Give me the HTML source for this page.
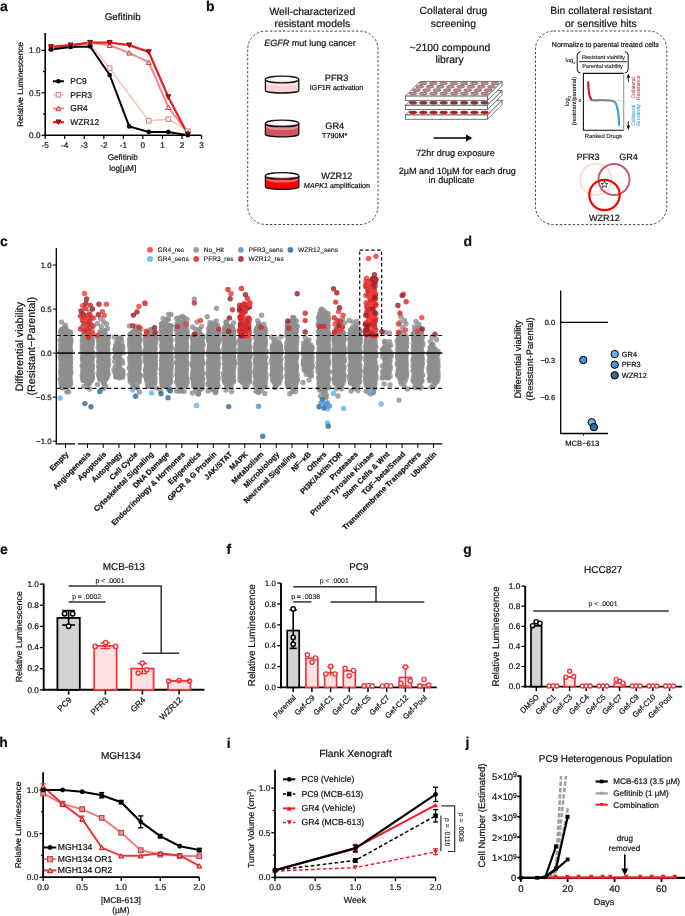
<!DOCTYPE html>
<html><head><meta charset="utf-8"><style>
html,body{margin:0;padding:0;background:#fff;}
svg{display:block;will-change:transform;}
text{font-family:"Liberation Sans",sans-serif;stroke:#111;stroke-width:0.2px;text-rendering:geometricPrecision;}
</style></head><body>
<svg width="685" height="916" viewBox="0 0 685 916">
<defs><clipPath id="clipj"><rect x="521" y="776" width="60" height="102"/></clipPath></defs>
<g fill="#111">
<text x="0" y="10.5" font-size="14" font-weight="bold">a</text>
<text x="122.7" y="20.3" font-size="9.8" text-anchor="middle">Gefitinib</text>
<line x1="45.2" y1="33" x2="45.2" y2="136" stroke="#000" stroke-width="1.6" />
<line x1="44.4" y1="135.3" x2="201.6" y2="135.3" stroke="#000" stroke-width="1.6" />
<line x1="41.5" y1="135.3" x2="45.2" y2="135.3" stroke="#000" stroke-width="1.2" />
<text x="40.5" y="138.2" font-size="8.2" text-anchor="end">0.0</text>
<line x1="41.5" y1="92.8" x2="45.2" y2="92.8" stroke="#000" stroke-width="1.2" />
<text x="40.5" y="95.7" font-size="8.2" text-anchor="end">0.5</text>
<line x1="41.5" y1="50.3" x2="45.2" y2="50.3" stroke="#000" stroke-width="1.2" />
<text x="40.5" y="53.2" font-size="8.2" text-anchor="end">1.0</text>
<line x1="43" y1="114.05" x2="45.2" y2="114.05" stroke="#000" stroke-width="1.2" />
<line x1="43" y1="71.55" x2="45.2" y2="71.55" stroke="#000" stroke-width="1.2" />
<line x1="45.2" y1="135.3" x2="45.2" y2="139" stroke="#000" stroke-width="1.2" />
<text x="45.2" y="148" font-size="8.2" text-anchor="middle">-5</text>
<line x1="64.74" y1="135.3" x2="64.74" y2="139" stroke="#000" stroke-width="1.2" />
<text x="64.74" y="148" font-size="8.2" text-anchor="middle">-4</text>
<line x1="84.28" y1="135.3" x2="84.28" y2="139" stroke="#000" stroke-width="1.2" />
<text x="84.28" y="148" font-size="8.2" text-anchor="middle">-3</text>
<line x1="103.82" y1="135.3" x2="103.82" y2="139" stroke="#000" stroke-width="1.2" />
<text x="103.82" y="148" font-size="8.2" text-anchor="middle">-2</text>
<line x1="123.36" y1="135.3" x2="123.36" y2="139" stroke="#000" stroke-width="1.2" />
<text x="123.36" y="148" font-size="8.2" text-anchor="middle">-1</text>
<line x1="142.9" y1="135.3" x2="142.9" y2="139" stroke="#000" stroke-width="1.2" />
<text x="142.9" y="148" font-size="8.2" text-anchor="middle">0</text>
<line x1="162.44" y1="135.3" x2="162.44" y2="139" stroke="#000" stroke-width="1.2" />
<text x="162.44" y="148" font-size="8.2" text-anchor="middle">1</text>
<line x1="181.98" y1="135.3" x2="181.98" y2="139" stroke="#000" stroke-width="1.2" />
<text x="181.98" y="148" font-size="8.2" text-anchor="middle">2</text>
<line x1="201.52" y1="135.3" x2="201.52" y2="139" stroke="#000" stroke-width="1.2" />
<text x="201.52" y="148" font-size="8.2" text-anchor="middle">3</text>
<text x="122.7" y="160" font-size="8.2" text-anchor="middle">Gefitinib</text>
<text x="122.7" y="170.5" font-size="8.2" text-anchor="middle">log[µM]</text>
<text x="23.3" y="84.4" font-size="8.2" text-anchor="middle" transform="rotate(-90 23.3 84.4)">Relative Luminescence</text>
<polyline points="51.06,48.6 70.6,46.05 90.14,43.5 109.68,68.15 148.76,120.85 168.3,119.15 187.84,131.05" stroke="#f9c4c4" stroke-width="1.6" fill="none" />
<polyline points="51.06,47.75 70.6,45.2 90.14,42.65 109.68,45.2 129.22,52.85 148.76,62.2 168.3,107.25 187.84,132.75" stroke="#f08a8a" stroke-width="2" fill="none" />
<polyline points="51.06,46.9 70.6,45.2 90.14,42.65 109.68,42.65 129.22,45.2 148.76,52 168.3,97.05 187.84,134.45" stroke="#ec1c24" stroke-width="2.2" fill="none" />
<polyline points="51.06,49.45 70.6,46.9 90.14,46.48 109.68,74.95 129.22,126.38 148.76,131.9 168.3,131.9 187.84,135.3" stroke="#000" stroke-width="2" fill="none" />
<rect x="48.76" y="46.3" width="4.6" height="4.6" fill="#fde8e8" stroke="#b88a8a" stroke-width="0.9" />
<rect x="68.3" y="43.75" width="4.6" height="4.6" fill="#fde8e8" stroke="#b88a8a" stroke-width="0.9" />
<rect x="87.84" y="41.2" width="4.6" height="4.6" fill="#fde8e8" stroke="#b88a8a" stroke-width="0.9" />
<rect x="107.38" y="65.85" width="4.6" height="4.6" fill="#fde8e8" stroke="#b88a8a" stroke-width="0.9" />
<rect x="146.46" y="118.55" width="4.6" height="4.6" fill="#fde8e8" stroke="#b88a8a" stroke-width="0.9" />
<rect x="166" y="116.85" width="4.6" height="4.6" fill="#fde8e8" stroke="#b88a8a" stroke-width="0.9" />
<rect x="185.54" y="128.75" width="4.6" height="4.6" fill="#fde8e8" stroke="#b88a8a" stroke-width="0.9" />
<path d="M48.56 50L53.56 50L51.06 45.5Z" fill="#f8c8c8" stroke="#c03040" stroke-width="0.9" />
<path d="M68.1 47.45L73.1 47.45L70.6 42.95Z" fill="#f8c8c8" stroke="#c03040" stroke-width="0.9" />
<path d="M87.64 44.9L92.64 44.9L90.14 40.4Z" fill="#f8c8c8" stroke="#c03040" stroke-width="0.9" />
<path d="M107.18 47.45L112.18 47.45L109.68 42.95Z" fill="#f8c8c8" stroke="#c03040" stroke-width="0.9" />
<path d="M126.72 55.1L131.72 55.1L129.22 50.6Z" fill="#f8c8c8" stroke="#c03040" stroke-width="0.9" />
<path d="M146.26 64.45L151.26 64.45L148.76 59.95Z" fill="#f8c8c8" stroke="#c03040" stroke-width="0.9" />
<path d="M165.8 109.5L170.8 109.5L168.3 105Z" fill="#f8c8c8" stroke="#c03040" stroke-width="0.9" />
<path d="M185.34 135L190.34 135L187.84 130.5Z" fill="#f8c8c8" stroke="#c03040" stroke-width="0.9" />
<path d="M48.56 44.65L53.56 44.65L51.06 49.15Z" fill="#e01020" stroke="#600" stroke-width="0.9" />
<path d="M68.1 42.95L73.1 42.95L70.6 47.45Z" fill="#e01020" stroke="#600" stroke-width="0.9" />
<path d="M87.64 40.4L92.64 40.4L90.14 44.9Z" fill="#e01020" stroke="#600" stroke-width="0.9" />
<path d="M107.18 40.4L112.18 40.4L109.68 44.9Z" fill="#e01020" stroke="#600" stroke-width="0.9" />
<path d="M126.72 42.95L131.72 42.95L129.22 47.45Z" fill="#e01020" stroke="#600" stroke-width="0.9" />
<path d="M146.26 49.75L151.26 49.75L148.76 54.25Z" fill="#e01020" stroke="#600" stroke-width="0.9" />
<path d="M165.8 94.8L170.8 94.8L168.3 99.3Z" fill="#e01020" stroke="#600" stroke-width="0.9" />
<path d="M185.34 132.2L190.34 132.2L187.84 136.7Z" fill="#e01020" stroke="#600" stroke-width="0.9" />
<circle cx="51.06" cy="49.45" r="2.3" fill="#000" />
<circle cx="70.6" cy="46.9" r="2.3" fill="#000" />
<circle cx="90.14" cy="46.48" r="2.3" fill="#000" />
<circle cx="109.68" cy="74.95" r="2.3" fill="#000" />
<circle cx="129.22" cy="126.38" r="2.3" fill="#000" />
<circle cx="148.76" cy="131.9" r="2.3" fill="#000" />
<circle cx="168.3" cy="131.9" r="2.3" fill="#000" />
<circle cx="187.84" cy="135.3" r="2.3" fill="#000" />
<line x1="52.9" y1="81.3" x2="63.9" y2="81.3" stroke="#000" stroke-width="2" />
<circle cx="58.4" cy="81.3" r="2.3" fill="#000" />
<line x1="52.9" y1="94.8" x2="63.9" y2="94.8" stroke="#f9c4c4" stroke-width="1.6" />
<rect x="56.1" y="92.5" width="4.6" height="4.6" fill="#fde8e8" stroke="#b88a8a" stroke-width="0.9" />
<line x1="52.9" y1="108.5" x2="63.9" y2="108.5" stroke="#f08a8a" stroke-width="2" />
<path d="M55.9 110.75L60.9 110.75L58.4 106.25Z" fill="#f8c8c8" stroke="#c03040" stroke-width="0.9" />
<line x1="52.9" y1="122.2" x2="63.9" y2="122.2" stroke="#ec1c24" stroke-width="2.2" />
<path d="M55.9 119.95L60.9 119.95L58.4 124.45Z" fill="#e01020" stroke="#600" stroke-width="0.9" />
<text x="70.3" y="84.2" font-size="8.5">PC9</text>
<text x="70.3" y="97.7" font-size="8.5">PFR3</text>
<text x="70.3" y="111.4" font-size="8.5">GR4</text>
<text x="70.3" y="125.1" font-size="8.5">WZR12</text>
<text x="206" y="10.5" font-size="14" font-weight="bold">b</text>
<text x="312.4" y="14.9" font-size="10.4" text-anchor="middle">Well-characterized</text>
<text x="312.4" y="27.3" font-size="10.4" text-anchor="middle">resistant models</text>
<rect x="247.7" y="31.1" width="130.3" height="193.4" rx="18" ry="18" fill="none" stroke="#333" stroke-width="0.9" stroke-dasharray="2.5,1.8"/>
<text x="310" y="45.8" font-size="9" text-anchor="middle"><tspan font-style="italic">EGFR</tspan> mut lung cancer</text>
<path d="M265.4 79.5 L265.4 90.4 A16.7 2.6 0 0 0 298.8 90.4 L298.8 79.5 Z" fill="#f8d2d5" />
<path d="M265.4 79.5 A16.7 3.3 0 0 0 298.8 79.5 L298.8 82.9 A16.7 3.3 0 0 1 265.4 82.9 Z" fill="#fbe5e6" />
<ellipse cx="282.1" cy="79.5" rx="16.7" ry="3.3" fill="#fff"/>
<path d="M267.9 79.8 A14.2 2.7 0 0 0 296.3 79.8 A14.2 1.48 0 0 1 267.9 79.8 Z" fill="#f5c4c8" />
<path d="M265.4 79.5 L265.4 90.4 A16.7 2.6 0 0 0 298.8 90.4 L298.8 79.5" fill="none" stroke="#111" stroke-width="1.3" />
<ellipse cx="282.1" cy="79.5" rx="16.7" ry="3.3" fill="none" stroke="#111" stroke-width="1.3"/>
<path d="M265.4 123.4 L265.4 134.3 A16.7 2.6 0 0 0 298.8 134.3 L298.8 123.4 Z" fill="#d4555f" />
<path d="M265.4 123.4 A16.7 3.3 0 0 0 298.8 123.4 L298.8 126.8 A16.7 3.3 0 0 1 265.4 126.8 Z" fill="#e48a92" />
<ellipse cx="282.1" cy="123.4" rx="16.7" ry="3.3" fill="#fff"/>
<path d="M267.9 123.7 A14.2 2.7 0 0 0 296.3 123.7 A14.2 1.48 0 0 1 267.9 123.7 Z" fill="#dc707a" />
<path d="M265.4 123.4 L265.4 134.3 A16.7 2.6 0 0 0 298.8 134.3 L298.8 123.4" fill="none" stroke="#111" stroke-width="1.3" />
<ellipse cx="282.1" cy="123.4" rx="16.7" ry="3.3" fill="none" stroke="#111" stroke-width="1.3"/>
<path d="M265.4 175.9 L265.4 186.8 A16.7 2.6 0 0 0 298.8 186.8 L298.8 175.9 Z" fill="#fe0000" />
<path d="M265.4 175.9 A16.7 3.3 0 0 0 298.8 175.9 L298.8 179.3 A16.7 3.3 0 0 1 265.4 179.3 Z" fill="#ff5c5c" />
<ellipse cx="282.1" cy="175.9" rx="16.7" ry="3.3" fill="#fff"/>
<path d="M267.9 176.2 A14.2 2.7 0 0 0 296.3 176.2 A14.2 1.48 0 0 1 267.9 176.2 Z" fill="#ff3a40" />
<path d="M265.4 175.9 L265.4 186.8 A16.7 2.6 0 0 0 298.8 186.8 L298.8 175.9" fill="none" stroke="#111" stroke-width="1.3" />
<ellipse cx="282.1" cy="175.9" rx="16.7" ry="3.3" fill="none" stroke="#111" stroke-width="1.3"/>
<text x="336.6" y="81.2" font-size="9.2" text-anchor="middle">PFR3</text>
<text x="336.6" y="90" font-size="7.2" text-anchor="middle">IGF1R activation</text>
<text x="334.7" y="129.3" font-size="9.2" text-anchor="middle">GR4</text>
<text x="334.7" y="137.8" font-size="7.2" text-anchor="middle">T790M*</text>
<text x="336.9" y="179" font-size="9.2" text-anchor="middle">WZR12</text>
<text x="336.9" y="188.2" font-size="7.2" text-anchor="middle"><tspan font-style="italic">MAPK1</tspan> amplification</text>
<text x="453.4" y="14.2" font-size="10.4" text-anchor="middle">Collateral drug</text>
<text x="453.4" y="26.6" font-size="10.4" text-anchor="middle">screening</text>
<text x="449.9" y="50.8" font-size="10.4" text-anchor="middle">~2100 compound</text>
<text x="449.6" y="63.2" font-size="10.4" text-anchor="middle">library</text>
<path d="M487.5 114.8 L502 100.3 L502 104.8 L487.5 119.3 Z" fill="#fff" stroke="#555" stroke-width="0.8" />
<rect x="405.6" y="114.8" width="81.9" height="4.5" fill="#fff" stroke="#555" stroke-width="0.8" />
<path d="M405.6 114.8 L420 100.3 L502 100.3 L487.5 114.8 Z" fill="#fff" stroke="#555" stroke-width="0.8" />
<ellipse cx="413.02" cy="112.48" rx="3.9" ry="1.45" fill="#c4121c" stroke="#5a3434" stroke-width="0.5"/>
<ellipse cx="423.26" cy="112.48" rx="3.9" ry="1.45" fill="#c4121c" stroke="#5a3434" stroke-width="0.5"/>
<ellipse cx="433.5" cy="112.48" rx="3.9" ry="1.45" fill="#c4121c" stroke="#5a3434" stroke-width="0.5"/>
<ellipse cx="443.74" cy="112.48" rx="3.9" ry="1.45" fill="#c4121c" stroke="#5a3434" stroke-width="0.5"/>
<ellipse cx="453.98" cy="112.48" rx="3.9" ry="1.45" fill="#c4121c" stroke="#5a3434" stroke-width="0.5"/>
<ellipse cx="464.22" cy="112.48" rx="3.9" ry="1.45" fill="#c4121c" stroke="#5a3434" stroke-width="0.5"/>
<ellipse cx="474.46" cy="112.48" rx="3.9" ry="1.45" fill="#c4121c" stroke="#5a3434" stroke-width="0.5"/>
<ellipse cx="484.7" cy="112.48" rx="3.9" ry="1.45" fill="#c4121c" stroke="#5a3434" stroke-width="0.5"/>
<path d="M487.5 105.1 L502 90.6 L502 95.1 L487.5 109.6 Z" fill="#fff" stroke="#555" stroke-width="0.8" />
<rect x="405.6" y="105.1" width="81.9" height="4.5" fill="#fff" stroke="#555" stroke-width="0.8" />
<path d="M405.6 105.1 L420 90.6 L502 90.6 L487.5 105.1 Z" fill="#fff" stroke="#555" stroke-width="0.8" />
<ellipse cx="413.02" cy="102.78" rx="3.9" ry="1.45" fill="#9b2a35" stroke="#5a3434" stroke-width="0.5"/>
<ellipse cx="423.26" cy="102.78" rx="3.9" ry="1.45" fill="#9b2a35" stroke="#5a3434" stroke-width="0.5"/>
<ellipse cx="433.5" cy="102.78" rx="3.9" ry="1.45" fill="#9b2a35" stroke="#5a3434" stroke-width="0.5"/>
<ellipse cx="443.74" cy="102.78" rx="3.9" ry="1.45" fill="#9b2a35" stroke="#5a3434" stroke-width="0.5"/>
<ellipse cx="453.98" cy="102.78" rx="3.9" ry="1.45" fill="#9b2a35" stroke="#5a3434" stroke-width="0.5"/>
<ellipse cx="464.22" cy="102.78" rx="3.9" ry="1.45" fill="#9b2a35" stroke="#5a3434" stroke-width="0.5"/>
<ellipse cx="474.46" cy="102.78" rx="3.9" ry="1.45" fill="#9b2a35" stroke="#5a3434" stroke-width="0.5"/>
<ellipse cx="484.7" cy="102.78" rx="3.9" ry="1.45" fill="#9b2a35" stroke="#5a3434" stroke-width="0.5"/>
<path d="M487.5 95.9 L502 81.4 L502 85.9 L487.5 100.4 Z" fill="#fff" stroke="#555" stroke-width="0.8" />
<rect x="405.6" y="95.9" width="81.9" height="4.5" fill="#fff" stroke="#555" stroke-width="0.8" />
<path d="M405.6 95.9 L420 81.4 L502 81.4 L487.5 95.9 Z" fill="#fff" stroke="#555" stroke-width="0.8" />
<ellipse cx="423.11" cy="83.42" rx="3.9" ry="1.45" fill="#c09095" stroke="#5a3434" stroke-width="0.5"/>
<ellipse cx="433.36" cy="83.42" rx="3.9" ry="1.45" fill="#c09095" stroke="#5a3434" stroke-width="0.5"/>
<ellipse cx="443.61" cy="83.42" rx="3.9" ry="1.45" fill="#c09095" stroke="#5a3434" stroke-width="0.5"/>
<ellipse cx="453.86" cy="83.42" rx="3.9" ry="1.45" fill="#c09095" stroke="#5a3434" stroke-width="0.5"/>
<ellipse cx="464.11" cy="83.42" rx="3.9" ry="1.45" fill="#c09095" stroke="#5a3434" stroke-width="0.5"/>
<ellipse cx="474.36" cy="83.42" rx="3.9" ry="1.45" fill="#c09095" stroke="#5a3434" stroke-width="0.5"/>
<ellipse cx="484.6" cy="83.42" rx="3.9" ry="1.45" fill="#c09095" stroke="#5a3434" stroke-width="0.5"/>
<ellipse cx="494.85" cy="83.42" rx="3.9" ry="1.45" fill="#c09095" stroke="#5a3434" stroke-width="0.5"/>
<ellipse cx="419.76" cy="86.8" rx="3.9" ry="1.45" fill="#c09095" stroke="#5a3434" stroke-width="0.5"/>
<ellipse cx="430.01" cy="86.8" rx="3.9" ry="1.45" fill="#c09095" stroke="#5a3434" stroke-width="0.5"/>
<ellipse cx="440.26" cy="86.8" rx="3.9" ry="1.45" fill="#c09095" stroke="#5a3434" stroke-width="0.5"/>
<ellipse cx="450.5" cy="86.8" rx="3.9" ry="1.45" fill="#c09095" stroke="#5a3434" stroke-width="0.5"/>
<ellipse cx="460.75" cy="86.8" rx="3.9" ry="1.45" fill="#c09095" stroke="#5a3434" stroke-width="0.5"/>
<ellipse cx="470.99" cy="86.8" rx="3.9" ry="1.45" fill="#c09095" stroke="#5a3434" stroke-width="0.5"/>
<ellipse cx="481.24" cy="86.8" rx="3.9" ry="1.45" fill="#c09095" stroke="#5a3434" stroke-width="0.5"/>
<ellipse cx="491.48" cy="86.8" rx="3.9" ry="1.45" fill="#c09095" stroke="#5a3434" stroke-width="0.5"/>
<ellipse cx="416.41" cy="90.17" rx="3.9" ry="1.45" fill="#c09095" stroke="#5a3434" stroke-width="0.5"/>
<ellipse cx="426.66" cy="90.17" rx="3.9" ry="1.45" fill="#c09095" stroke="#5a3434" stroke-width="0.5"/>
<ellipse cx="436.9" cy="90.17" rx="3.9" ry="1.45" fill="#c09095" stroke="#5a3434" stroke-width="0.5"/>
<ellipse cx="447.14" cy="90.17" rx="3.9" ry="1.45" fill="#c09095" stroke="#5a3434" stroke-width="0.5"/>
<ellipse cx="457.38" cy="90.17" rx="3.9" ry="1.45" fill="#c09095" stroke="#5a3434" stroke-width="0.5"/>
<ellipse cx="467.63" cy="90.17" rx="3.9" ry="1.45" fill="#c09095" stroke="#5a3434" stroke-width="0.5"/>
<ellipse cx="477.87" cy="90.17" rx="3.9" ry="1.45" fill="#c09095" stroke="#5a3434" stroke-width="0.5"/>
<ellipse cx="488.11" cy="90.17" rx="3.9" ry="1.45" fill="#c09095" stroke="#5a3434" stroke-width="0.5"/>
<ellipse cx="413.06" cy="93.54" rx="3.9" ry="1.45" fill="#c09095" stroke="#5a3434" stroke-width="0.5"/>
<ellipse cx="423.3" cy="93.54" rx="3.9" ry="1.45" fill="#c09095" stroke="#5a3434" stroke-width="0.5"/>
<ellipse cx="433.54" cy="93.54" rx="3.9" ry="1.45" fill="#c09095" stroke="#5a3434" stroke-width="0.5"/>
<ellipse cx="443.78" cy="93.54" rx="3.9" ry="1.45" fill="#c09095" stroke="#5a3434" stroke-width="0.5"/>
<ellipse cx="454.02" cy="93.54" rx="3.9" ry="1.45" fill="#c09095" stroke="#5a3434" stroke-width="0.5"/>
<ellipse cx="464.26" cy="93.54" rx="3.9" ry="1.45" fill="#c09095" stroke="#5a3434" stroke-width="0.5"/>
<ellipse cx="474.5" cy="93.54" rx="3.9" ry="1.45" fill="#c09095" stroke="#5a3434" stroke-width="0.5"/>
<ellipse cx="484.74" cy="93.54" rx="3.9" ry="1.45" fill="#c09095" stroke="#5a3434" stroke-width="0.5"/>
<line x1="433.6" y1="138" x2="467" y2="138" stroke="#000" stroke-width="1.3" />
<path d="M466 134.6 L472.6 138 L466 141.4 Z" fill="#000" />
<text x="455.5" y="156.4" font-size="9.1" text-anchor="middle">72hr drug exposure</text>
<text x="457.2" y="173.9" font-size="9.1" text-anchor="middle">2µM and 10µM for each drug</text>
<text x="451.6" y="182.8" font-size="9.1" text-anchor="middle">in duplicate</text>
<text x="601.2" y="14.2" font-size="10.4" text-anchor="middle">Bin collateral resistant</text>
<text x="600.9" y="26.8" font-size="10.4" text-anchor="middle">or sensitive hits</text>
<rect x="535.5" y="31" width="131.3" height="193.6" rx="18" ry="18" fill="none" stroke="#333" stroke-width="0.9" stroke-dasharray="2.5,1.8"/>
<text x="605.3" y="46.8" font-size="7.05" text-anchor="middle">Normalize to parental treated cells</text>
<text x="565.6" y="62.3" font-size="5.8" style="stroke-width:0.1px">log<tspan font-size="3.6" dy="1.3">2</tspan></text>
<path d="M580.6 51.6 Q577.2 51.8 577.2 55.5 L577.2 69 Q577.2 72.8 580.6 73" fill="none" stroke="#111" stroke-width="1" />
<path d="M624.8 51.6 Q628.2 51.8 628.2 55.5 L628.2 69 Q628.2 72.8 624.8 73" fill="none" stroke="#111" stroke-width="1" />
<text x="603.5" y="59.3" font-size="5.6" text-anchor="middle" style="stroke-width:0.1px">Resistant viability</text>
<line x1="579" y1="61.7" x2="627" y2="61.7" stroke="#111" stroke-width="0.9" />
<text x="602.5" y="68.4" font-size="5.6" text-anchor="middle" style="stroke-width:0.1px">Parental viability</text>
<path d="M623.7 73.4 L583.4 73.4 L583.4 130.3 L623.7 130.3" fill="none" stroke="#111" stroke-width="1.1" />
<line x1="623.7" y1="73.4" x2="623.7" y2="130.3" stroke="#999" stroke-width="1.1" />
<line x1="583.4" y1="100.7" x2="623.7" y2="100.7" stroke="#bbb" stroke-width="0.8" stroke-dasharray="1.5,1" />
<text x="581.4" y="102.3" font-size="4.6" text-anchor="end" style="stroke-width:0.1px">0</text>
<path d="M588.2 81.6 C588.4 92 589.2 98.5 592 100.2" fill="none" stroke="#c8202a" stroke-width="2.2" />
<path d="M592 100.2 C597 100.6 604 99.6 609 100.3 C612.5 100.8 614.5 101.5 615.4 102.6" fill="none" stroke="#8a8a8a" stroke-width="2.2" />
<path d="M615.4 102.6 C617.5 105.5 618.8 114 619.1 125.7" fill="none" stroke="#3fa0e0" stroke-width="2.2" />
<line x1="628.3" y1="82.3" x2="628.3" y2="77" stroke="#111" stroke-width="0.9" />
<path d="M626.4 77.8 L628.3 73.6 L630.2 77.8 Z" fill="#111" />
<line x1="628.3" y1="121" x2="628.3" y2="126.4" stroke="#111" stroke-width="0.9" />
<path d="M626.4 125.6 L628.3 129.9 L630.2 125.6 Z" fill="#111" />
<text x="635.4" y="87.8" font-size="5" text-anchor="middle" style="fill:#c9474d;stroke:#c9474d;stroke-width:0.1px" transform="rotate(-90 635.4 87.8)">Collateral</text>
<text x="640.3" y="87.8" font-size="5" text-anchor="middle" style="fill:#c9474d;stroke:#c9474d;stroke-width:0.1px" transform="rotate(-90 640.3 87.8)">Resistance</text>
<text x="635.4" y="115.2" font-size="5" text-anchor="middle" style="fill:#4ba6de;stroke:#4ba6de;stroke-width:0.1px" transform="rotate(-90 635.4 115.2)">Collateral</text>
<text x="640.3" y="115.2" font-size="5" text-anchor="middle" style="fill:#4ba6de;stroke:#4ba6de;stroke-width:0.1px" transform="rotate(-90 640.3 115.2)">Sensitivity</text>
<text transform="rotate(-90 569.3 101)" x="569.3" y="101" font-size="6" text-anchor="middle" style="stroke-width:0.1px">log<tspan font-size="3.8" dy="1.4">2</tspan></text>
<text x="575.6" y="101" font-size="5.8" text-anchor="middle" style="stroke-width:0.1px" transform="rotate(-90 575.6 101)">(resistant/parental)</text>
<text x="603.3" y="137.9" font-size="5.8" text-anchor="middle" style="stroke-width:0.1px">Ranked Drugs</text>
<text x="588" y="160" font-size="9.1" text-anchor="middle">PFR3</text>
<text x="628.5" y="160" font-size="9.1" text-anchor="middle">GR4</text>
<circle cx="595.8" cy="179.4" r="15.6" fill="none" stroke="#fad6d8" stroke-width="1.6" />
<circle cx="614" cy="179.5" r="15.5" fill="none" stroke="#c85a66" stroke-width="1.9" />
<circle cx="604.5" cy="195" r="15.2" fill="none" stroke="#f50000" stroke-width="2.2" />
<path d="M604.5 181 L605.39 183.38 L607.92 183.49 L605.94 185.07 L606.62 187.51 L604.5 186.11 L602.38 187.51 L603.06 185.07 L601.08 183.49 L603.61 183.38 Z" fill="#fff" stroke="#222" stroke-width="0.8" />
<text x="604.4" y="220.9" font-size="9.1" text-anchor="middle">WZR12</text>
<text x="0" y="245.5" font-size="14" font-weight="bold">c</text>
<line x1="56.3" y1="248" x2="56.3" y2="444.6" stroke="#000" stroke-width="1.3" />
<line x1="55.7" y1="443.9" x2="75" y2="443.9" stroke="#000" stroke-width="1.3" />
<line x1="77.8" y1="443.9" x2="442.3" y2="443.9" stroke="#000" stroke-width="1.3" />
<line x1="52.8" y1="265" x2="56.3" y2="265" stroke="#000" stroke-width="1" />
<text x="51.5" y="267.7" font-size="7.8" text-anchor="end">1.0</text>
<line x1="52.8" y1="309.05" x2="56.3" y2="309.05" stroke="#000" stroke-width="1" />
<text x="51.5" y="311.75" font-size="7.8" text-anchor="end">0.5</text>
<line x1="52.8" y1="353.1" x2="56.3" y2="353.1" stroke="#000" stroke-width="1" />
<text x="51.5" y="355.8" font-size="7.8" text-anchor="end">0.0</text>
<line x1="52.8" y1="397.15" x2="56.3" y2="397.15" stroke="#000" stroke-width="1" />
<text x="51.5" y="399.85" font-size="7.8" text-anchor="end">−0.5</text>
<line x1="52.8" y1="441.2" x2="56.3" y2="441.2" stroke="#000" stroke-width="1" />
<text x="51.5" y="443.9" font-size="7.8" text-anchor="end">−1.0</text>
<text x="23.2" y="346.7" font-size="10.8" text-anchor="middle" transform="rotate(-90 23.2 346.7)">Differential viability</text>
<text x="34.6" y="346.2" font-size="10.8" text-anchor="middle" transform="rotate(-90 34.6 346.2)">(Resistant−Parental)</text>
<line x1="65.5" y1="443.9" x2="65.5" y2="448" stroke="#000" stroke-width="1" />
<line x1="87.5" y1="443.9" x2="87.5" y2="448" stroke="#000" stroke-width="1" />
<line x1="103.23" y1="443.9" x2="103.23" y2="448" stroke="#000" stroke-width="1" />
<line x1="118.96" y1="443.9" x2="118.96" y2="448" stroke="#000" stroke-width="1" />
<line x1="134.69" y1="443.9" x2="134.69" y2="448" stroke="#000" stroke-width="1" />
<line x1="150.42" y1="443.9" x2="150.42" y2="448" stroke="#000" stroke-width="1" />
<line x1="166.15" y1="443.9" x2="166.15" y2="448" stroke="#000" stroke-width="1" />
<line x1="181.88" y1="443.9" x2="181.88" y2="448" stroke="#000" stroke-width="1" />
<line x1="197.61" y1="443.9" x2="197.61" y2="448" stroke="#000" stroke-width="1" />
<line x1="213.34" y1="443.9" x2="213.34" y2="448" stroke="#000" stroke-width="1" />
<line x1="229.07" y1="443.9" x2="229.07" y2="448" stroke="#000" stroke-width="1" />
<line x1="244.8" y1="443.9" x2="244.8" y2="448" stroke="#000" stroke-width="1" />
<line x1="260.53" y1="443.9" x2="260.53" y2="448" stroke="#000" stroke-width="1" />
<line x1="276.26" y1="443.9" x2="276.26" y2="448" stroke="#000" stroke-width="1" />
<line x1="291.99" y1="443.9" x2="291.99" y2="448" stroke="#000" stroke-width="1" />
<line x1="307.72" y1="443.9" x2="307.72" y2="448" stroke="#000" stroke-width="1" />
<line x1="323.45" y1="443.9" x2="323.45" y2="448" stroke="#000" stroke-width="1" />
<line x1="339.18" y1="443.9" x2="339.18" y2="448" stroke="#000" stroke-width="1" />
<line x1="354.91" y1="443.9" x2="354.91" y2="448" stroke="#000" stroke-width="1" />
<line x1="370.64" y1="443.9" x2="370.64" y2="448" stroke="#000" stroke-width="1" />
<line x1="386.37" y1="443.9" x2="386.37" y2="448" stroke="#000" stroke-width="1" />
<line x1="402.1" y1="443.9" x2="402.1" y2="448" stroke="#000" stroke-width="1" />
<line x1="417.83" y1="443.9" x2="417.83" y2="448" stroke="#000" stroke-width="1" />
<line x1="433.56" y1="443.9" x2="433.56" y2="448" stroke="#000" stroke-width="1" />
<g fill="#8e8e8e">
<rect x="59.45" y="332.5" width="12.1" height="52"/>
<rect x="81.45" y="336.5" width="12.1" height="42"/>
<rect x="97.18" y="335.5" width="12.1" height="42"/>
<rect x="116.44" y="345" width="5.04" height="26"/>
<rect x="128.64" y="333.5" width="12.1" height="46"/>
<rect x="144.37" y="335.5" width="12.1" height="45"/>
<rect x="160.1" y="325.5" width="12.1" height="58"/>
<rect x="175.83" y="323.5" width="12.1" height="61"/>
<rect x="191.56" y="336.5" width="12.1" height="51"/>
<rect x="207.29" y="327.5" width="12.1" height="58"/>
<rect x="223.02" y="329.5" width="12.1" height="53"/>
<rect x="238.75" y="338.5" width="12.1" height="42"/>
<rect x="254.48" y="330.5" width="12.1" height="55"/>
<rect x="270.76" y="346.5" width="11" height="34"/>
<rect x="285.94" y="324.5" width="12.1" height="60"/>
<rect x="302.62" y="346.5" width="10.2" height="23"/>
<rect x="317.4" y="316.5" width="12.1" height="73"/>
<rect x="333.13" y="333.5" width="12.1" height="49"/>
<rect x="348.86" y="331.5" width="12.1" height="51"/>
<rect x="364.59" y="338.5" width="12.1" height="48"/>
<rect x="383.49" y="347" width="5.76" height="25"/>
<rect x="396.6" y="338.5" width="11" height="38"/>
<rect x="412.33" y="333.5" width="11" height="48"/>
<rect x="428.36" y="350.5" width="10.4" height="29"/>
</g>
<g fill="#8e8e8e" fill-opacity="0.8">
<circle cx="61.08" cy="332.3" r="2.7"/>
<circle cx="70.42" cy="332.14" r="2.7"/>
<circle cx="61.02" cy="334.36" r="2.7"/>
<circle cx="70.2" cy="334.32" r="2.7"/>
<circle cx="61.47" cy="336.54" r="2.7"/>
<circle cx="70.07" cy="338.02" r="2.7"/>
<circle cx="61.24" cy="339.37" r="2.7"/>
<circle cx="70.87" cy="339.27" r="2.7"/>
<circle cx="60.09" cy="340.28" r="2.7"/>
<circle cx="70.73" cy="340.77" r="2.7"/>
<circle cx="61.4" cy="342.58" r="2.7"/>
<circle cx="70.67" cy="342.32" r="2.7"/>
<circle cx="60.6" cy="345" r="2.7"/>
<circle cx="70.26" cy="344.38" r="2.7"/>
<circle cx="61.26" cy="347.29" r="2.7"/>
<circle cx="70.08" cy="346.56" r="2.7"/>
<circle cx="60.88" cy="348.83" r="2.7"/>
<circle cx="70.64" cy="349.63" r="2.7"/>
<circle cx="60.7" cy="351.18" r="2.7"/>
<circle cx="70.76" cy="351.59" r="2.7"/>
<circle cx="60.08" cy="352.31" r="2.7"/>
<circle cx="70.06" cy="353.59" r="2.7"/>
<circle cx="60.83" cy="353.93" r="2.7"/>
<circle cx="70.44" cy="355.38" r="2.7"/>
<circle cx="60.24" cy="356.77" r="2.7"/>
<circle cx="70.49" cy="357.33" r="2.7"/>
<circle cx="60.88" cy="360.12" r="2.7"/>
<circle cx="70.87" cy="359.39" r="2.7"/>
<circle cx="61.48" cy="362.24" r="2.7"/>
<circle cx="70.41" cy="362.82" r="2.7"/>
<circle cx="61.14" cy="364.19" r="2.7"/>
<circle cx="70.44" cy="363.47" r="2.7"/>
<circle cx="61.32" cy="365.81" r="2.7"/>
<circle cx="69.51" cy="367.11" r="2.7"/>
<circle cx="61.2" cy="368.11" r="2.7"/>
<circle cx="70.75" cy="367.49" r="2.7"/>
<circle cx="60.74" cy="371.24" r="2.7"/>
<circle cx="70.67" cy="371.2" r="2.7"/>
<circle cx="60.94" cy="372.12" r="2.7"/>
<circle cx="70.77" cy="373.32" r="2.7"/>
<circle cx="61.31" cy="373.65" r="2.7"/>
<circle cx="69.78" cy="374.15" r="2.7"/>
<circle cx="61.18" cy="375.5" r="2.7"/>
<circle cx="70.06" cy="376.23" r="2.7"/>
<circle cx="60.12" cy="379.15" r="2.7"/>
<circle cx="70.21" cy="379.01" r="2.7"/>
<circle cx="61.49" cy="381.98" r="2.7"/>
<circle cx="70.61" cy="381.93" r="2.7"/>
<circle cx="60.98" cy="383.54" r="2.7"/>
<circle cx="69.58" cy="384.01" r="2.7"/>
<circle cx="61.49" cy="330.44" r="2.7"/>
<circle cx="62.37" cy="385.97" r="2.7"/>
<circle cx="61.35" cy="329.5" r="2.7"/>
<circle cx="62.27" cy="387.04" r="2.7"/>
<circle cx="64.24" cy="329.61" r="2.7"/>
<circle cx="68.97" cy="384.74" r="2.7"/>
<circle cx="62.24" cy="330.64" r="2.7"/>
<circle cx="64.09" cy="385.86" r="2.7"/>
<circle cx="62.01" cy="333.32" r="2.7"/>
<circle cx="70.07" cy="385.4" r="2.7"/>
<circle cx="65.35" cy="329.89" r="2.7"/>
<circle cx="61.81" cy="385.96" r="2.7"/>
<circle cx="63.32" cy="333.23" r="2.7"/>
<circle cx="62.36" cy="387.4" r="2.7"/>
<circle cx="69.68" cy="331.88" r="2.7"/>
<circle cx="62.23" cy="385.06" r="2.7"/>
<circle cx="61.12" cy="331.88" r="2.7"/>
<circle cx="69.93" cy="383.62" r="2.7"/>
<circle cx="67.32" cy="330.68" r="2.7"/>
<circle cx="64.26" cy="386.75" r="2.7"/>
<circle cx="68.02" cy="331.9" r="2.7"/>
<circle cx="68.09" cy="386.02" r="2.7"/>
<circle cx="62.93" cy="333.15" r="2.7"/>
<circle cx="69.99" cy="383.66" r="2.7"/>
<circle cx="68.34" cy="333.18" r="2.7"/>
<circle cx="67.72" cy="386.48" r="2.7"/>
<circle cx="65.62" cy="327.58" r="2.7"/>
<circle cx="62.42" cy="388.11" r="2.7"/>
<circle cx="64.06" cy="327.96" r="2.7"/>
<circle cx="66.76" cy="391.83" r="2.7"/>
<circle cx="65.15" cy="325.25" r="2.7"/>
<circle cx="68.69" cy="391.82" r="2.7"/>
<circle cx="83.02" cy="336.44" r="2.7"/>
<circle cx="91.77" cy="336.39" r="2.7"/>
<circle cx="82.62" cy="339.65" r="2.7"/>
<circle cx="92.71" cy="338.8" r="2.7"/>
<circle cx="82.36" cy="340.4" r="2.7"/>
<circle cx="92.43" cy="342.05" r="2.7"/>
<circle cx="82.43" cy="343.72" r="2.7"/>
<circle cx="91.7" cy="344.35" r="2.7"/>
<circle cx="82.35" cy="346.71" r="2.7"/>
<circle cx="92.03" cy="345.57" r="2.7"/>
<circle cx="82.47" cy="347.84" r="2.7"/>
<circle cx="91.62" cy="347.81" r="2.7"/>
<circle cx="82.35" cy="350.48" r="2.7"/>
<circle cx="92.69" cy="352.15" r="2.7"/>
<circle cx="83.04" cy="353.67" r="2.7"/>
<circle cx="91.62" cy="352.61" r="2.7"/>
<circle cx="82.58" cy="356.4" r="2.7"/>
<circle cx="92.85" cy="356.21" r="2.7"/>
<circle cx="82.32" cy="358.41" r="2.7"/>
<circle cx="91.81" cy="358.57" r="2.7"/>
<circle cx="82.68" cy="360.4" r="2.7"/>
<circle cx="92.06" cy="360.14" r="2.7"/>
<circle cx="83.04" cy="363.49" r="2.7"/>
<circle cx="92.31" cy="364.38" r="2.7"/>
<circle cx="82.18" cy="365.68" r="2.7"/>
<circle cx="92.24" cy="365.72" r="2.7"/>
<circle cx="82.9" cy="366.66" r="2.7"/>
<circle cx="91.43" cy="367.89" r="2.7"/>
<circle cx="82.85" cy="369.55" r="2.7"/>
<circle cx="92.27" cy="368.76" r="2.7"/>
<circle cx="82.73" cy="371.89" r="2.7"/>
<circle cx="91.59" cy="371.45" r="2.7"/>
<circle cx="83.15" cy="373.77" r="2.7"/>
<circle cx="92.2" cy="373.35" r="2.7"/>
<circle cx="82.18" cy="375.62" r="2.7"/>
<circle cx="92.36" cy="375.75" r="2.7"/>
<circle cx="82.52" cy="377.85" r="2.7"/>
<circle cx="92.24" cy="377.91" r="2.7"/>
<circle cx="89.35" cy="337.44" r="2.7"/>
<circle cx="91.6" cy="380.33" r="2.7"/>
<circle cx="88.05" cy="337.74" r="2.7"/>
<circle cx="90.65" cy="380.88" r="2.7"/>
<circle cx="83.99" cy="335.49" r="2.7"/>
<circle cx="83.54" cy="380.42" r="2.7"/>
<circle cx="83.54" cy="336.51" r="2.7"/>
<circle cx="90.13" cy="377.46" r="2.7"/>
<circle cx="84.3" cy="336.72" r="2.7"/>
<circle cx="88.98" cy="380.86" r="2.7"/>
<circle cx="91.05" cy="337.85" r="2.7"/>
<circle cx="84.9" cy="377.21" r="2.7"/>
<circle cx="86.56" cy="335.69" r="2.7"/>
<circle cx="92.04" cy="377.75" r="2.7"/>
<circle cx="84.36" cy="335.44" r="2.7"/>
<circle cx="87.64" cy="379.97" r="2.7"/>
<circle cx="84.68" cy="334.93" r="2.7"/>
<circle cx="89.56" cy="381.41" r="2.7"/>
<circle cx="88" cy="335.48" r="2.7"/>
<circle cx="83.04" cy="380.01" r="2.7"/>
<circle cx="88.65" cy="335.81" r="2.7"/>
<circle cx="83.46" cy="377.07" r="2.7"/>
<circle cx="90.17" cy="337.87" r="2.7"/>
<circle cx="83.84" cy="380.3" r="2.7"/>
<circle cx="83.23" cy="337.01" r="2.7"/>
<circle cx="85.37" cy="380.92" r="2.7"/>
<circle cx="86.99" cy="329.35" r="2.7"/>
<circle cx="89.59" cy="383.03" r="2.7"/>
<circle cx="85.21" cy="329.32" r="2.7"/>
<circle cx="87.96" cy="384.8" r="2.7"/>
<circle cx="84.82" cy="332.77" r="2.7"/>
<circle cx="88.73" cy="383.7" r="2.7"/>
<circle cx="99.2" cy="336.88" r="2.7"/>
<circle cx="108.12" cy="336.6" r="2.7"/>
<circle cx="98" cy="336.83" r="2.7"/>
<circle cx="108.47" cy="337.61" r="2.7"/>
<circle cx="98.46" cy="340.56" r="2.7"/>
<circle cx="107.56" cy="338.97" r="2.7"/>
<circle cx="98.94" cy="341.16" r="2.7"/>
<circle cx="107.4" cy="341.04" r="2.7"/>
<circle cx="98.83" cy="343.39" r="2.7"/>
<circle cx="108.31" cy="343.36" r="2.7"/>
<circle cx="99.03" cy="345.68" r="2.7"/>
<circle cx="107.18" cy="345.48" r="2.7"/>
<circle cx="98.19" cy="347.7" r="2.7"/>
<circle cx="107.44" cy="347.55" r="2.7"/>
<circle cx="99.14" cy="350.96" r="2.7"/>
<circle cx="107.81" cy="350.31" r="2.7"/>
<circle cx="98.71" cy="352.94" r="2.7"/>
<circle cx="108.2" cy="353.89" r="2.7"/>
<circle cx="98.04" cy="355.35" r="2.7"/>
<circle cx="108.12" cy="354.74" r="2.7"/>
<circle cx="99.22" cy="356.21" r="2.7"/>
<circle cx="107.26" cy="357.43" r="2.7"/>
<circle cx="99.06" cy="358.03" r="2.7"/>
<circle cx="108.44" cy="359.6" r="2.7"/>
<circle cx="98.88" cy="360.75" r="2.7"/>
<circle cx="107.6" cy="361.18" r="2.7"/>
<circle cx="98.63" cy="362.58" r="2.7"/>
<circle cx="108.62" cy="364" r="2.7"/>
<circle cx="98.93" cy="366.24" r="2.7"/>
<circle cx="107.63" cy="365.02" r="2.7"/>
<circle cx="98.72" cy="366.86" r="2.7"/>
<circle cx="107.92" cy="366.31" r="2.7"/>
<circle cx="99.3" cy="368.64" r="2.7"/>
<circle cx="107.29" cy="368.91" r="2.7"/>
<circle cx="99.27" cy="370.37" r="2.7"/>
<circle cx="107.51" cy="370.94" r="2.7"/>
<circle cx="98.16" cy="373.32" r="2.7"/>
<circle cx="108.25" cy="373.76" r="2.7"/>
<circle cx="98.81" cy="376.04" r="2.7"/>
<circle cx="107.38" cy="375.52" r="2.7"/>
<circle cx="99" cy="336.26" r="2.7"/>
<circle cx="106.86" cy="377.68" r="2.7"/>
<circle cx="105.4" cy="336.15" r="2.7"/>
<circle cx="99.89" cy="378.14" r="2.7"/>
<circle cx="103.27" cy="336.26" r="2.7"/>
<circle cx="106.05" cy="376.78" r="2.7"/>
<circle cx="104.01" cy="336.52" r="2.7"/>
<circle cx="104.92" cy="377.38" r="2.7"/>
<circle cx="100.73" cy="332.64" r="2.7"/>
<circle cx="99.83" cy="378.88" r="2.7"/>
<circle cx="99.57" cy="336.26" r="2.7"/>
<circle cx="103.77" cy="377.68" r="2.7"/>
<circle cx="104.4" cy="335.56" r="2.7"/>
<circle cx="103.13" cy="380.49" r="2.7"/>
<circle cx="105.99" cy="335.87" r="2.7"/>
<circle cx="103.26" cy="378.09" r="2.7"/>
<circle cx="104.71" cy="332.8" r="2.7"/>
<circle cx="105.42" cy="379.37" r="2.7"/>
<circle cx="99.29" cy="333.7" r="2.7"/>
<circle cx="105.35" cy="379.58" r="2.7"/>
<circle cx="105.45" cy="336.89" r="2.7"/>
<circle cx="103.17" cy="378.78" r="2.7"/>
<circle cx="103.04" cy="335.58" r="2.7"/>
<circle cx="105.7" cy="377.72" r="2.7"/>
<circle cx="104.55" cy="332.85" r="2.7"/>
<circle cx="99.96" cy="379.36" r="2.7"/>
<circle cx="104.82" cy="330.78" r="2.7"/>
<circle cx="103.67" cy="381.05" r="2.7"/>
<circle cx="100.36" cy="330.92" r="2.7"/>
<circle cx="104.35" cy="383.77" r="2.7"/>
<circle cx="104.38" cy="330.84" r="2.7"/>
<circle cx="103.34" cy="382.86" r="2.7"/>
<circle cx="115.76" cy="356.65" r="2.7"/>
<circle cx="116.43" cy="373.75" r="2.7"/>
<circle cx="122.62" cy="377.13" r="2.7"/>
<circle cx="118.62" cy="338.7" r="2.7"/>
<circle cx="122.89" cy="370.8" r="2.7"/>
<circle cx="117.02" cy="355.98" r="2.7"/>
<circle cx="122.7" cy="346.39" r="2.7"/>
<circle cx="119.64" cy="346.43" r="2.7"/>
<circle cx="119.16" cy="343.67" r="2.7"/>
<circle cx="115.87" cy="376.11" r="2.7"/>
<circle cx="119.03" cy="370.81" r="2.7"/>
<circle cx="120.67" cy="373.47" r="2.7"/>
<circle cx="122.3" cy="347.26" r="2.7"/>
<circle cx="114.97" cy="357.45" r="2.7"/>
<circle cx="118.89" cy="338.14" r="2.7"/>
<circle cx="117.3" cy="356.03" r="2.7"/>
<circle cx="117.65" cy="343.63" r="2.7"/>
<circle cx="121.82" cy="350.64" r="2.7"/>
<circle cx="121.07" cy="338.07" r="2.7"/>
<circle cx="115.77" cy="371.56" r="2.7"/>
<circle cx="120.75" cy="375.06" r="2.7"/>
<circle cx="117.19" cy="374.06" r="2.7"/>
<circle cx="118.06" cy="352.89" r="2.7"/>
<circle cx="119.71" cy="377.95" r="2.7"/>
<circle cx="118.36" cy="352.43" r="2.7"/>
<circle cx="115.17" cy="349.01" r="2.7"/>
<circle cx="121.77" cy="342.07" r="2.7"/>
<circle cx="122.62" cy="349.42" r="2.7"/>
<circle cx="116.99" cy="347.97" r="2.7"/>
<circle cx="116.35" cy="358.44" r="2.7"/>
<circle cx="122.79" cy="352.93" r="2.7"/>
<circle cx="121.58" cy="373.37" r="2.7"/>
<circle cx="122.43" cy="363.24" r="2.7"/>
<circle cx="119.37" cy="375.63" r="2.7"/>
<circle cx="115.18" cy="366.78" r="2.7"/>
<circle cx="118.55" cy="367.29" r="2.7"/>
<circle cx="120.17" cy="368.11" r="2.7"/>
<circle cx="115.17" cy="349.45" r="2.7"/>
<circle cx="115.83" cy="375.07" r="2.7"/>
<circle cx="117.65" cy="356.89" r="2.7"/>
<circle cx="120.97" cy="349.91" r="2.7"/>
<circle cx="116.95" cy="377.05" r="2.7"/>
<circle cx="117.29" cy="364.24" r="2.7"/>
<circle cx="118.07" cy="360.29" r="2.7"/>
<circle cx="116.12" cy="344.69" r="2.7"/>
<circle cx="122.37" cy="346.31" r="2.7"/>
<circle cx="116.61" cy="357.88" r="2.7"/>
<circle cx="123.13" cy="374.25" r="2.7"/>
<circle cx="115.93" cy="356" r="2.7"/>
<circle cx="115.52" cy="345.7" r="2.7"/>
<circle cx="115.53" cy="351.68" r="2.7"/>
<circle cx="116.93" cy="347.57" r="2.7"/>
<circle cx="122.21" cy="360.78" r="2.7"/>
<circle cx="118.23" cy="367.99" r="2.7"/>
<circle cx="119.16" cy="354.56" r="2.7"/>
<circle cx="117.6" cy="353.07" r="2.7"/>
<circle cx="117.09" cy="340.48" r="2.7"/>
<circle cx="115.82" cy="376.71" r="2.7"/>
<circle cx="120.05" cy="358.14" r="2.7"/>
<circle cx="116.57" cy="372.51" r="2.7"/>
<circle cx="116.85" cy="348.84" r="2.7"/>
<circle cx="118.51" cy="353.99" r="2.7"/>
<circle cx="121.89" cy="376.16" r="2.7"/>
<circle cx="114.94" cy="372.92" r="2.7"/>
<circle cx="120.72" cy="339.29" r="2.7"/>
<circle cx="118.74" cy="373.83" r="2.7"/>
<circle cx="114.76" cy="361.49" r="2.7"/>
<circle cx="130.17" cy="334.85" r="2.7"/>
<circle cx="139.87" cy="334.71" r="2.7"/>
<circle cx="130.39" cy="335.98" r="2.7"/>
<circle cx="138.85" cy="336.81" r="2.7"/>
<circle cx="129.33" cy="339.63" r="2.7"/>
<circle cx="139.6" cy="339.71" r="2.7"/>
<circle cx="129.92" cy="340.41" r="2.7"/>
<circle cx="139.81" cy="340.8" r="2.7"/>
<circle cx="129.78" cy="343.65" r="2.7"/>
<circle cx="138.81" cy="343.54" r="2.7"/>
<circle cx="129.7" cy="345.63" r="2.7"/>
<circle cx="138.72" cy="346.45" r="2.7"/>
<circle cx="130.17" cy="348.15" r="2.7"/>
<circle cx="139.53" cy="347.72" r="2.7"/>
<circle cx="130.06" cy="351.58" r="2.7"/>
<circle cx="139.6" cy="351.43" r="2.7"/>
<circle cx="130.41" cy="352.33" r="2.7"/>
<circle cx="140.08" cy="353.24" r="2.7"/>
<circle cx="130.73" cy="354.8" r="2.7"/>
<circle cx="139.64" cy="354.64" r="2.7"/>
<circle cx="129.75" cy="357.56" r="2.7"/>
<circle cx="138.96" cy="355.78" r="2.7"/>
<circle cx="130.12" cy="359.08" r="2.7"/>
<circle cx="138.92" cy="359.31" r="2.7"/>
<circle cx="130" cy="360.61" r="2.7"/>
<circle cx="140.09" cy="360.83" r="2.7"/>
<circle cx="130.41" cy="363.23" r="2.7"/>
<circle cx="139.77" cy="363.38" r="2.7"/>
<circle cx="130.01" cy="365.9" r="2.7"/>
<circle cx="138.95" cy="366.36" r="2.7"/>
<circle cx="129.32" cy="368.22" r="2.7"/>
<circle cx="139.21" cy="368.35" r="2.7"/>
<circle cx="130.55" cy="370.8" r="2.7"/>
<circle cx="138.71" cy="371.48" r="2.7"/>
<circle cx="129.42" cy="374.84" r="2.7"/>
<circle cx="140.14" cy="375.24" r="2.7"/>
<circle cx="130.48" cy="377.24" r="2.7"/>
<circle cx="139.75" cy="375.43" r="2.7"/>
<circle cx="130.19" cy="378.51" r="2.7"/>
<circle cx="139.12" cy="378.11" r="2.7"/>
<circle cx="132.65" cy="332.08" r="2.7"/>
<circle cx="138.91" cy="381.94" r="2.7"/>
<circle cx="138.99" cy="331.43" r="2.7"/>
<circle cx="133.36" cy="378.8" r="2.7"/>
<circle cx="137.67" cy="332.45" r="2.7"/>
<circle cx="130.51" cy="380.37" r="2.7"/>
<circle cx="133.51" cy="334.64" r="2.7"/>
<circle cx="131.85" cy="380.86" r="2.7"/>
<circle cx="138.37" cy="330.64" r="2.7"/>
<circle cx="133.86" cy="378.85" r="2.7"/>
<circle cx="137.16" cy="330.68" r="2.7"/>
<circle cx="130.38" cy="382.22" r="2.7"/>
<circle cx="138.58" cy="331.66" r="2.7"/>
<circle cx="136.98" cy="378.46" r="2.7"/>
<circle cx="133.2" cy="331.73" r="2.7"/>
<circle cx="138.93" cy="379.72" r="2.7"/>
<circle cx="132.49" cy="333.72" r="2.7"/>
<circle cx="132.99" cy="381.26" r="2.7"/>
<circle cx="130.09" cy="333.9" r="2.7"/>
<circle cx="138.55" cy="379.65" r="2.7"/>
<circle cx="138.8" cy="330.61" r="2.7"/>
<circle cx="132.22" cy="380.36" r="2.7"/>
<circle cx="138.92" cy="334.79" r="2.7"/>
<circle cx="133.64" cy="381.37" r="2.7"/>
<circle cx="134.04" cy="332.72" r="2.7"/>
<circle cx="138.66" cy="381.68" r="2.7"/>
<circle cx="136.67" cy="327.05" r="2.7"/>
<circle cx="136.8" cy="386.09" r="2.7"/>
<circle cx="135.39" cy="328.69" r="2.7"/>
<circle cx="133.51" cy="384.45" r="2.7"/>
<circle cx="136.54" cy="329.68" r="2.7"/>
<circle cx="132.71" cy="386.01" r="2.7"/>
<circle cx="146.12" cy="335.13" r="2.7"/>
<circle cx="154.4" cy="336.11" r="2.7"/>
<circle cx="145" cy="338.76" r="2.7"/>
<circle cx="155.85" cy="337.52" r="2.7"/>
<circle cx="146.35" cy="339.69" r="2.7"/>
<circle cx="155.43" cy="339.59" r="2.7"/>
<circle cx="145.86" cy="341.81" r="2.7"/>
<circle cx="155.37" cy="342.07" r="2.7"/>
<circle cx="145.48" cy="343.43" r="2.7"/>
<circle cx="155.63" cy="343.78" r="2.7"/>
<circle cx="145.93" cy="346.95" r="2.7"/>
<circle cx="154.65" cy="345.96" r="2.7"/>
<circle cx="146.26" cy="349.13" r="2.7"/>
<circle cx="155.23" cy="348.02" r="2.7"/>
<circle cx="144.98" cy="350.45" r="2.7"/>
<circle cx="154.7" cy="351.06" r="2.7"/>
<circle cx="144.98" cy="352.03" r="2.7"/>
<circle cx="155.07" cy="353.46" r="2.7"/>
<circle cx="145.1" cy="354.51" r="2.7"/>
<circle cx="154.79" cy="354.67" r="2.7"/>
<circle cx="145.01" cy="357.43" r="2.7"/>
<circle cx="155.76" cy="357" r="2.7"/>
<circle cx="145.81" cy="359.42" r="2.7"/>
<circle cx="155.53" cy="360.79" r="2.7"/>
<circle cx="145.59" cy="361.87" r="2.7"/>
<circle cx="154.68" cy="361.36" r="2.7"/>
<circle cx="146.18" cy="362.91" r="2.7"/>
<circle cx="155.26" cy="363.7" r="2.7"/>
<circle cx="146.48" cy="364.89" r="2.7"/>
<circle cx="155.38" cy="364.61" r="2.7"/>
<circle cx="146.19" cy="367.8" r="2.7"/>
<circle cx="155.18" cy="366.34" r="2.7"/>
<circle cx="145.89" cy="369.04" r="2.7"/>
<circle cx="155.32" cy="368.12" r="2.7"/>
<circle cx="145.43" cy="370.55" r="2.7"/>
<circle cx="154.78" cy="370.35" r="2.7"/>
<circle cx="146.02" cy="373.61" r="2.7"/>
<circle cx="154.89" cy="373.31" r="2.7"/>
<circle cx="144.98" cy="375.84" r="2.7"/>
<circle cx="154.64" cy="376.57" r="2.7"/>
<circle cx="146.49" cy="378.76" r="2.7"/>
<circle cx="154.99" cy="378.6" r="2.7"/>
<circle cx="153.97" cy="334.57" r="2.7"/>
<circle cx="147.29" cy="383.43" r="2.7"/>
<circle cx="150.9" cy="335.38" r="2.7"/>
<circle cx="154.22" cy="383.1" r="2.7"/>
<circle cx="151.55" cy="334.17" r="2.7"/>
<circle cx="150.46" cy="382.84" r="2.7"/>
<circle cx="148.41" cy="334.85" r="2.7"/>
<circle cx="154.36" cy="383.01" r="2.7"/>
<circle cx="150.33" cy="336.12" r="2.7"/>
<circle cx="154.75" cy="382.61" r="2.7"/>
<circle cx="146.96" cy="336.74" r="2.7"/>
<circle cx="154.83" cy="381.33" r="2.7"/>
<circle cx="146.28" cy="336.67" r="2.7"/>
<circle cx="149.38" cy="379.43" r="2.7"/>
<circle cx="151.53" cy="336.21" r="2.7"/>
<circle cx="147.27" cy="379.96" r="2.7"/>
<circle cx="147.85" cy="334.32" r="2.7"/>
<circle cx="153.63" cy="379.77" r="2.7"/>
<circle cx="147.48" cy="333.48" r="2.7"/>
<circle cx="149.49" cy="381.17" r="2.7"/>
<circle cx="149.34" cy="333.05" r="2.7"/>
<circle cx="148.08" cy="380.24" r="2.7"/>
<circle cx="154.1" cy="332.68" r="2.7"/>
<circle cx="151" cy="380.09" r="2.7"/>
<circle cx="146.14" cy="336.27" r="2.7"/>
<circle cx="146.88" cy="380.8" r="2.7"/>
<circle cx="150.75" cy="329.49" r="2.7"/>
<circle cx="149.15" cy="385.68" r="2.7"/>
<circle cx="150.96" cy="330.3" r="2.7"/>
<circle cx="151.46" cy="385.79" r="2.7"/>
<circle cx="150.02" cy="331.91" r="2.7"/>
<circle cx="151.2" cy="385.96" r="2.7"/>
<circle cx="161.87" cy="326.53" r="2.7"/>
<circle cx="171.26" cy="325.92" r="2.7"/>
<circle cx="161.5" cy="327.03" r="2.7"/>
<circle cx="170.27" cy="327.68" r="2.7"/>
<circle cx="161.55" cy="329.55" r="2.7"/>
<circle cx="170.14" cy="329.8" r="2.7"/>
<circle cx="161.11" cy="331.78" r="2.7"/>
<circle cx="170.85" cy="330.33" r="2.7"/>
<circle cx="161.65" cy="334.33" r="2.7"/>
<circle cx="170.28" cy="334.14" r="2.7"/>
<circle cx="161.11" cy="336.85" r="2.7"/>
<circle cx="170.37" cy="337.19" r="2.7"/>
<circle cx="160.77" cy="339.25" r="2.7"/>
<circle cx="170.33" cy="338.99" r="2.7"/>
<circle cx="162.13" cy="340.83" r="2.7"/>
<circle cx="171.23" cy="340.45" r="2.7"/>
<circle cx="161.81" cy="344.44" r="2.7"/>
<circle cx="170.29" cy="343.81" r="2.7"/>
<circle cx="161.91" cy="346.04" r="2.7"/>
<circle cx="170.85" cy="346.15" r="2.7"/>
<circle cx="161.95" cy="347.48" r="2.7"/>
<circle cx="171.5" cy="348.51" r="2.7"/>
<circle cx="161.97" cy="351.4" r="2.7"/>
<circle cx="170.25" cy="350.89" r="2.7"/>
<circle cx="161.68" cy="353.94" r="2.7"/>
<circle cx="170.92" cy="353.35" r="2.7"/>
<circle cx="162.07" cy="356.84" r="2.7"/>
<circle cx="171.04" cy="355.64" r="2.7"/>
<circle cx="161.82" cy="359.39" r="2.7"/>
<circle cx="170.96" cy="358.13" r="2.7"/>
<circle cx="161.55" cy="360.28" r="2.7"/>
<circle cx="171.21" cy="360.02" r="2.7"/>
<circle cx="161.84" cy="363.79" r="2.7"/>
<circle cx="171.58" cy="363.68" r="2.7"/>
<circle cx="161.75" cy="364.91" r="2.7"/>
<circle cx="170.13" cy="365.21" r="2.7"/>
<circle cx="161.57" cy="368.27" r="2.7"/>
<circle cx="171.44" cy="367.51" r="2.7"/>
<circle cx="161.23" cy="369.16" r="2.7"/>
<circle cx="170.08" cy="369.83" r="2.7"/>
<circle cx="161.68" cy="371.3" r="2.7"/>
<circle cx="170.96" cy="372.03" r="2.7"/>
<circle cx="161.27" cy="373.64" r="2.7"/>
<circle cx="170.28" cy="374.57" r="2.7"/>
<circle cx="162" cy="374.78" r="2.7"/>
<circle cx="171.05" cy="376.33" r="2.7"/>
<circle cx="161.61" cy="377.65" r="2.7"/>
<circle cx="170.09" cy="378.41" r="2.7"/>
<circle cx="161.69" cy="380.69" r="2.7"/>
<circle cx="170.75" cy="381.27" r="2.7"/>
<circle cx="161.85" cy="383.68" r="2.7"/>
<circle cx="170.14" cy="382.94" r="2.7"/>
<circle cx="163.72" cy="322.76" r="2.7"/>
<circle cx="168.73" cy="386.44" r="2.7"/>
<circle cx="166.62" cy="326.73" r="2.7"/>
<circle cx="162.84" cy="385.6" r="2.7"/>
<circle cx="167.15" cy="324.78" r="2.7"/>
<circle cx="167.46" cy="382.84" r="2.7"/>
<circle cx="163.14" cy="323.89" r="2.7"/>
<circle cx="164.3" cy="386.28" r="2.7"/>
<circle cx="169.76" cy="326.02" r="2.7"/>
<circle cx="168.15" cy="386.47" r="2.7"/>
<circle cx="169.34" cy="325.85" r="2.7"/>
<circle cx="165.83" cy="383.16" r="2.7"/>
<circle cx="165.71" cy="323.52" r="2.7"/>
<circle cx="162.49" cy="385.45" r="2.7"/>
<circle cx="161.88" cy="324.01" r="2.7"/>
<circle cx="168.46" cy="383.37" r="2.7"/>
<circle cx="169.35" cy="325.7" r="2.7"/>
<circle cx="163.98" cy="384.01" r="2.7"/>
<circle cx="165.56" cy="326.05" r="2.7"/>
<circle cx="166.37" cy="385.31" r="2.7"/>
<circle cx="167.47" cy="326.84" r="2.7"/>
<circle cx="163.53" cy="382.54" r="2.7"/>
<circle cx="161.66" cy="323.67" r="2.7"/>
<circle cx="163.71" cy="383.15" r="2.7"/>
<circle cx="170.27" cy="325.86" r="2.7"/>
<circle cx="164.55" cy="382.54" r="2.7"/>
<circle cx="165.03" cy="321.04" r="2.7"/>
<circle cx="168.82" cy="389.52" r="2.7"/>
<circle cx="167.41" cy="319.34" r="2.7"/>
<circle cx="169.28" cy="388.88" r="2.7"/>
<circle cx="168.37" cy="319.21" r="2.7"/>
<circle cx="168.49" cy="388.75" r="2.7"/>
<circle cx="176.85" cy="324.14" r="2.7"/>
<circle cx="186.27" cy="323.42" r="2.7"/>
<circle cx="177.84" cy="327.17" r="2.7"/>
<circle cx="186.02" cy="325.4" r="2.7"/>
<circle cx="176.54" cy="327.76" r="2.7"/>
<circle cx="186.02" cy="327.13" r="2.7"/>
<circle cx="176.9" cy="329.99" r="2.7"/>
<circle cx="186.87" cy="330.2" r="2.7"/>
<circle cx="177.05" cy="331.13" r="2.7"/>
<circle cx="187.05" cy="332.04" r="2.7"/>
<circle cx="177.86" cy="334.81" r="2.7"/>
<circle cx="187.2" cy="334.96" r="2.7"/>
<circle cx="177.64" cy="335.03" r="2.7"/>
<circle cx="185.86" cy="336.5" r="2.7"/>
<circle cx="176.99" cy="339.03" r="2.7"/>
<circle cx="186.77" cy="337.95" r="2.7"/>
<circle cx="177.81" cy="340.61" r="2.7"/>
<circle cx="186.12" cy="339.73" r="2.7"/>
<circle cx="177.92" cy="341.72" r="2.7"/>
<circle cx="186.24" cy="342.64" r="2.7"/>
<circle cx="177.47" cy="345.17" r="2.7"/>
<circle cx="186.57" cy="344.95" r="2.7"/>
<circle cx="177.91" cy="346.41" r="2.7"/>
<circle cx="186.47" cy="347.13" r="2.7"/>
<circle cx="176.88" cy="348.68" r="2.7"/>
<circle cx="186.13" cy="349.33" r="2.7"/>
<circle cx="176.7" cy="349.65" r="2.7"/>
<circle cx="185.81" cy="349.72" r="2.7"/>
<circle cx="176.46" cy="351.84" r="2.7"/>
<circle cx="186.55" cy="352.81" r="2.7"/>
<circle cx="177.67" cy="355.37" r="2.7"/>
<circle cx="186.33" cy="356.05" r="2.7"/>
<circle cx="176.52" cy="356.86" r="2.7"/>
<circle cx="186.13" cy="357.7" r="2.7"/>
<circle cx="177.79" cy="359.77" r="2.7"/>
<circle cx="185.93" cy="360.07" r="2.7"/>
<circle cx="176.76" cy="362.19" r="2.7"/>
<circle cx="186.35" cy="361.73" r="2.7"/>
<circle cx="176.6" cy="363.18" r="2.7"/>
<circle cx="187.16" cy="363.06" r="2.7"/>
<circle cx="177.55" cy="366.65" r="2.7"/>
<circle cx="186.57" cy="365.61" r="2.7"/>
<circle cx="177.6" cy="368.44" r="2.7"/>
<circle cx="186.62" cy="369.02" r="2.7"/>
<circle cx="176.97" cy="370.71" r="2.7"/>
<circle cx="186.3" cy="370.33" r="2.7"/>
<circle cx="176.95" cy="374.11" r="2.7"/>
<circle cx="186.06" cy="373.51" r="2.7"/>
<circle cx="177.07" cy="375.41" r="2.7"/>
<circle cx="186.51" cy="376.93" r="2.7"/>
<circle cx="177.66" cy="377.65" r="2.7"/>
<circle cx="186.88" cy="378.73" r="2.7"/>
<circle cx="177.72" cy="379.32" r="2.7"/>
<circle cx="186.3" cy="379.87" r="2.7"/>
<circle cx="177.46" cy="381" r="2.7"/>
<circle cx="187.29" cy="382.08" r="2.7"/>
<circle cx="176.49" cy="382.55" r="2.7"/>
<circle cx="186.39" cy="384.31" r="2.7"/>
<circle cx="184.04" cy="322.46" r="2.7"/>
<circle cx="179.07" cy="384.63" r="2.7"/>
<circle cx="178.24" cy="321.43" r="2.7"/>
<circle cx="180.85" cy="387.35" r="2.7"/>
<circle cx="180.94" cy="324.06" r="2.7"/>
<circle cx="183.67" cy="385.25" r="2.7"/>
<circle cx="183.11" cy="322.58" r="2.7"/>
<circle cx="178.56" cy="384.78" r="2.7"/>
<circle cx="181" cy="323.83" r="2.7"/>
<circle cx="185.66" cy="385.56" r="2.7"/>
<circle cx="182.57" cy="323.87" r="2.7"/>
<circle cx="181.15" cy="386.47" r="2.7"/>
<circle cx="183.94" cy="324.46" r="2.7"/>
<circle cx="184.42" cy="384.35" r="2.7"/>
<circle cx="185.15" cy="323.56" r="2.7"/>
<circle cx="183.19" cy="385.46" r="2.7"/>
<circle cx="180.15" cy="323.33" r="2.7"/>
<circle cx="178.15" cy="385.61" r="2.7"/>
<circle cx="184.5" cy="323.71" r="2.7"/>
<circle cx="183.08" cy="386.37" r="2.7"/>
<circle cx="181.17" cy="322.55" r="2.7"/>
<circle cx="183.01" cy="385.66" r="2.7"/>
<circle cx="183.5" cy="324.69" r="2.7"/>
<circle cx="178.94" cy="384.55" r="2.7"/>
<circle cx="184.46" cy="322.25" r="2.7"/>
<circle cx="181.79" cy="383.11" r="2.7"/>
<circle cx="178.86" cy="317.83" r="2.7"/>
<circle cx="179.66" cy="391.13" r="2.7"/>
<circle cx="184.76" cy="317.92" r="2.7"/>
<circle cx="179.27" cy="390.3" r="2.7"/>
<circle cx="182.15" cy="317.13" r="2.7"/>
<circle cx="181.96" cy="390.56" r="2.7"/>
<circle cx="192.42" cy="337.04" r="2.7"/>
<circle cx="202.16" cy="337.9" r="2.7"/>
<circle cx="192.64" cy="338.64" r="2.7"/>
<circle cx="202.7" cy="338.1" r="2.7"/>
<circle cx="193.14" cy="340.75" r="2.7"/>
<circle cx="201.95" cy="341.43" r="2.7"/>
<circle cx="193.05" cy="343.09" r="2.7"/>
<circle cx="202.6" cy="342.95" r="2.7"/>
<circle cx="193.34" cy="345.65" r="2.7"/>
<circle cx="202.97" cy="345.22" r="2.7"/>
<circle cx="192.46" cy="346.81" r="2.7"/>
<circle cx="201.86" cy="346.29" r="2.7"/>
<circle cx="192.45" cy="349.83" r="2.7"/>
<circle cx="202.25" cy="349.69" r="2.7"/>
<circle cx="192.22" cy="351.14" r="2.7"/>
<circle cx="202.51" cy="352.07" r="2.7"/>
<circle cx="192.97" cy="353.6" r="2.7"/>
<circle cx="202.37" cy="353.26" r="2.7"/>
<circle cx="193.14" cy="357.31" r="2.7"/>
<circle cx="201.94" cy="356.37" r="2.7"/>
<circle cx="193.04" cy="357.89" r="2.7"/>
<circle cx="201.54" cy="358.96" r="2.7"/>
<circle cx="193.31" cy="360.06" r="2.7"/>
<circle cx="202.27" cy="360.31" r="2.7"/>
<circle cx="192.68" cy="362.54" r="2.7"/>
<circle cx="202.95" cy="363.53" r="2.7"/>
<circle cx="192.42" cy="365.3" r="2.7"/>
<circle cx="202.73" cy="363.77" r="2.7"/>
<circle cx="192.72" cy="366.12" r="2.7"/>
<circle cx="201.55" cy="367.99" r="2.7"/>
<circle cx="193.3" cy="368.68" r="2.7"/>
<circle cx="201.75" cy="368.94" r="2.7"/>
<circle cx="193.16" cy="371.31" r="2.7"/>
<circle cx="202.91" cy="372.59" r="2.7"/>
<circle cx="192.33" cy="374.02" r="2.7"/>
<circle cx="202.73" cy="374.14" r="2.7"/>
<circle cx="192.48" cy="377.16" r="2.7"/>
<circle cx="201.84" cy="376.86" r="2.7"/>
<circle cx="192.55" cy="378.59" r="2.7"/>
<circle cx="202.88" cy="378.83" r="2.7"/>
<circle cx="193.33" cy="379.91" r="2.7"/>
<circle cx="202.29" cy="379.75" r="2.7"/>
<circle cx="193.47" cy="382.78" r="2.7"/>
<circle cx="202.29" cy="382.87" r="2.7"/>
<circle cx="193.68" cy="386.11" r="2.7"/>
<circle cx="202.25" cy="385.55" r="2.7"/>
<circle cx="200.77" cy="335.19" r="2.7"/>
<circle cx="196.86" cy="386.18" r="2.7"/>
<circle cx="193.68" cy="336.37" r="2.7"/>
<circle cx="198.87" cy="390.37" r="2.7"/>
<circle cx="198.63" cy="336.57" r="2.7"/>
<circle cx="201.61" cy="389.01" r="2.7"/>
<circle cx="202.07" cy="335.8" r="2.7"/>
<circle cx="197.47" cy="386.46" r="2.7"/>
<circle cx="193.29" cy="336.73" r="2.7"/>
<circle cx="198.77" cy="388.98" r="2.7"/>
<circle cx="200.96" cy="335.15" r="2.7"/>
<circle cx="197.37" cy="388.14" r="2.7"/>
<circle cx="200.12" cy="334.45" r="2.7"/>
<circle cx="197.01" cy="388.6" r="2.7"/>
<circle cx="198.11" cy="337.22" r="2.7"/>
<circle cx="195.69" cy="386.78" r="2.7"/>
<circle cx="196.72" cy="335.77" r="2.7"/>
<circle cx="195.49" cy="388.22" r="2.7"/>
<circle cx="202.01" cy="336.45" r="2.7"/>
<circle cx="200.31" cy="389.01" r="2.7"/>
<circle cx="195.92" cy="334.85" r="2.7"/>
<circle cx="198.41" cy="387.64" r="2.7"/>
<circle cx="200.24" cy="333.68" r="2.7"/>
<circle cx="199.67" cy="386.51" r="2.7"/>
<circle cx="198.03" cy="333.72" r="2.7"/>
<circle cx="195.76" cy="390.47" r="2.7"/>
<circle cx="195.58" cy="329.31" r="2.7"/>
<circle cx="198.32" cy="393.63" r="2.7"/>
<circle cx="199.5" cy="329.36" r="2.7"/>
<circle cx="198.34" cy="393.47" r="2.7"/>
<circle cx="198.44" cy="330.21" r="2.7"/>
<circle cx="198.24" cy="393.72" r="2.7"/>
<circle cx="209.09" cy="328.33" r="2.7"/>
<circle cx="217.96" cy="328.53" r="2.7"/>
<circle cx="209.14" cy="328.8" r="2.7"/>
<circle cx="218.45" cy="330.55" r="2.7"/>
<circle cx="208.85" cy="332.75" r="2.7"/>
<circle cx="218.46" cy="332.23" r="2.7"/>
<circle cx="208.96" cy="333.86" r="2.7"/>
<circle cx="217.75" cy="333.88" r="2.7"/>
<circle cx="207.99" cy="335.5" r="2.7"/>
<circle cx="218.13" cy="335.47" r="2.7"/>
<circle cx="208.18" cy="338.28" r="2.7"/>
<circle cx="218.67" cy="338.02" r="2.7"/>
<circle cx="208.83" cy="339.93" r="2.7"/>
<circle cx="218.69" cy="340.71" r="2.7"/>
<circle cx="208.79" cy="341.12" r="2.7"/>
<circle cx="218.25" cy="341.34" r="2.7"/>
<circle cx="209.39" cy="342.71" r="2.7"/>
<circle cx="218.31" cy="342.94" r="2.7"/>
<circle cx="209.28" cy="347.2" r="2.7"/>
<circle cx="217.46" cy="345.5" r="2.7"/>
<circle cx="209.05" cy="349.39" r="2.7"/>
<circle cx="217.55" cy="348.02" r="2.7"/>
<circle cx="208.33" cy="352.16" r="2.7"/>
<circle cx="218.38" cy="350.62" r="2.7"/>
<circle cx="208.33" cy="353.73" r="2.7"/>
<circle cx="218.69" cy="353.31" r="2.7"/>
<circle cx="208.32" cy="355.59" r="2.7"/>
<circle cx="217.29" cy="356.87" r="2.7"/>
<circle cx="209.29" cy="358.77" r="2.7"/>
<circle cx="218.38" cy="358.48" r="2.7"/>
<circle cx="208.67" cy="360.9" r="2.7"/>
<circle cx="217.82" cy="361.93" r="2.7"/>
<circle cx="208.38" cy="363.19" r="2.7"/>
<circle cx="218.48" cy="363.63" r="2.7"/>
<circle cx="208.46" cy="366.11" r="2.7"/>
<circle cx="217.85" cy="366.85" r="2.7"/>
<circle cx="208.22" cy="369.15" r="2.7"/>
<circle cx="217.71" cy="368.13" r="2.7"/>
<circle cx="208.34" cy="372.44" r="2.7"/>
<circle cx="217.77" cy="371.99" r="2.7"/>
<circle cx="208.15" cy="374.76" r="2.7"/>
<circle cx="217.73" cy="374.41" r="2.7"/>
<circle cx="208.84" cy="377.59" r="2.7"/>
<circle cx="218.18" cy="378.01" r="2.7"/>
<circle cx="208.98" cy="378.79" r="2.7"/>
<circle cx="217.67" cy="379.63" r="2.7"/>
<circle cx="208.17" cy="382.87" r="2.7"/>
<circle cx="217.33" cy="382.76" r="2.7"/>
<circle cx="208.09" cy="384.81" r="2.7"/>
<circle cx="217.68" cy="385.37" r="2.7"/>
<circle cx="215.05" cy="328.61" r="2.7"/>
<circle cx="211.92" cy="388.12" r="2.7"/>
<circle cx="213.84" cy="328.09" r="2.7"/>
<circle cx="210.56" cy="385.12" r="2.7"/>
<circle cx="217.34" cy="325.55" r="2.7"/>
<circle cx="214.33" cy="385.45" r="2.7"/>
<circle cx="213.02" cy="325.43" r="2.7"/>
<circle cx="211.07" cy="385.12" r="2.7"/>
<circle cx="216.04" cy="326.57" r="2.7"/>
<circle cx="209.52" cy="384.87" r="2.7"/>
<circle cx="215.86" cy="325.55" r="2.7"/>
<circle cx="214.08" cy="384.46" r="2.7"/>
<circle cx="216.91" cy="326.85" r="2.7"/>
<circle cx="213.12" cy="385.85" r="2.7"/>
<circle cx="210.46" cy="325.37" r="2.7"/>
<circle cx="210.38" cy="385.35" r="2.7"/>
<circle cx="212.07" cy="327.04" r="2.7"/>
<circle cx="212.44" cy="386.17" r="2.7"/>
<circle cx="210.09" cy="324.7" r="2.7"/>
<circle cx="217.95" cy="386.82" r="2.7"/>
<circle cx="209.69" cy="327.35" r="2.7"/>
<circle cx="216" cy="387.8" r="2.7"/>
<circle cx="214.24" cy="326.05" r="2.7"/>
<circle cx="213.52" cy="388.41" r="2.7"/>
<circle cx="209.02" cy="328.96" r="2.7"/>
<circle cx="216.73" cy="386.31" r="2.7"/>
<circle cx="213.78" cy="322.95" r="2.7"/>
<circle cx="215.17" cy="390.7" r="2.7"/>
<circle cx="216.26" cy="320.93" r="2.7"/>
<circle cx="215.43" cy="392.85" r="2.7"/>
<circle cx="211.73" cy="323.85" r="2.7"/>
<circle cx="211.38" cy="389.72" r="2.7"/>
<circle cx="225.02" cy="329.1" r="2.7"/>
<circle cx="233.84" cy="330.74" r="2.7"/>
<circle cx="223.7" cy="332.97" r="2.7"/>
<circle cx="233.09" cy="332.35" r="2.7"/>
<circle cx="224.96" cy="335.15" r="2.7"/>
<circle cx="233.39" cy="334.36" r="2.7"/>
<circle cx="223.69" cy="336.94" r="2.7"/>
<circle cx="233.59" cy="336.49" r="2.7"/>
<circle cx="223.67" cy="339.37" r="2.7"/>
<circle cx="233.33" cy="337.46" r="2.7"/>
<circle cx="224.61" cy="341.1" r="2.7"/>
<circle cx="234.37" cy="340.97" r="2.7"/>
<circle cx="223.95" cy="342.37" r="2.7"/>
<circle cx="233.98" cy="342.92" r="2.7"/>
<circle cx="224.93" cy="344.13" r="2.7"/>
<circle cx="234.43" cy="343.97" r="2.7"/>
<circle cx="224.24" cy="346.09" r="2.7"/>
<circle cx="233.15" cy="345.22" r="2.7"/>
<circle cx="224.96" cy="347.45" r="2.7"/>
<circle cx="233.25" cy="346.96" r="2.7"/>
<circle cx="224.11" cy="348.28" r="2.7"/>
<circle cx="234.09" cy="348.65" r="2.7"/>
<circle cx="223.73" cy="350.34" r="2.7"/>
<circle cx="234.42" cy="351.63" r="2.7"/>
<circle cx="224.93" cy="353.46" r="2.7"/>
<circle cx="233.14" cy="354.42" r="2.7"/>
<circle cx="224.19" cy="356.08" r="2.7"/>
<circle cx="233.51" cy="356.82" r="2.7"/>
<circle cx="224.19" cy="357.64" r="2.7"/>
<circle cx="233.33" cy="357.46" r="2.7"/>
<circle cx="224.3" cy="360.1" r="2.7"/>
<circle cx="234.32" cy="360.34" r="2.7"/>
<circle cx="224.91" cy="362.44" r="2.7"/>
<circle cx="234.28" cy="362.57" r="2.7"/>
<circle cx="224.4" cy="364.34" r="2.7"/>
<circle cx="234.37" cy="363.93" r="2.7"/>
<circle cx="225.06" cy="368.27" r="2.7"/>
<circle cx="234.01" cy="366.9" r="2.7"/>
<circle cx="224.71" cy="369.16" r="2.7"/>
<circle cx="233.3" cy="369.38" r="2.7"/>
<circle cx="223.62" cy="373.29" r="2.7"/>
<circle cx="233.14" cy="372.02" r="2.7"/>
<circle cx="225.06" cy="375.57" r="2.7"/>
<circle cx="233.44" cy="376.07" r="2.7"/>
<circle cx="223.91" cy="376.41" r="2.7"/>
<circle cx="233.21" cy="375.74" r="2.7"/>
<circle cx="224.34" cy="378.7" r="2.7"/>
<circle cx="233.66" cy="380.16" r="2.7"/>
<circle cx="224.27" cy="380.47" r="2.7"/>
<circle cx="233.27" cy="381.73" r="2.7"/>
<circle cx="226.26" cy="326.86" r="2.7"/>
<circle cx="225.25" cy="382.76" r="2.7"/>
<circle cx="229.03" cy="327.73" r="2.7"/>
<circle cx="226.35" cy="382.74" r="2.7"/>
<circle cx="230.99" cy="330.15" r="2.7"/>
<circle cx="229.84" cy="384.59" r="2.7"/>
<circle cx="225.05" cy="329.8" r="2.7"/>
<circle cx="228.22" cy="382.25" r="2.7"/>
<circle cx="224.95" cy="330.15" r="2.7"/>
<circle cx="227.54" cy="381.71" r="2.7"/>
<circle cx="232.45" cy="328.72" r="2.7"/>
<circle cx="224.58" cy="381.4" r="2.7"/>
<circle cx="228.85" cy="330.42" r="2.7"/>
<circle cx="226.9" cy="384.66" r="2.7"/>
<circle cx="232.14" cy="328.15" r="2.7"/>
<circle cx="225.95" cy="383.83" r="2.7"/>
<circle cx="229.95" cy="326.52" r="2.7"/>
<circle cx="229.25" cy="383.49" r="2.7"/>
<circle cx="229.21" cy="327.04" r="2.7"/>
<circle cx="231.06" cy="381.83" r="2.7"/>
<circle cx="232.46" cy="327.94" r="2.7"/>
<circle cx="231.03" cy="383.78" r="2.7"/>
<circle cx="231.4" cy="326.78" r="2.7"/>
<circle cx="232.52" cy="381.21" r="2.7"/>
<circle cx="229.02" cy="328.81" r="2.7"/>
<circle cx="229.35" cy="383.08" r="2.7"/>
<circle cx="225.94" cy="322.13" r="2.7"/>
<circle cx="227.26" cy="386.73" r="2.7"/>
<circle cx="226.47" cy="325" r="2.7"/>
<circle cx="231.14" cy="386.12" r="2.7"/>
<circle cx="226.43" cy="323.2" r="2.7"/>
<circle cx="227.08" cy="386.07" r="2.7"/>
<circle cx="239.96" cy="339.15" r="2.7"/>
<circle cx="249.52" cy="339.41" r="2.7"/>
<circle cx="239.55" cy="341.16" r="2.7"/>
<circle cx="248.79" cy="339.97" r="2.7"/>
<circle cx="240.11" cy="342.47" r="2.7"/>
<circle cx="248.91" cy="342.73" r="2.7"/>
<circle cx="239.97" cy="345.4" r="2.7"/>
<circle cx="248.95" cy="344.83" r="2.7"/>
<circle cx="240.63" cy="347.83" r="2.7"/>
<circle cx="250.15" cy="346.95" r="2.7"/>
<circle cx="239.59" cy="349.33" r="2.7"/>
<circle cx="249.33" cy="350.16" r="2.7"/>
<circle cx="240.36" cy="351.29" r="2.7"/>
<circle cx="249.24" cy="351.68" r="2.7"/>
<circle cx="239.65" cy="355.42" r="2.7"/>
<circle cx="249.97" cy="355.29" r="2.7"/>
<circle cx="240.09" cy="357.17" r="2.7"/>
<circle cx="250.15" cy="355.75" r="2.7"/>
<circle cx="239.91" cy="358.09" r="2.7"/>
<circle cx="249.53" cy="357.5" r="2.7"/>
<circle cx="240.11" cy="359.52" r="2.7"/>
<circle cx="248.94" cy="361.42" r="2.7"/>
<circle cx="239.45" cy="363.28" r="2.7"/>
<circle cx="249.96" cy="363.78" r="2.7"/>
<circle cx="240.82" cy="365.96" r="2.7"/>
<circle cx="249.13" cy="366.03" r="2.7"/>
<circle cx="240.05" cy="368.45" r="2.7"/>
<circle cx="249.67" cy="367.1" r="2.7"/>
<circle cx="240.21" cy="370.73" r="2.7"/>
<circle cx="249.16" cy="369.44" r="2.7"/>
<circle cx="240.69" cy="372.39" r="2.7"/>
<circle cx="250.18" cy="372.23" r="2.7"/>
<circle cx="240.16" cy="374.19" r="2.7"/>
<circle cx="248.95" cy="373.37" r="2.7"/>
<circle cx="240.43" cy="375.7" r="2.7"/>
<circle cx="249.16" cy="375.37" r="2.7"/>
<circle cx="240.04" cy="378.27" r="2.7"/>
<circle cx="249.65" cy="377.73" r="2.7"/>
<circle cx="240.57" cy="380.39" r="2.7"/>
<circle cx="249.43" cy="380.07" r="2.7"/>
<circle cx="244.51" cy="336.9" r="2.7"/>
<circle cx="242.41" cy="382.5" r="2.7"/>
<circle cx="244.92" cy="337.22" r="2.7"/>
<circle cx="245.59" cy="383.45" r="2.7"/>
<circle cx="243.43" cy="339.38" r="2.7"/>
<circle cx="242.38" cy="381" r="2.7"/>
<circle cx="244.72" cy="336.78" r="2.7"/>
<circle cx="249.32" cy="382.17" r="2.7"/>
<circle cx="247.32" cy="336.21" r="2.7"/>
<circle cx="240.79" cy="379.58" r="2.7"/>
<circle cx="244.24" cy="335.78" r="2.7"/>
<circle cx="243.76" cy="381.52" r="2.7"/>
<circle cx="246.98" cy="335.99" r="2.7"/>
<circle cx="242.25" cy="379.18" r="2.7"/>
<circle cx="247.01" cy="336.2" r="2.7"/>
<circle cx="243.29" cy="381.91" r="2.7"/>
<circle cx="246.42" cy="338.27" r="2.7"/>
<circle cx="248.04" cy="379.8" r="2.7"/>
<circle cx="244.96" cy="338.82" r="2.7"/>
<circle cx="247.05" cy="380.08" r="2.7"/>
<circle cx="244.57" cy="339.03" r="2.7"/>
<circle cx="246.73" cy="379.38" r="2.7"/>
<circle cx="241.35" cy="339.42" r="2.7"/>
<circle cx="240.21" cy="380.05" r="2.7"/>
<circle cx="245.6" cy="337.74" r="2.7"/>
<circle cx="249.09" cy="380.93" r="2.7"/>
<circle cx="244.26" cy="331.87" r="2.7"/>
<circle cx="247.24" cy="386.43" r="2.7"/>
<circle cx="244.01" cy="333.19" r="2.7"/>
<circle cx="244.52" cy="386.89" r="2.7"/>
<circle cx="243.45" cy="333.44" r="2.7"/>
<circle cx="245.16" cy="385.54" r="2.7"/>
<circle cx="256.11" cy="331.57" r="2.7"/>
<circle cx="265.75" cy="331" r="2.7"/>
<circle cx="256.32" cy="332.74" r="2.7"/>
<circle cx="264.68" cy="333.28" r="2.7"/>
<circle cx="256.47" cy="336.27" r="2.7"/>
<circle cx="264.95" cy="336.12" r="2.7"/>
<circle cx="255.14" cy="337.45" r="2.7"/>
<circle cx="265.1" cy="338.86" r="2.7"/>
<circle cx="256.53" cy="339.78" r="2.7"/>
<circle cx="265.21" cy="340.49" r="2.7"/>
<circle cx="255.78" cy="343.17" r="2.7"/>
<circle cx="265.24" cy="342.21" r="2.7"/>
<circle cx="256.01" cy="344.32" r="2.7"/>
<circle cx="265.36" cy="344.3" r="2.7"/>
<circle cx="255.57" cy="347.39" r="2.7"/>
<circle cx="264.61" cy="347.09" r="2.7"/>
<circle cx="255.75" cy="349.57" r="2.7"/>
<circle cx="265.8" cy="350.35" r="2.7"/>
<circle cx="255.93" cy="351.85" r="2.7"/>
<circle cx="265.97" cy="351.29" r="2.7"/>
<circle cx="255.36" cy="353.18" r="2.7"/>
<circle cx="264.94" cy="354.8" r="2.7"/>
<circle cx="255.82" cy="355.65" r="2.7"/>
<circle cx="265.82" cy="356.81" r="2.7"/>
<circle cx="255.09" cy="359.79" r="2.7"/>
<circle cx="265.1" cy="358.33" r="2.7"/>
<circle cx="255.83" cy="360.97" r="2.7"/>
<circle cx="264.74" cy="360.33" r="2.7"/>
<circle cx="255.69" cy="363.02" r="2.7"/>
<circle cx="265.97" cy="363.59" r="2.7"/>
<circle cx="255.98" cy="365.54" r="2.7"/>
<circle cx="264.92" cy="365.35" r="2.7"/>
<circle cx="256.14" cy="367.26" r="2.7"/>
<circle cx="265.35" cy="366.91" r="2.7"/>
<circle cx="255.85" cy="368.52" r="2.7"/>
<circle cx="264.86" cy="368.7" r="2.7"/>
<circle cx="255.08" cy="370.8" r="2.7"/>
<circle cx="265.08" cy="369.89" r="2.7"/>
<circle cx="255.45" cy="371.65" r="2.7"/>
<circle cx="264.61" cy="371.78" r="2.7"/>
<circle cx="255.35" cy="374.89" r="2.7"/>
<circle cx="265.68" cy="373.79" r="2.7"/>
<circle cx="255.43" cy="375.92" r="2.7"/>
<circle cx="265.55" cy="375.99" r="2.7"/>
<circle cx="256.2" cy="377.28" r="2.7"/>
<circle cx="265.83" cy="378.25" r="2.7"/>
<circle cx="255.92" cy="379.87" r="2.7"/>
<circle cx="264.54" cy="380.88" r="2.7"/>
<circle cx="255.14" cy="382.28" r="2.7"/>
<circle cx="265.4" cy="381.9" r="2.7"/>
<circle cx="255.19" cy="384.76" r="2.7"/>
<circle cx="264.93" cy="384.85" r="2.7"/>
<circle cx="258.71" cy="330.21" r="2.7"/>
<circle cx="264.79" cy="386.27" r="2.7"/>
<circle cx="264.7" cy="328.59" r="2.7"/>
<circle cx="259.51" cy="385.27" r="2.7"/>
<circle cx="257.95" cy="328.89" r="2.7"/>
<circle cx="264.01" cy="386.32" r="2.7"/>
<circle cx="263.24" cy="328.6" r="2.7"/>
<circle cx="257.5" cy="386.89" r="2.7"/>
<circle cx="257.63" cy="331.87" r="2.7"/>
<circle cx="258.59" cy="385.97" r="2.7"/>
<circle cx="256.96" cy="329.9" r="2.7"/>
<circle cx="259.47" cy="386.69" r="2.7"/>
<circle cx="256.5" cy="328.05" r="2.7"/>
<circle cx="263.55" cy="386.92" r="2.7"/>
<circle cx="258.17" cy="328.36" r="2.7"/>
<circle cx="258.52" cy="387.43" r="2.7"/>
<circle cx="256.22" cy="330.49" r="2.7"/>
<circle cx="259.06" cy="387.8" r="2.7"/>
<circle cx="262.44" cy="327.92" r="2.7"/>
<circle cx="258.4" cy="384.74" r="2.7"/>
<circle cx="257.08" cy="329.49" r="2.7"/>
<circle cx="263.65" cy="384.88" r="2.7"/>
<circle cx="257.37" cy="329.09" r="2.7"/>
<circle cx="262.59" cy="386.8" r="2.7"/>
<circle cx="264.78" cy="328.44" r="2.7"/>
<circle cx="264.71" cy="386.23" r="2.7"/>
<circle cx="258.75" cy="325.19" r="2.7"/>
<circle cx="258.12" cy="391.83" r="2.7"/>
<circle cx="258.97" cy="323.4" r="2.7"/>
<circle cx="261.1" cy="390.47" r="2.7"/>
<circle cx="258.87" cy="324.57" r="2.7"/>
<circle cx="258.65" cy="392.49" r="2.7"/>
<circle cx="272.56" cy="347.03" r="2.7"/>
<circle cx="280.53" cy="346.54" r="2.7"/>
<circle cx="272.2" cy="349.84" r="2.7"/>
<circle cx="280.57" cy="349.15" r="2.7"/>
<circle cx="272.61" cy="350.95" r="2.7"/>
<circle cx="280.96" cy="351.24" r="2.7"/>
<circle cx="272.58" cy="354.11" r="2.7"/>
<circle cx="280.28" cy="353.99" r="2.7"/>
<circle cx="272.64" cy="355.57" r="2.7"/>
<circle cx="280.1" cy="355.2" r="2.7"/>
<circle cx="272.34" cy="358.21" r="2.7"/>
<circle cx="281.04" cy="358.96" r="2.7"/>
<circle cx="271.55" cy="360.33" r="2.7"/>
<circle cx="280.17" cy="360.12" r="2.7"/>
<circle cx="271.82" cy="363.18" r="2.7"/>
<circle cx="280.35" cy="363.8" r="2.7"/>
<circle cx="272.39" cy="366.61" r="2.7"/>
<circle cx="280.27" cy="366.18" r="2.7"/>
<circle cx="272.57" cy="368.56" r="2.7"/>
<circle cx="280.8" cy="368.16" r="2.7"/>
<circle cx="272.68" cy="368.71" r="2.7"/>
<circle cx="280.06" cy="368.99" r="2.7"/>
<circle cx="272.68" cy="371.06" r="2.7"/>
<circle cx="280.66" cy="370.8" r="2.7"/>
<circle cx="271.95" cy="374.48" r="2.7"/>
<circle cx="280.14" cy="373.92" r="2.7"/>
<circle cx="272.25" cy="375.47" r="2.7"/>
<circle cx="280.93" cy="377.02" r="2.7"/>
<circle cx="272.67" cy="379.12" r="2.7"/>
<circle cx="280.62" cy="377.51" r="2.7"/>
<circle cx="273.02" cy="347.06" r="2.7"/>
<circle cx="273.85" cy="379.38" r="2.7"/>
<circle cx="278.34" cy="343.89" r="2.7"/>
<circle cx="277.88" cy="381.73" r="2.7"/>
<circle cx="278.32" cy="347.23" r="2.7"/>
<circle cx="274.44" cy="383.1" r="2.7"/>
<circle cx="279.98" cy="345.41" r="2.7"/>
<circle cx="279.84" cy="380.39" r="2.7"/>
<circle cx="278.25" cy="347.23" r="2.7"/>
<circle cx="277.33" cy="381.46" r="2.7"/>
<circle cx="272.55" cy="346.64" r="2.7"/>
<circle cx="275.66" cy="381.2" r="2.7"/>
<circle cx="279.83" cy="344.07" r="2.7"/>
<circle cx="278.44" cy="383.3" r="2.7"/>
<circle cx="277.95" cy="347.13" r="2.7"/>
<circle cx="274.27" cy="381.04" r="2.7"/>
<circle cx="280.17" cy="346.37" r="2.7"/>
<circle cx="276.63" cy="382.38" r="2.7"/>
<circle cx="272.59" cy="345.11" r="2.7"/>
<circle cx="275.52" cy="382.59" r="2.7"/>
<circle cx="274.68" cy="344.11" r="2.7"/>
<circle cx="277.98" cy="380.48" r="2.7"/>
<circle cx="274.72" cy="342.03" r="2.7"/>
<circle cx="276.35" cy="385.78" r="2.7"/>
<circle cx="278.82" cy="341.59" r="2.7"/>
<circle cx="275.08" cy="387.54" r="2.7"/>
<circle cx="274.15" cy="340.75" r="2.7"/>
<circle cx="275.28" cy="387.26" r="2.7"/>
<circle cx="287.23" cy="325.52" r="2.7"/>
<circle cx="296.17" cy="325.33" r="2.7"/>
<circle cx="287.36" cy="327.85" r="2.7"/>
<circle cx="297.18" cy="326.55" r="2.7"/>
<circle cx="287.52" cy="328.68" r="2.7"/>
<circle cx="296.01" cy="328.83" r="2.7"/>
<circle cx="287" cy="331" r="2.7"/>
<circle cx="296.09" cy="330.75" r="2.7"/>
<circle cx="287.51" cy="332.6" r="2.7"/>
<circle cx="296.02" cy="332.29" r="2.7"/>
<circle cx="286.92" cy="335.22" r="2.7"/>
<circle cx="297.01" cy="337.02" r="2.7"/>
<circle cx="287.9" cy="338.31" r="2.7"/>
<circle cx="296.58" cy="337.71" r="2.7"/>
<circle cx="288.05" cy="341.42" r="2.7"/>
<circle cx="296.9" cy="340.84" r="2.7"/>
<circle cx="287.07" cy="342.81" r="2.7"/>
<circle cx="296.29" cy="342.58" r="2.7"/>
<circle cx="286.88" cy="345.62" r="2.7"/>
<circle cx="296.37" cy="344.31" r="2.7"/>
<circle cx="286.78" cy="348.16" r="2.7"/>
<circle cx="296.17" cy="347.87" r="2.7"/>
<circle cx="286.93" cy="349.55" r="2.7"/>
<circle cx="296.2" cy="350.55" r="2.7"/>
<circle cx="287.5" cy="351.99" r="2.7"/>
<circle cx="296.48" cy="352.55" r="2.7"/>
<circle cx="288" cy="353.91" r="2.7"/>
<circle cx="296.87" cy="354.41" r="2.7"/>
<circle cx="286.68" cy="357.11" r="2.7"/>
<circle cx="296.67" cy="356.22" r="2.7"/>
<circle cx="287.61" cy="358.17" r="2.7"/>
<circle cx="296.04" cy="358.38" r="2.7"/>
<circle cx="287.39" cy="360.74" r="2.7"/>
<circle cx="296.05" cy="358.88" r="2.7"/>
<circle cx="287.77" cy="362.38" r="2.7"/>
<circle cx="295.92" cy="362.61" r="2.7"/>
<circle cx="286.87" cy="364.41" r="2.7"/>
<circle cx="296.35" cy="364.88" r="2.7"/>
<circle cx="287.42" cy="366.45" r="2.7"/>
<circle cx="296.58" cy="367.11" r="2.7"/>
<circle cx="286.69" cy="368.7" r="2.7"/>
<circle cx="296.37" cy="369.25" r="2.7"/>
<circle cx="287.53" cy="371.03" r="2.7"/>
<circle cx="296.04" cy="371.29" r="2.7"/>
<circle cx="286.58" cy="374.61" r="2.7"/>
<circle cx="297.23" cy="374.74" r="2.7"/>
<circle cx="287.12" cy="377.17" r="2.7"/>
<circle cx="296.01" cy="376.9" r="2.7"/>
<circle cx="287.61" cy="379.02" r="2.7"/>
<circle cx="297.37" cy="378.84" r="2.7"/>
<circle cx="287.61" cy="380.94" r="2.7"/>
<circle cx="297.26" cy="380.31" r="2.7"/>
<circle cx="287.03" cy="382.98" r="2.7"/>
<circle cx="296.04" cy="383.41" r="2.7"/>
<circle cx="292.74" cy="323.37" r="2.7"/>
<circle cx="292.27" cy="384.96" r="2.7"/>
<circle cx="291.03" cy="322.01" r="2.7"/>
<circle cx="289.03" cy="383.5" r="2.7"/>
<circle cx="292.44" cy="322.01" r="2.7"/>
<circle cx="295.35" cy="386.36" r="2.7"/>
<circle cx="288.24" cy="323.89" r="2.7"/>
<circle cx="289.69" cy="385.3" r="2.7"/>
<circle cx="292.49" cy="322.52" r="2.7"/>
<circle cx="292.66" cy="386.99" r="2.7"/>
<circle cx="292.11" cy="324.15" r="2.7"/>
<circle cx="288.1" cy="385.66" r="2.7"/>
<circle cx="288.04" cy="323.48" r="2.7"/>
<circle cx="295.36" cy="385.02" r="2.7"/>
<circle cx="293.98" cy="324.91" r="2.7"/>
<circle cx="288.42" cy="383.04" r="2.7"/>
<circle cx="294.04" cy="321.96" r="2.7"/>
<circle cx="295.05" cy="385.74" r="2.7"/>
<circle cx="288.94" cy="325.82" r="2.7"/>
<circle cx="292.57" cy="384.01" r="2.7"/>
<circle cx="288.62" cy="324.99" r="2.7"/>
<circle cx="287.89" cy="386.43" r="2.7"/>
<circle cx="290.81" cy="321.57" r="2.7"/>
<circle cx="292.86" cy="386.54" r="2.7"/>
<circle cx="290.14" cy="324.68" r="2.7"/>
<circle cx="291.3" cy="383.5" r="2.7"/>
<circle cx="292.78" cy="317.51" r="2.7"/>
<circle cx="292.4" cy="391.67" r="2.7"/>
<circle cx="294.41" cy="320.33" r="2.7"/>
<circle cx="293.6" cy="389.37" r="2.7"/>
<circle cx="293.71" cy="318.28" r="2.7"/>
<circle cx="294.12" cy="388.49" r="2.7"/>
<circle cx="304.01" cy="347.47" r="2.7"/>
<circle cx="312.15" cy="347.44" r="2.7"/>
<circle cx="303.72" cy="347.85" r="2.7"/>
<circle cx="311.65" cy="349.26" r="2.7"/>
<circle cx="303.31" cy="350.74" r="2.7"/>
<circle cx="311.28" cy="349.77" r="2.7"/>
<circle cx="303.42" cy="352.69" r="2.7"/>
<circle cx="311.1" cy="351.57" r="2.7"/>
<circle cx="303.47" cy="353.63" r="2.7"/>
<circle cx="311.66" cy="353.84" r="2.7"/>
<circle cx="304" cy="355.97" r="2.7"/>
<circle cx="312.06" cy="356.76" r="2.7"/>
<circle cx="303.46" cy="360.01" r="2.7"/>
<circle cx="310.98" cy="358.79" r="2.7"/>
<circle cx="303.85" cy="361.64" r="2.7"/>
<circle cx="311.97" cy="359.96" r="2.7"/>
<circle cx="303.45" cy="363.07" r="2.7"/>
<circle cx="311.45" cy="362.66" r="2.7"/>
<circle cx="303.42" cy="364.29" r="2.7"/>
<circle cx="312.06" cy="364.72" r="2.7"/>
<circle cx="304.07" cy="365.62" r="2.7"/>
<circle cx="312.09" cy="366.37" r="2.7"/>
<circle cx="304.27" cy="367.56" r="2.7"/>
<circle cx="311.55" cy="368" r="2.7"/>
<circle cx="306.6" cy="343.53" r="2.7"/>
<circle cx="308.33" cy="371" r="2.7"/>
<circle cx="304.05" cy="345.57" r="2.7"/>
<circle cx="311.44" cy="372.3" r="2.7"/>
<circle cx="305.01" cy="346.52" r="2.7"/>
<circle cx="305.98" cy="371.27" r="2.7"/>
<circle cx="307.72" cy="344.68" r="2.7"/>
<circle cx="308.25" cy="370.12" r="2.7"/>
<circle cx="311.22" cy="347.96" r="2.7"/>
<circle cx="304.16" cy="369.98" r="2.7"/>
<circle cx="309.79" cy="347.43" r="2.7"/>
<circle cx="309.82" cy="369.65" r="2.7"/>
<circle cx="308.75" cy="345.13" r="2.7"/>
<circle cx="306.05" cy="368.92" r="2.7"/>
<circle cx="310.57" cy="347.72" r="2.7"/>
<circle cx="309.11" cy="371.13" r="2.7"/>
<circle cx="309.73" cy="346.83" r="2.7"/>
<circle cx="307.79" cy="369.64" r="2.7"/>
<circle cx="306.58" cy="345.98" r="2.7"/>
<circle cx="307" cy="372.23" r="2.7"/>
<circle cx="306.84" cy="341.71" r="2.7"/>
<circle cx="310.36" cy="374.93" r="2.7"/>
<circle cx="307" cy="342.03" r="2.7"/>
<circle cx="306.29" cy="374.4" r="2.7"/>
<circle cx="305.75" cy="342.97" r="2.7"/>
<circle cx="309.72" cy="374.81" r="2.7"/>
<circle cx="318.85" cy="317.14" r="2.7"/>
<circle cx="327.84" cy="316.34" r="2.7"/>
<circle cx="319.07" cy="318.3" r="2.7"/>
<circle cx="328.48" cy="318.78" r="2.7"/>
<circle cx="319.01" cy="322.25" r="2.7"/>
<circle cx="328.26" cy="320.56" r="2.7"/>
<circle cx="318.64" cy="324.19" r="2.7"/>
<circle cx="327.92" cy="323.77" r="2.7"/>
<circle cx="318.2" cy="324.47" r="2.7"/>
<circle cx="328.11" cy="326.13" r="2.7"/>
<circle cx="319.13" cy="326.31" r="2.7"/>
<circle cx="327.63" cy="326.8" r="2.7"/>
<circle cx="319.19" cy="329.51" r="2.7"/>
<circle cx="327.68" cy="329.92" r="2.7"/>
<circle cx="318.54" cy="331.74" r="2.7"/>
<circle cx="328.49" cy="333.27" r="2.7"/>
<circle cx="319.4" cy="335.29" r="2.7"/>
<circle cx="328.71" cy="334.35" r="2.7"/>
<circle cx="319.24" cy="336.51" r="2.7"/>
<circle cx="328.71" cy="336.71" r="2.7"/>
<circle cx="319.2" cy="338.79" r="2.7"/>
<circle cx="328.52" cy="339.44" r="2.7"/>
<circle cx="318.49" cy="340.9" r="2.7"/>
<circle cx="327.46" cy="341.05" r="2.7"/>
<circle cx="318.57" cy="342.55" r="2.7"/>
<circle cx="328.13" cy="343.08" r="2.7"/>
<circle cx="318.82" cy="343.82" r="2.7"/>
<circle cx="328.79" cy="344.92" r="2.7"/>
<circle cx="319.44" cy="347.8" r="2.7"/>
<circle cx="328.48" cy="347.23" r="2.7"/>
<circle cx="319.29" cy="348.57" r="2.7"/>
<circle cx="328.54" cy="348.47" r="2.7"/>
<circle cx="318.88" cy="351.94" r="2.7"/>
<circle cx="328.27" cy="351.97" r="2.7"/>
<circle cx="318.61" cy="353.91" r="2.7"/>
<circle cx="328.5" cy="353.77" r="2.7"/>
<circle cx="318.36" cy="357.26" r="2.7"/>
<circle cx="327.85" cy="357.25" r="2.7"/>
<circle cx="318.83" cy="359.03" r="2.7"/>
<circle cx="328.17" cy="360.36" r="2.7"/>
<circle cx="319.51" cy="361.19" r="2.7"/>
<circle cx="328.37" cy="361.78" r="2.7"/>
<circle cx="318.02" cy="362.73" r="2.7"/>
<circle cx="328.53" cy="362.45" r="2.7"/>
<circle cx="319.32" cy="364.02" r="2.7"/>
<circle cx="328.14" cy="365.01" r="2.7"/>
<circle cx="318.09" cy="366.45" r="2.7"/>
<circle cx="327.6" cy="366.08" r="2.7"/>
<circle cx="318.12" cy="368.53" r="2.7"/>
<circle cx="327.42" cy="369.76" r="2.7"/>
<circle cx="318.03" cy="371.1" r="2.7"/>
<circle cx="328.34" cy="370.79" r="2.7"/>
<circle cx="318.82" cy="373.31" r="2.7"/>
<circle cx="328.75" cy="372.88" r="2.7"/>
<circle cx="319.43" cy="376.43" r="2.7"/>
<circle cx="327.99" cy="376.87" r="2.7"/>
<circle cx="318.67" cy="377.63" r="2.7"/>
<circle cx="328.78" cy="378.7" r="2.7"/>
<circle cx="319.18" cy="379.67" r="2.7"/>
<circle cx="327.77" cy="380.03" r="2.7"/>
<circle cx="319.22" cy="382.56" r="2.7"/>
<circle cx="328.35" cy="381.64" r="2.7"/>
<circle cx="319.2" cy="384.97" r="2.7"/>
<circle cx="327.61" cy="385.56" r="2.7"/>
<circle cx="319.12" cy="387.98" r="2.7"/>
<circle cx="328.63" cy="387.04" r="2.7"/>
<circle cx="323.32" cy="317.51" r="2.7"/>
<circle cx="320.31" cy="389.43" r="2.7"/>
<circle cx="324.35" cy="315.54" r="2.7"/>
<circle cx="324.18" cy="388.53" r="2.7"/>
<circle cx="320.76" cy="317.48" r="2.7"/>
<circle cx="322.16" cy="388.99" r="2.7"/>
<circle cx="326.82" cy="314.32" r="2.7"/>
<circle cx="326.82" cy="388.02" r="2.7"/>
<circle cx="321.57" cy="313.61" r="2.7"/>
<circle cx="319.85" cy="388.12" r="2.7"/>
<circle cx="318.9" cy="317.6" r="2.7"/>
<circle cx="320.21" cy="389.19" r="2.7"/>
<circle cx="319.72" cy="314.26" r="2.7"/>
<circle cx="325.14" cy="392.09" r="2.7"/>
<circle cx="321.96" cy="317.63" r="2.7"/>
<circle cx="325.45" cy="388.53" r="2.7"/>
<circle cx="327.89" cy="313.65" r="2.7"/>
<circle cx="320.99" cy="388.94" r="2.7"/>
<circle cx="325.21" cy="313.67" r="2.7"/>
<circle cx="323.49" cy="391.46" r="2.7"/>
<circle cx="322.81" cy="313.97" r="2.7"/>
<circle cx="319" cy="388.04" r="2.7"/>
<circle cx="321.75" cy="317.45" r="2.7"/>
<circle cx="319.93" cy="390.31" r="2.7"/>
<circle cx="320.08" cy="315.43" r="2.7"/>
<circle cx="320.48" cy="389.42" r="2.7"/>
<circle cx="321.15" cy="310.05" r="2.7"/>
<circle cx="323.45" cy="393.45" r="2.7"/>
<circle cx="322.49" cy="311.01" r="2.7"/>
<circle cx="326.19" cy="394.4" r="2.7"/>
<circle cx="321.59" cy="309.13" r="2.7"/>
<circle cx="325.96" cy="395.93" r="2.7"/>
<circle cx="334.84" cy="333.35" r="2.7"/>
<circle cx="343.51" cy="333.14" r="2.7"/>
<circle cx="334.48" cy="335.47" r="2.7"/>
<circle cx="343.95" cy="335.38" r="2.7"/>
<circle cx="334.21" cy="337.57" r="2.7"/>
<circle cx="343.93" cy="337.36" r="2.7"/>
<circle cx="333.76" cy="340.44" r="2.7"/>
<circle cx="344.2" cy="339.49" r="2.7"/>
<circle cx="334.62" cy="342.62" r="2.7"/>
<circle cx="343.69" cy="341.45" r="2.7"/>
<circle cx="335.04" cy="344.76" r="2.7"/>
<circle cx="343.11" cy="343.98" r="2.7"/>
<circle cx="334.87" cy="346.7" r="2.7"/>
<circle cx="343.68" cy="345.96" r="2.7"/>
<circle cx="335.08" cy="349" r="2.7"/>
<circle cx="344.3" cy="349.13" r="2.7"/>
<circle cx="334.2" cy="349.62" r="2.7"/>
<circle cx="344.09" cy="350.07" r="2.7"/>
<circle cx="333.77" cy="350.96" r="2.7"/>
<circle cx="344.24" cy="352.66" r="2.7"/>
<circle cx="334.35" cy="355.16" r="2.7"/>
<circle cx="343.46" cy="354.43" r="2.7"/>
<circle cx="334.68" cy="357.08" r="2.7"/>
<circle cx="343.7" cy="356.71" r="2.7"/>
<circle cx="334.22" cy="358.64" r="2.7"/>
<circle cx="344.06" cy="359.08" r="2.7"/>
<circle cx="334.32" cy="360.39" r="2.7"/>
<circle cx="344.49" cy="360.81" r="2.7"/>
<circle cx="334.46" cy="363.28" r="2.7"/>
<circle cx="343.44" cy="362.61" r="2.7"/>
<circle cx="334.45" cy="366.09" r="2.7"/>
<circle cx="343.91" cy="366.67" r="2.7"/>
<circle cx="334.99" cy="368.57" r="2.7"/>
<circle cx="343.81" cy="368.21" r="2.7"/>
<circle cx="333.89" cy="371.26" r="2.7"/>
<circle cx="343.17" cy="370.28" r="2.7"/>
<circle cx="334.01" cy="372.36" r="2.7"/>
<circle cx="343.34" cy="372.62" r="2.7"/>
<circle cx="334.71" cy="375.45" r="2.7"/>
<circle cx="343.9" cy="374.75" r="2.7"/>
<circle cx="334.65" cy="377.54" r="2.7"/>
<circle cx="344.16" cy="376.45" r="2.7"/>
<circle cx="334.04" cy="379.24" r="2.7"/>
<circle cx="343.33" cy="379.08" r="2.7"/>
<circle cx="334.46" cy="380.24" r="2.7"/>
<circle cx="343.67" cy="380.44" r="2.7"/>
<circle cx="334.71" cy="331.4" r="2.7"/>
<circle cx="339.83" cy="385.24" r="2.7"/>
<circle cx="336.2" cy="333.73" r="2.7"/>
<circle cx="337.09" cy="384.04" r="2.7"/>
<circle cx="336.79" cy="334.25" r="2.7"/>
<circle cx="335.39" cy="382.64" r="2.7"/>
<circle cx="342.51" cy="331.41" r="2.7"/>
<circle cx="338.47" cy="381.93" r="2.7"/>
<circle cx="340.27" cy="332.17" r="2.7"/>
<circle cx="334.95" cy="383.51" r="2.7"/>
<circle cx="337.95" cy="333.71" r="2.7"/>
<circle cx="337.28" cy="383.66" r="2.7"/>
<circle cx="340.55" cy="334.15" r="2.7"/>
<circle cx="337.81" cy="383.77" r="2.7"/>
<circle cx="339.91" cy="334.66" r="2.7"/>
<circle cx="336.32" cy="381.13" r="2.7"/>
<circle cx="341.14" cy="332.18" r="2.7"/>
<circle cx="340.71" cy="384.02" r="2.7"/>
<circle cx="335.2" cy="333.9" r="2.7"/>
<circle cx="338.06" cy="383.13" r="2.7"/>
<circle cx="339.15" cy="334.56" r="2.7"/>
<circle cx="341.56" cy="385.38" r="2.7"/>
<circle cx="340.04" cy="332.58" r="2.7"/>
<circle cx="338.83" cy="381.72" r="2.7"/>
<circle cx="338.39" cy="332.63" r="2.7"/>
<circle cx="342.8" cy="383.52" r="2.7"/>
<circle cx="339.12" cy="327.95" r="2.7"/>
<circle cx="341.3" cy="388.68" r="2.7"/>
<circle cx="340.75" cy="328.39" r="2.7"/>
<circle cx="336.18" cy="388.72" r="2.7"/>
<circle cx="339.53" cy="326.92" r="2.7"/>
<circle cx="340.95" cy="386.47" r="2.7"/>
<circle cx="350.65" cy="331.15" r="2.7"/>
<circle cx="360.08" cy="331.2" r="2.7"/>
<circle cx="349.84" cy="333.83" r="2.7"/>
<circle cx="358.92" cy="334.07" r="2.7"/>
<circle cx="350.25" cy="335.27" r="2.7"/>
<circle cx="359.89" cy="336" r="2.7"/>
<circle cx="349.46" cy="339.09" r="2.7"/>
<circle cx="360.16" cy="337.75" r="2.7"/>
<circle cx="350.2" cy="339.47" r="2.7"/>
<circle cx="360.34" cy="340.01" r="2.7"/>
<circle cx="350.51" cy="341.89" r="2.7"/>
<circle cx="360.14" cy="342.49" r="2.7"/>
<circle cx="350.34" cy="343.69" r="2.7"/>
<circle cx="359.3" cy="345.32" r="2.7"/>
<circle cx="349.68" cy="346.67" r="2.7"/>
<circle cx="359.14" cy="346.26" r="2.7"/>
<circle cx="350.42" cy="349.32" r="2.7"/>
<circle cx="359.58" cy="349.56" r="2.7"/>
<circle cx="349.76" cy="350.84" r="2.7"/>
<circle cx="360.24" cy="351.55" r="2.7"/>
<circle cx="350.51" cy="353.16" r="2.7"/>
<circle cx="359.46" cy="353.23" r="2.7"/>
<circle cx="350.57" cy="355.68" r="2.7"/>
<circle cx="359.28" cy="355.51" r="2.7"/>
<circle cx="350.08" cy="357.56" r="2.7"/>
<circle cx="360.26" cy="357.54" r="2.7"/>
<circle cx="350.9" cy="360.17" r="2.7"/>
<circle cx="359.81" cy="359.4" r="2.7"/>
<circle cx="350.88" cy="363.13" r="2.7"/>
<circle cx="359.11" cy="363.78" r="2.7"/>
<circle cx="349.76" cy="365.21" r="2.7"/>
<circle cx="359.86" cy="365.56" r="2.7"/>
<circle cx="350.66" cy="367.84" r="2.7"/>
<circle cx="359.06" cy="368" r="2.7"/>
<circle cx="350.83" cy="368.2" r="2.7"/>
<circle cx="360.03" cy="369.91" r="2.7"/>
<circle cx="349.98" cy="370.62" r="2.7"/>
<circle cx="360.22" cy="371.48" r="2.7"/>
<circle cx="350.9" cy="373.29" r="2.7"/>
<circle cx="358.9" cy="373.57" r="2.7"/>
<circle cx="350.63" cy="375.01" r="2.7"/>
<circle cx="359.32" cy="374.97" r="2.7"/>
<circle cx="349.59" cy="376.28" r="2.7"/>
<circle cx="360.12" cy="375.94" r="2.7"/>
<circle cx="349.49" cy="378.97" r="2.7"/>
<circle cx="358.88" cy="378.95" r="2.7"/>
<circle cx="350.65" cy="381.65" r="2.7"/>
<circle cx="358.98" cy="381.49" r="2.7"/>
<circle cx="354.26" cy="331.56" r="2.7"/>
<circle cx="351.34" cy="381.77" r="2.7"/>
<circle cx="351.41" cy="332.65" r="2.7"/>
<circle cx="359.51" cy="381.27" r="2.7"/>
<circle cx="355.15" cy="329.81" r="2.7"/>
<circle cx="353.5" cy="382.12" r="2.7"/>
<circle cx="354.88" cy="332.68" r="2.7"/>
<circle cx="351.14" cy="383.32" r="2.7"/>
<circle cx="358.28" cy="331.19" r="2.7"/>
<circle cx="355.29" cy="385.1" r="2.7"/>
<circle cx="351.57" cy="329.72" r="2.7"/>
<circle cx="358.55" cy="381.7" r="2.7"/>
<circle cx="352.38" cy="332.66" r="2.7"/>
<circle cx="350.58" cy="382.81" r="2.7"/>
<circle cx="359.24" cy="330.05" r="2.7"/>
<circle cx="359.03" cy="382.55" r="2.7"/>
<circle cx="350.74" cy="330" r="2.7"/>
<circle cx="354.44" cy="384.39" r="2.7"/>
<circle cx="357.16" cy="329.3" r="2.7"/>
<circle cx="357.58" cy="384.16" r="2.7"/>
<circle cx="350.92" cy="331.02" r="2.7"/>
<circle cx="351.16" cy="383.02" r="2.7"/>
<circle cx="357.58" cy="331.18" r="2.7"/>
<circle cx="354.55" cy="385.35" r="2.7"/>
<circle cx="355.03" cy="328.94" r="2.7"/>
<circle cx="356.27" cy="384.91" r="2.7"/>
<circle cx="355.42" cy="326.59" r="2.7"/>
<circle cx="354.09" cy="388.65" r="2.7"/>
<circle cx="352.71" cy="327.32" r="2.7"/>
<circle cx="357.8" cy="387.33" r="2.7"/>
<circle cx="357.15" cy="324.51" r="2.7"/>
<circle cx="354.78" cy="386.6" r="2.7"/>
<circle cx="366.57" cy="339.76" r="2.7"/>
<circle cx="374.74" cy="338.99" r="2.7"/>
<circle cx="366.54" cy="341.18" r="2.7"/>
<circle cx="374.81" cy="341.31" r="2.7"/>
<circle cx="366.16" cy="342.85" r="2.7"/>
<circle cx="375.18" cy="342.86" r="2.7"/>
<circle cx="366.35" cy="345.95" r="2.7"/>
<circle cx="375.33" cy="345.99" r="2.7"/>
<circle cx="365.28" cy="346.8" r="2.7"/>
<circle cx="375.77" cy="346.96" r="2.7"/>
<circle cx="366.37" cy="349.75" r="2.7"/>
<circle cx="374.8" cy="348.78" r="2.7"/>
<circle cx="366.12" cy="350.92" r="2.7"/>
<circle cx="375.01" cy="351.67" r="2.7"/>
<circle cx="365.83" cy="352.05" r="2.7"/>
<circle cx="375.47" cy="353.16" r="2.7"/>
<circle cx="366.62" cy="354.53" r="2.7"/>
<circle cx="375.48" cy="356.01" r="2.7"/>
<circle cx="365.77" cy="357.07" r="2.7"/>
<circle cx="375.81" cy="356.37" r="2.7"/>
<circle cx="366.01" cy="360.1" r="2.7"/>
<circle cx="374.58" cy="360.14" r="2.7"/>
<circle cx="366.09" cy="360.53" r="2.7"/>
<circle cx="374.94" cy="361.82" r="2.7"/>
<circle cx="366.49" cy="363.46" r="2.7"/>
<circle cx="374.78" cy="363.17" r="2.7"/>
<circle cx="366.21" cy="366.59" r="2.7"/>
<circle cx="376.09" cy="366.22" r="2.7"/>
<circle cx="365.96" cy="368.37" r="2.7"/>
<circle cx="375.95" cy="368.31" r="2.7"/>
<circle cx="366.41" cy="370.42" r="2.7"/>
<circle cx="375.85" cy="370.75" r="2.7"/>
<circle cx="365.62" cy="371.58" r="2.7"/>
<circle cx="374.81" cy="372.82" r="2.7"/>
<circle cx="365.58" cy="373.56" r="2.7"/>
<circle cx="375.83" cy="375.17" r="2.7"/>
<circle cx="365.58" cy="377.64" r="2.7"/>
<circle cx="375.79" cy="377.16" r="2.7"/>
<circle cx="365.46" cy="379.67" r="2.7"/>
<circle cx="375.89" cy="378.7" r="2.7"/>
<circle cx="365.9" cy="382.75" r="2.7"/>
<circle cx="374.74" cy="382.79" r="2.7"/>
<circle cx="366.33" cy="385.08" r="2.7"/>
<circle cx="374.92" cy="383.79" r="2.7"/>
<circle cx="368.2" cy="337.72" r="2.7"/>
<circle cx="374.42" cy="386.42" r="2.7"/>
<circle cx="372.59" cy="337.26" r="2.7"/>
<circle cx="373.27" cy="385.93" r="2.7"/>
<circle cx="372.33" cy="339.74" r="2.7"/>
<circle cx="373.66" cy="387.67" r="2.7"/>
<circle cx="366.81" cy="338.44" r="2.7"/>
<circle cx="373.76" cy="387.97" r="2.7"/>
<circle cx="371.52" cy="339.26" r="2.7"/>
<circle cx="373.35" cy="389.48" r="2.7"/>
<circle cx="370.54" cy="335.57" r="2.7"/>
<circle cx="367.03" cy="385.84" r="2.7"/>
<circle cx="369.89" cy="338.22" r="2.7"/>
<circle cx="370.25" cy="387.99" r="2.7"/>
<circle cx="367.99" cy="337.09" r="2.7"/>
<circle cx="373.83" cy="386.71" r="2.7"/>
<circle cx="368.71" cy="335.9" r="2.7"/>
<circle cx="368.52" cy="386.34" r="2.7"/>
<circle cx="370.1" cy="338.47" r="2.7"/>
<circle cx="373.49" cy="388.96" r="2.7"/>
<circle cx="372.34" cy="335.69" r="2.7"/>
<circle cx="373.63" cy="388.67" r="2.7"/>
<circle cx="368.52" cy="339.81" r="2.7"/>
<circle cx="369.36" cy="388.49" r="2.7"/>
<circle cx="374.25" cy="338.25" r="2.7"/>
<circle cx="374.29" cy="387.73" r="2.7"/>
<circle cx="370.64" cy="331.18" r="2.7"/>
<circle cx="370.68" cy="393.95" r="2.7"/>
<circle cx="368.61" cy="331.68" r="2.7"/>
<circle cx="368.43" cy="392.11" r="2.7"/>
<circle cx="367.37" cy="334.3" r="2.7"/>
<circle cx="373.55" cy="391.82" r="2.7"/>
<circle cx="383.98" cy="371.57" r="2.7"/>
<circle cx="382.54" cy="353.74" r="2.7"/>
<circle cx="389.85" cy="361.55" r="2.7"/>
<circle cx="385.19" cy="360.04" r="2.7"/>
<circle cx="390.15" cy="376.22" r="2.7"/>
<circle cx="382.3" cy="365.99" r="2.7"/>
<circle cx="385.83" cy="364.34" r="2.7"/>
<circle cx="385.04" cy="377.36" r="2.7"/>
<circle cx="387.64" cy="365.79" r="2.7"/>
<circle cx="386.58" cy="354.66" r="2.7"/>
<circle cx="390.28" cy="366.39" r="2.7"/>
<circle cx="385.06" cy="359.43" r="2.7"/>
<circle cx="382.12" cy="378.07" r="2.7"/>
<circle cx="388.13" cy="372.56" r="2.7"/>
<circle cx="385.87" cy="361.74" r="2.7"/>
<circle cx="390.12" cy="369.29" r="2.7"/>
<circle cx="388.77" cy="368.43" r="2.7"/>
<circle cx="384.69" cy="341.37" r="2.7"/>
<circle cx="390.72" cy="345.34" r="2.7"/>
<circle cx="382.96" cy="374.77" r="2.7"/>
<circle cx="387.11" cy="362.91" r="2.7"/>
<circle cx="385.34" cy="341.82" r="2.7"/>
<circle cx="387.73" cy="369.15" r="2.7"/>
<circle cx="388.89" cy="350.95" r="2.7"/>
<circle cx="386.8" cy="351.36" r="2.7"/>
<circle cx="390.96" cy="356.41" r="2.7"/>
<circle cx="389.3" cy="365.3" r="2.7"/>
<circle cx="385.22" cy="366.38" r="2.7"/>
<circle cx="388.38" cy="377.56" r="2.7"/>
<circle cx="384.23" cy="366.94" r="2.7"/>
<circle cx="387.09" cy="346.31" r="2.7"/>
<circle cx="389.19" cy="372.21" r="2.7"/>
<circle cx="382.91" cy="353.54" r="2.7"/>
<circle cx="389.99" cy="360.12" r="2.7"/>
<circle cx="388.66" cy="346.32" r="2.7"/>
<circle cx="384.56" cy="346.66" r="2.7"/>
<circle cx="384.43" cy="342.09" r="2.7"/>
<circle cx="390.85" cy="354.94" r="2.7"/>
<circle cx="383.37" cy="377.52" r="2.7"/>
<circle cx="390.63" cy="352.07" r="2.7"/>
<circle cx="384.65" cy="347.7" r="2.7"/>
<circle cx="382.61" cy="357.09" r="2.7"/>
<circle cx="385.35" cy="350.15" r="2.7"/>
<circle cx="390.82" cy="355.04" r="2.7"/>
<circle cx="383.53" cy="350.41" r="2.7"/>
<circle cx="385.89" cy="375.44" r="2.7"/>
<circle cx="387.69" cy="372.65" r="2.7"/>
<circle cx="384.59" cy="370.37" r="2.7"/>
<circle cx="388.84" cy="345.93" r="2.7"/>
<circle cx="386.93" cy="358.34" r="2.7"/>
<circle cx="388.8" cy="366.15" r="2.7"/>
<circle cx="385.05" cy="350.74" r="2.7"/>
<circle cx="386.65" cy="375.78" r="2.7"/>
<circle cx="387.62" cy="351.25" r="2.7"/>
<circle cx="388.98" cy="350.13" r="2.7"/>
<circle cx="389.51" cy="341.61" r="2.7"/>
<circle cx="384.97" cy="362.09" r="2.7"/>
<circle cx="384.12" cy="376.66" r="2.7"/>
<circle cx="382.24" cy="349.49" r="2.7"/>
<circle cx="388.81" cy="361.39" r="2.7"/>
<circle cx="385.53" cy="366.44" r="2.7"/>
<circle cx="382.64" cy="371.5" r="2.7"/>
<circle cx="387.76" cy="351.97" r="2.7"/>
<circle cx="387.66" cy="377.72" r="2.7"/>
<circle cx="389.01" cy="366.99" r="2.7"/>
<circle cx="398.03" cy="339.88" r="2.7"/>
<circle cx="406.65" cy="338.68" r="2.7"/>
<circle cx="397.47" cy="340.77" r="2.7"/>
<circle cx="405.88" cy="341.81" r="2.7"/>
<circle cx="397.86" cy="343.65" r="2.7"/>
<circle cx="406.86" cy="342.58" r="2.7"/>
<circle cx="398.48" cy="345.14" r="2.7"/>
<circle cx="406.32" cy="346.02" r="2.7"/>
<circle cx="397.78" cy="347.52" r="2.7"/>
<circle cx="406.42" cy="347.26" r="2.7"/>
<circle cx="397.49" cy="351.01" r="2.7"/>
<circle cx="405.84" cy="350.67" r="2.7"/>
<circle cx="397.89" cy="353.63" r="2.7"/>
<circle cx="406.86" cy="353.32" r="2.7"/>
<circle cx="397.68" cy="356.18" r="2.7"/>
<circle cx="405.81" cy="355.83" r="2.7"/>
<circle cx="397.73" cy="357.42" r="2.7"/>
<circle cx="405.72" cy="358.07" r="2.7"/>
<circle cx="398.2" cy="359.88" r="2.7"/>
<circle cx="405.94" cy="359.64" r="2.7"/>
<circle cx="397.23" cy="363.47" r="2.7"/>
<circle cx="406.12" cy="363.26" r="2.7"/>
<circle cx="397.42" cy="364.2" r="2.7"/>
<circle cx="405.63" cy="364.81" r="2.7"/>
<circle cx="398.19" cy="365.44" r="2.7"/>
<circle cx="406.24" cy="366.43" r="2.7"/>
<circle cx="398.52" cy="369.54" r="2.7"/>
<circle cx="405.78" cy="368.34" r="2.7"/>
<circle cx="398.11" cy="370.91" r="2.7"/>
<circle cx="406.41" cy="370.68" r="2.7"/>
<circle cx="398.29" cy="374.47" r="2.7"/>
<circle cx="406.74" cy="373.87" r="2.7"/>
<circle cx="397.5" cy="374.49" r="2.7"/>
<circle cx="406.32" cy="375.28" r="2.7"/>
<circle cx="403.18" cy="338.76" r="2.7"/>
<circle cx="402.81" cy="377.7" r="2.7"/>
<circle cx="402.2" cy="338.15" r="2.7"/>
<circle cx="399.82" cy="375.6" r="2.7"/>
<circle cx="406.23" cy="339.12" r="2.7"/>
<circle cx="405.94" cy="378.02" r="2.7"/>
<circle cx="406.15" cy="335.82" r="2.7"/>
<circle cx="401.92" cy="378.9" r="2.7"/>
<circle cx="401.72" cy="338.57" r="2.7"/>
<circle cx="403.84" cy="377.45" r="2.7"/>
<circle cx="400.78" cy="336.35" r="2.7"/>
<circle cx="401.29" cy="378.23" r="2.7"/>
<circle cx="399.55" cy="338.81" r="2.7"/>
<circle cx="402.24" cy="377.53" r="2.7"/>
<circle cx="399.58" cy="338.67" r="2.7"/>
<circle cx="399.57" cy="378.3" r="2.7"/>
<circle cx="402.6" cy="338.66" r="2.7"/>
<circle cx="406.04" cy="376.14" r="2.7"/>
<circle cx="405.83" cy="339.64" r="2.7"/>
<circle cx="403.95" cy="376.26" r="2.7"/>
<circle cx="398.46" cy="336.43" r="2.7"/>
<circle cx="398.04" cy="375.61" r="2.7"/>
<circle cx="403.41" cy="332.48" r="2.7"/>
<circle cx="400.71" cy="381.42" r="2.7"/>
<circle cx="400.12" cy="332.47" r="2.7"/>
<circle cx="404.99" cy="381.22" r="2.7"/>
<circle cx="399.42" cy="334.3" r="2.7"/>
<circle cx="401.25" cy="383.6" r="2.7"/>
<circle cx="413.2" cy="333.91" r="2.7"/>
<circle cx="421.5" cy="333.21" r="2.7"/>
<circle cx="413.24" cy="335.73" r="2.7"/>
<circle cx="422.72" cy="336.61" r="2.7"/>
<circle cx="413.65" cy="338.98" r="2.7"/>
<circle cx="421.53" cy="337.56" r="2.7"/>
<circle cx="413.61" cy="340.03" r="2.7"/>
<circle cx="421.7" cy="339.66" r="2.7"/>
<circle cx="413.33" cy="344.2" r="2.7"/>
<circle cx="422.7" cy="343.18" r="2.7"/>
<circle cx="413.77" cy="346.41" r="2.7"/>
<circle cx="422.51" cy="345.05" r="2.7"/>
<circle cx="414.01" cy="347.57" r="2.7"/>
<circle cx="421.88" cy="346.42" r="2.7"/>
<circle cx="413.22" cy="349.92" r="2.7"/>
<circle cx="421.42" cy="350.77" r="2.7"/>
<circle cx="414.2" cy="351.88" r="2.7"/>
<circle cx="422.21" cy="353.01" r="2.7"/>
<circle cx="413.42" cy="353.83" r="2.7"/>
<circle cx="421.69" cy="355.23" r="2.7"/>
<circle cx="414.16" cy="356.66" r="2.7"/>
<circle cx="421.53" cy="355.88" r="2.7"/>
<circle cx="413.5" cy="358.9" r="2.7"/>
<circle cx="422.33" cy="358.5" r="2.7"/>
<circle cx="413.31" cy="359.41" r="2.7"/>
<circle cx="422" cy="360.11" r="2.7"/>
<circle cx="413.32" cy="362.19" r="2.7"/>
<circle cx="422.25" cy="363.1" r="2.7"/>
<circle cx="414.11" cy="365.7" r="2.7"/>
<circle cx="422.18" cy="364.01" r="2.7"/>
<circle cx="412.95" cy="366.22" r="2.7"/>
<circle cx="421.9" cy="367.34" r="2.7"/>
<circle cx="413.43" cy="369.84" r="2.7"/>
<circle cx="421.41" cy="368.54" r="2.7"/>
<circle cx="413.2" cy="371.2" r="2.7"/>
<circle cx="421.42" cy="371.61" r="2.7"/>
<circle cx="414" cy="375.19" r="2.7"/>
<circle cx="422.63" cy="375.12" r="2.7"/>
<circle cx="413.94" cy="376.85" r="2.7"/>
<circle cx="421.38" cy="378.06" r="2.7"/>
<circle cx="412.97" cy="379.69" r="2.7"/>
<circle cx="421.61" cy="379.88" r="2.7"/>
<circle cx="417.93" cy="330.98" r="2.7"/>
<circle cx="420.22" cy="380.5" r="2.7"/>
<circle cx="421.3" cy="330.51" r="2.7"/>
<circle cx="420.76" cy="382" r="2.7"/>
<circle cx="420.51" cy="332.76" r="2.7"/>
<circle cx="418.83" cy="381.82" r="2.7"/>
<circle cx="420.32" cy="330.85" r="2.7"/>
<circle cx="414.12" cy="382.05" r="2.7"/>
<circle cx="416.09" cy="332.29" r="2.7"/>
<circle cx="413.73" cy="381.15" r="2.7"/>
<circle cx="413.87" cy="334.23" r="2.7"/>
<circle cx="420.43" cy="382.44" r="2.7"/>
<circle cx="414.68" cy="333.43" r="2.7"/>
<circle cx="415.39" cy="382.57" r="2.7"/>
<circle cx="414.58" cy="334.89" r="2.7"/>
<circle cx="418.21" cy="382.91" r="2.7"/>
<circle cx="414.45" cy="333.79" r="2.7"/>
<circle cx="420.74" cy="380.68" r="2.7"/>
<circle cx="414.51" cy="332.15" r="2.7"/>
<circle cx="416.19" cy="381.07" r="2.7"/>
<circle cx="414.9" cy="333.23" r="2.7"/>
<circle cx="421.82" cy="381.04" r="2.7"/>
<circle cx="414.93" cy="329.7" r="2.7"/>
<circle cx="415.56" cy="387.77" r="2.7"/>
<circle cx="418.41" cy="327.92" r="2.7"/>
<circle cx="417.57" cy="386.63" r="2.7"/>
<circle cx="418.48" cy="327.41" r="2.7"/>
<circle cx="420.28" cy="387.93" r="2.7"/>
<circle cx="429.22" cy="351.83" r="2.7"/>
<circle cx="437.95" cy="351.43" r="2.7"/>
<circle cx="429.37" cy="353.34" r="2.7"/>
<circle cx="437.43" cy="353.39" r="2.7"/>
<circle cx="429.03" cy="354.34" r="2.7"/>
<circle cx="437.78" cy="353.96" r="2.7"/>
<circle cx="429.8" cy="356.06" r="2.7"/>
<circle cx="436.99" cy="356.3" r="2.7"/>
<circle cx="429.41" cy="360.05" r="2.7"/>
<circle cx="437.85" cy="359.86" r="2.7"/>
<circle cx="429.28" cy="361.53" r="2.7"/>
<circle cx="437.19" cy="361.81" r="2.7"/>
<circle cx="429.95" cy="364.38" r="2.7"/>
<circle cx="438.06" cy="363.27" r="2.7"/>
<circle cx="429.25" cy="366.91" r="2.7"/>
<circle cx="437.9" cy="366.2" r="2.7"/>
<circle cx="429.18" cy="367.49" r="2.7"/>
<circle cx="437.68" cy="367.59" r="2.7"/>
<circle cx="429" cy="369.43" r="2.7"/>
<circle cx="437.56" cy="370.4" r="2.7"/>
<circle cx="429.04" cy="372.16" r="2.7"/>
<circle cx="438.05" cy="372.73" r="2.7"/>
<circle cx="430.13" cy="374.54" r="2.7"/>
<circle cx="437.24" cy="375.92" r="2.7"/>
<circle cx="429.91" cy="377.16" r="2.7"/>
<circle cx="438.15" cy="376.08" r="2.7"/>
<circle cx="429.36" cy="379.23" r="2.7"/>
<circle cx="437.83" cy="379.36" r="2.7"/>
<circle cx="431.66" cy="347.62" r="2.7"/>
<circle cx="435.05" cy="381.56" r="2.7"/>
<circle cx="431.68" cy="351.84" r="2.7"/>
<circle cx="434.68" cy="379.84" r="2.7"/>
<circle cx="434.78" cy="350.19" r="2.7"/>
<circle cx="435.08" cy="381.13" r="2.7"/>
<circle cx="430.15" cy="347.8" r="2.7"/>
<circle cx="429.76" cy="380.87" r="2.7"/>
<circle cx="430.76" cy="348.01" r="2.7"/>
<circle cx="433.51" cy="378.14" r="2.7"/>
<circle cx="435.03" cy="348.73" r="2.7"/>
<circle cx="435.67" cy="381.7" r="2.7"/>
<circle cx="430.43" cy="348.86" r="2.7"/>
<circle cx="432.85" cy="379.4" r="2.7"/>
<circle cx="433.13" cy="350.78" r="2.7"/>
<circle cx="430.39" cy="378.3" r="2.7"/>
<circle cx="432.33" cy="351.25" r="2.7"/>
<circle cx="429.89" cy="378.77" r="2.7"/>
<circle cx="431.42" cy="351.35" r="2.7"/>
<circle cx="435.93" cy="379.48" r="2.7"/>
<circle cx="431.82" cy="347.54" r="2.7"/>
<circle cx="431.14" cy="378.43" r="2.7"/>
<circle cx="431.67" cy="344.36" r="2.7"/>
<circle cx="434.04" cy="385.64" r="2.7"/>
<circle cx="431.8" cy="346.43" r="2.7"/>
<circle cx="431.34" cy="386.93" r="2.7"/>
<circle cx="432.91" cy="344.39" r="2.7"/>
<circle cx="433.94" cy="383.89" r="2.7"/>
<circle cx="61.5" cy="322.1" r="2.7"/>
<circle cx="89.4" cy="311.5" r="2.7"/>
<circle cx="91" cy="323.8" r="2.7"/>
<circle cx="82.5" cy="326.5" r="2.7"/>
<circle cx="92" cy="330" r="2.7"/>
<circle cx="83" cy="336" r="2.7"/>
<circle cx="86.5" cy="383.5" r="2.7"/>
<circle cx="84" cy="386.5" r="2.7"/>
<circle cx="89.5" cy="389" r="2.7"/>
<circle cx="100.6" cy="318.5" r="2.7"/>
<circle cx="103.6" cy="321.5" r="2.7"/>
<circle cx="97.5" cy="323.5" r="2.7"/>
<circle cx="106.5" cy="324" r="2.7"/>
<circle cx="101.5" cy="326.8" r="2.7"/>
<circle cx="107.5" cy="328.5" r="2.7"/>
<circle cx="97.5" cy="384.5" r="2.7"/>
<circle cx="105.5" cy="386" r="2.7"/>
<circle cx="103.5" cy="388.5" r="2.7"/>
<circle cx="114.5" cy="337" r="2.7"/>
<circle cx="117" cy="343" r="2.7"/>
<circle cx="120" cy="348" r="2.7"/>
<circle cx="114" cy="370" r="2.7"/>
<circle cx="119" cy="375" r="2.7"/>
<circle cx="122" cy="371" r="2.7"/>
<circle cx="129.5" cy="326" r="2.7"/>
<circle cx="135.5" cy="326.5" r="2.7"/>
<circle cx="141" cy="329" r="2.7"/>
<circle cx="137" cy="388" r="2.7"/>
<circle cx="139.5" cy="392" r="2.7"/>
<circle cx="148" cy="386.5" r="2.7"/>
<circle cx="156.5" cy="388" r="2.7"/>
<circle cx="168.5" cy="314.4" r="2.7"/>
<circle cx="171" cy="314.4" r="2.7"/>
<circle cx="160.5" cy="391" r="2.7"/>
<circle cx="163" cy="318.5" r="2.7"/>
<circle cx="166.5" cy="320" r="2.7"/>
<circle cx="176.5" cy="318.5" r="2.7"/>
<circle cx="182.5" cy="316.5" r="2.7"/>
<circle cx="187" cy="319.5" r="2.7"/>
<circle cx="176.5" cy="391" r="2.7"/>
<circle cx="184" cy="391.5" r="2.7"/>
<circle cx="194.3" cy="299.1" r="2.7"/>
<circle cx="197" cy="322" r="2.7"/>
<circle cx="192.5" cy="327" r="2.7"/>
<circle cx="201.5" cy="326.5" r="2.7"/>
<circle cx="192.5" cy="393" r="2.7"/>
<circle cx="198.5" cy="394" r="2.7"/>
<circle cx="207.3" cy="316.7" r="2.7"/>
<circle cx="216.5" cy="308.3" r="2.7"/>
<circle cx="210" cy="322.5" r="2.7"/>
<circle cx="214" cy="325" r="2.7"/>
<circle cx="208" cy="391" r="2.7"/>
<circle cx="216" cy="391.5" r="2.7"/>
<circle cx="226.5" cy="322" r="2.7"/>
<circle cx="233.5" cy="323" r="2.7"/>
<circle cx="224.5" cy="327.5" r="2.7"/>
<circle cx="226" cy="390" r="2.7"/>
<circle cx="231.5" cy="391.5" r="2.7"/>
<circle cx="257.7" cy="320.6" r="2.7"/>
<circle cx="261.6" cy="315.3" r="2.7"/>
<circle cx="256.1" cy="391.3" r="2.7"/>
<circle cx="264.8" cy="393.4" r="2.7"/>
<circle cx="264" cy="324.5" r="2.7"/>
<circle cx="271.5" cy="337" r="2.7"/>
<circle cx="276" cy="339" r="2.7"/>
<circle cx="281" cy="336.5" r="2.7"/>
<circle cx="273" cy="381" r="2.7"/>
<circle cx="279" cy="383" r="2.7"/>
<circle cx="276.5" cy="354" r="2.7"/>
<circle cx="293.5" cy="318" r="2.7"/>
<circle cx="296.5" cy="321" r="2.7"/>
<circle cx="289.8" cy="393.7" r="2.7"/>
<circle cx="295.5" cy="391.5" r="2.7"/>
<circle cx="305.2" cy="337.5" r="2.7"/>
<circle cx="309" cy="340" r="2.7"/>
<circle cx="303.5" cy="343" r="2.7"/>
<circle cx="311" cy="345" r="2.7"/>
<circle cx="309" cy="380" r="2.7"/>
<circle cx="303" cy="382.5" r="2.7"/>
<circle cx="311.5" cy="376" r="2.7"/>
<circle cx="320.5" cy="312.2" r="2.7"/>
<circle cx="324.5" cy="311" r="2.7"/>
<circle cx="327" cy="313.5" r="2.7"/>
<circle cx="320.5" cy="396" r="2.7"/>
<circle cx="326" cy="397.5" r="2.7"/>
<circle cx="342.5" cy="318.5" r="2.7"/>
<circle cx="344.5" cy="323" r="2.7"/>
<circle cx="338" cy="396" r="2.7"/>
<circle cx="349.1" cy="320.5" r="2.7"/>
<circle cx="353" cy="322" r="2.7"/>
<circle cx="357" cy="321.5" r="2.7"/>
<circle cx="351" cy="391" r="2.7"/>
<circle cx="358" cy="390.5" r="2.7"/>
<circle cx="373.5" cy="316" r="2.7"/>
<circle cx="369" cy="319.5" r="2.7"/>
<circle cx="376" cy="314" r="2.7"/>
<circle cx="366" cy="391" r="2.7"/>
<circle cx="373.5" cy="392.5" r="2.7"/>
<circle cx="385" cy="332.5" r="2.7"/>
<circle cx="389.5" cy="333" r="2.7"/>
<circle cx="384" cy="384" r="2.7"/>
<circle cx="390" cy="385" r="2.7"/>
<circle cx="401" cy="317" r="2.7"/>
<circle cx="404.5" cy="320.5" r="2.7"/>
<circle cx="400" cy="322.5" r="2.7"/>
<circle cx="406" cy="324" r="2.7"/>
<circle cx="402.5" cy="327.5" r="2.7"/>
<circle cx="399" cy="400.1" r="2.7"/>
<circle cx="404" cy="386" r="2.7"/>
<circle cx="407.5" cy="389" r="2.7"/>
<circle cx="416" cy="321.5" r="2.7"/>
<circle cx="419" cy="324.5" r="2.7"/>
<circle cx="414.5" cy="327" r="2.7"/>
<circle cx="415" cy="386" r="2.7"/>
<circle cx="421" cy="387" r="2.7"/>
<circle cx="432" cy="337" r="2.7"/>
<circle cx="436.5" cy="339.5" r="2.7"/>
<circle cx="430.5" cy="341.5" r="2.7"/>
<circle cx="432" cy="380" r="2.7"/>
<circle cx="437" cy="382" r="2.7"/>
</g>
<g fill-opacity="0.82">
<circle cx="239.56" cy="305.14" r="2.7" fill="#d42a2a"/>
<circle cx="243.24" cy="333.89" r="2.7" fill="#992228"/>
<circle cx="240.89" cy="326.85" r="2.7" fill="#d42a2a"/>
<circle cx="241.2" cy="315.23" r="2.7" fill="#f03c3c"/>
<circle cx="249.22" cy="331.79" r="2.7" fill="#d42a2a"/>
<circle cx="243.51" cy="312.41" r="2.7" fill="#f03c3c"/>
<circle cx="241.49" cy="310.39" r="2.7" fill="#d42a2a"/>
<circle cx="248.61" cy="328.17" r="2.7" fill="#d42a2a"/>
<circle cx="244.5" cy="324.17" r="2.7" fill="#f03c3c"/>
<circle cx="246.57" cy="304.67" r="2.7" fill="#992228"/>
<circle cx="239.72" cy="310.75" r="2.7" fill="#d42a2a"/>
<circle cx="240.59" cy="319.09" r="2.7" fill="#992228"/>
<circle cx="240.41" cy="326.48" r="2.7" fill="#f03c3c"/>
<circle cx="249.37" cy="319" r="2.7" fill="#d42a2a"/>
<circle cx="240.06" cy="317.05" r="2.7" fill="#d42a2a"/>
<circle cx="243.3" cy="305.24" r="2.7" fill="#d42a2a"/>
<circle cx="243.06" cy="310.89" r="2.7" fill="#f03c3c"/>
<circle cx="241.8" cy="305.36" r="2.7" fill="#d42a2a"/>
<circle cx="248.8" cy="321.57" r="2.7" fill="#f03c3c"/>
<circle cx="249.59" cy="306.63" r="2.7" fill="#992228"/>
<circle cx="245.03" cy="304.85" r="2.7" fill="#992228"/>
<circle cx="241.69" cy="331.53" r="2.7" fill="#f03c3c"/>
<circle cx="244.46" cy="318.75" r="2.7" fill="#d42a2a"/>
<circle cx="240.82" cy="328.91" r="2.7" fill="#d42a2a"/>
<circle cx="240.46" cy="323.82" r="2.7" fill="#d42a2a"/>
<circle cx="243.3" cy="324.88" r="2.7" fill="#f03c3c"/>
<circle cx="244.53" cy="326.21" r="2.7" fill="#d42a2a"/>
<circle cx="239.52" cy="308.94" r="2.7" fill="#992228"/>
<circle cx="246.35" cy="332.79" r="2.7" fill="#f03c3c"/>
<circle cx="241.93" cy="320.73" r="2.7" fill="#d42a2a"/>
<circle cx="240.9" cy="324.93" r="2.7" fill="#992228"/>
<circle cx="248.08" cy="307.79" r="2.7" fill="#992228"/>
<circle cx="248.66" cy="327.43" r="2.7" fill="#992228"/>
<circle cx="246.43" cy="324.66" r="2.7" fill="#d42a2a"/>
<circle cx="244.35" cy="303.52" r="2.7" fill="#f03c3c"/>
<circle cx="248.58" cy="317.83" r="2.7" fill="#d42a2a"/>
<circle cx="240.92" cy="317.49" r="2.7" fill="#d42a2a"/>
<circle cx="242.79" cy="313.05" r="2.7" fill="#d42a2a"/>
<circle cx="243.74" cy="334" r="2.7" fill="#d42a2a"/>
<circle cx="249.64" cy="303.42" r="2.7" fill="#d42a2a"/>
<circle cx="243.44" cy="305.17" r="2.7" fill="#d42a2a"/>
<circle cx="241.69" cy="325.2" r="2.7" fill="#d42a2a"/>
<circle cx="244.48" cy="309.35" r="2.7" fill="#d42a2a"/>
<circle cx="244.33" cy="335.99" r="2.7" fill="#d42a2a"/>
<circle cx="247.56" cy="335.17" r="2.7" fill="#f03c3c"/>
<circle cx="243.11" cy="316.43" r="2.7" fill="#f03c3c"/>
<circle cx="247.72" cy="321.76" r="2.7" fill="#d42a2a"/>
<circle cx="239.4" cy="330.32" r="2.7" fill="#d42a2a"/>
<circle cx="245.95" cy="329.79" r="2.7" fill="#d42a2a"/>
<circle cx="247.09" cy="321.54" r="2.7" fill="#d42a2a"/>
<circle cx="245.47" cy="311.62" r="2.7" fill="#d42a2a"/>
<circle cx="241.01" cy="334.69" r="2.7" fill="#d42a2a"/>
<circle cx="240.86" cy="335.95" r="2.7" fill="#992228"/>
<circle cx="240.01" cy="332.26" r="2.7" fill="#d42a2a"/>
<circle cx="240.27" cy="316.95" r="2.7" fill="#d42a2a"/>
<circle cx="242.13" cy="329.07" r="2.7" fill="#d42a2a"/>
<circle cx="248.69" cy="324.84" r="2.7" fill="#d42a2a"/>
<circle cx="247.09" cy="334.94" r="2.7" fill="#f03c3c"/>
<circle cx="249.28" cy="304.7" r="2.7" fill="#f03c3c"/>
<circle cx="249.16" cy="334.93" r="2.7" fill="#f03c3c"/>
<circle cx="375.68" cy="294.05" r="2.7" fill="#d42a2a"/>
<circle cx="370.96" cy="301.79" r="2.7" fill="#d42a2a"/>
<circle cx="372.3" cy="324.62" r="2.7" fill="#992228"/>
<circle cx="370.06" cy="311.4" r="2.7" fill="#d42a2a"/>
<circle cx="371.57" cy="315.83" r="2.7" fill="#992228"/>
<circle cx="375.63" cy="330.03" r="2.7" fill="#d42a2a"/>
<circle cx="371.64" cy="302.72" r="2.7" fill="#d42a2a"/>
<circle cx="367.2" cy="310.65" r="2.7" fill="#d42a2a"/>
<circle cx="369.69" cy="314.97" r="2.7" fill="#992228"/>
<circle cx="374.12" cy="292.19" r="2.7" fill="#f03c3c"/>
<circle cx="370.33" cy="313.83" r="2.7" fill="#992228"/>
<circle cx="365.34" cy="324.18" r="2.7" fill="#d42a2a"/>
<circle cx="373.46" cy="297.06" r="2.7" fill="#d42a2a"/>
<circle cx="368.74" cy="304.46" r="2.7" fill="#d42a2a"/>
<circle cx="366.2" cy="334.71" r="2.7" fill="#d42a2a"/>
<circle cx="369.57" cy="309.01" r="2.7" fill="#d42a2a"/>
<circle cx="367.75" cy="330.11" r="2.7" fill="#992228"/>
<circle cx="370.58" cy="299.43" r="2.7" fill="#992228"/>
<circle cx="367.64" cy="284.53" r="2.7" fill="#d42a2a"/>
<circle cx="366.46" cy="328.86" r="2.7" fill="#992228"/>
<circle cx="369.63" cy="285.02" r="2.7" fill="#f03c3c"/>
<circle cx="370.31" cy="315.14" r="2.7" fill="#d42a2a"/>
<circle cx="371.47" cy="332.6" r="2.7" fill="#992228"/>
<circle cx="373.43" cy="297.36" r="2.7" fill="#992228"/>
<circle cx="370.44" cy="287.35" r="2.7" fill="#f03c3c"/>
<circle cx="373.68" cy="316.91" r="2.7" fill="#f03c3c"/>
<circle cx="375.63" cy="298.81" r="2.7" fill="#d42a2a"/>
<circle cx="372.17" cy="326.3" r="2.7" fill="#d42a2a"/>
<circle cx="375.68" cy="318.59" r="2.7" fill="#d42a2a"/>
<circle cx="374.42" cy="298.78" r="2.7" fill="#d42a2a"/>
<circle cx="365.94" cy="286.64" r="2.7" fill="#d42a2a"/>
<circle cx="374.69" cy="327.13" r="2.7" fill="#d42a2a"/>
<circle cx="374.93" cy="279.69" r="2.7" fill="#d42a2a"/>
<circle cx="373.08" cy="308.56" r="2.7" fill="#d42a2a"/>
<circle cx="373.86" cy="278.71" r="2.7" fill="#d42a2a"/>
<circle cx="367.93" cy="282.06" r="2.7" fill="#d42a2a"/>
<circle cx="368.1" cy="290.57" r="2.7" fill="#d42a2a"/>
<circle cx="366.47" cy="278.14" r="2.7" fill="#f03c3c"/>
<circle cx="366.85" cy="334.23" r="2.7" fill="#992228"/>
<circle cx="369.01" cy="281.33" r="2.7" fill="#d42a2a"/>
<circle cx="370.41" cy="301.63" r="2.7" fill="#d42a2a"/>
<circle cx="375.25" cy="296.65" r="2.7" fill="#d42a2a"/>
<circle cx="366.23" cy="286.59" r="2.7" fill="#d42a2a"/>
<circle cx="375.75" cy="280.09" r="2.7" fill="#d42a2a"/>
<circle cx="373.11" cy="323.71" r="2.7" fill="#992228"/>
<circle cx="366.76" cy="306.6" r="2.7" fill="#d42a2a"/>
<circle cx="371.29" cy="331.81" r="2.7" fill="#f03c3c"/>
<circle cx="374.3" cy="321.33" r="2.7" fill="#f03c3c"/>
<circle cx="372.98" cy="299.73" r="2.7" fill="#d42a2a"/>
<circle cx="366.02" cy="295.37" r="2.7" fill="#d42a2a"/>
<circle cx="371.57" cy="282.56" r="2.7" fill="#d42a2a"/>
<circle cx="370.12" cy="323.84" r="2.7" fill="#d42a2a"/>
<circle cx="367.74" cy="323.68" r="2.7" fill="#f03c3c"/>
<circle cx="370.34" cy="325.67" r="2.7" fill="#f03c3c"/>
<circle cx="367.32" cy="285.15" r="2.7" fill="#d42a2a"/>
<circle cx="374.31" cy="289.73" r="2.7" fill="#d42a2a"/>
<circle cx="368.03" cy="291.21" r="2.7" fill="#f03c3c"/>
<circle cx="368.82" cy="307.79" r="2.7" fill="#f03c3c"/>
<circle cx="373.06" cy="278.82" r="2.7" fill="#d42a2a"/>
<circle cx="367.52" cy="307.25" r="2.7" fill="#d42a2a"/>
<circle cx="374.98" cy="313.27" r="2.7" fill="#d42a2a"/>
<circle cx="375.99" cy="335.19" r="2.7" fill="#d42a2a"/>
<circle cx="365.91" cy="284.74" r="2.7" fill="#d42a2a"/>
<circle cx="374.17" cy="322.51" r="2.7" fill="#d42a2a"/>
<circle cx="370.89" cy="300.39" r="2.7" fill="#d42a2a"/>
<circle cx="371.82" cy="280.28" r="2.7" fill="#f03c3c"/>
<circle cx="368.75" cy="294.31" r="2.7" fill="#d42a2a"/>
<circle cx="375.3" cy="285.92" r="2.7" fill="#d42a2a"/>
<circle cx="367.38" cy="304.24" r="2.7" fill="#f03c3c"/>
<circle cx="373" cy="323.32" r="2.7" fill="#992228"/>
<circle cx="370.39" cy="317.46" r="2.7" fill="#d42a2a"/>
<circle cx="366.39" cy="322.75" r="2.7" fill="#f03c3c"/>
<circle cx="369.96" cy="313.8" r="2.7" fill="#f03c3c"/>
<circle cx="372.46" cy="291.9" r="2.7" fill="#d42a2a"/>
<circle cx="374.44" cy="303.53" r="2.7" fill="#f03c3c"/>
<circle cx="369.25" cy="322.45" r="2.7" fill="#d42a2a"/>
<circle cx="373.07" cy="323.01" r="2.7" fill="#992228"/>
<circle cx="366.37" cy="313.51" r="2.7" fill="#d42a2a"/>
<circle cx="375.2" cy="282.18" r="2.7" fill="#d42a2a"/>
<circle cx="375.84" cy="279.21" r="2.7" fill="#992228"/>
<circle cx="370.27" cy="284.61" r="2.7" fill="#d42a2a"/>
<circle cx="372.34" cy="279.07" r="2.7" fill="#992228"/>
<circle cx="366.17" cy="302.8" r="2.7" fill="#f03c3c"/>
<circle cx="372.97" cy="318.15" r="2.7" fill="#f03c3c"/>
<circle cx="375.07" cy="278.88" r="2.7" fill="#d42a2a"/>
<circle cx="372.8" cy="308.27" r="2.7" fill="#992228"/>
<circle cx="370.98" cy="286.67" r="2.7" fill="#f03c3c"/>
<circle cx="367.12" cy="286.98" r="2.7" fill="#f03c3c"/>
<circle cx="369.15" cy="318.77" r="2.7" fill="#d42a2a"/>
<circle cx="371.2" cy="304.03" r="2.7" fill="#f03c3c"/>
<circle cx="373.24" cy="292.31" r="2.7" fill="#f03c3c"/>
<circle cx="375.57" cy="304.89" r="2.7" fill="#d42a2a"/>
<circle cx="373.43" cy="324.84" r="2.7" fill="#f03c3c"/>
<circle cx="373.17" cy="319.25" r="2.7" fill="#d42a2a"/>
<circle cx="375.13" cy="321.19" r="2.7" fill="#d42a2a"/>
<circle cx="374.02" cy="283.31" r="2.7" fill="#992228"/>
<circle cx="365.54" cy="324.33" r="2.7" fill="#992228"/>
<circle cx="375.94" cy="304.68" r="2.7" fill="#d42a2a"/>
<circle cx="371.89" cy="334.6" r="2.7" fill="#992228"/>
<circle cx="373.28" cy="287.2" r="2.7" fill="#992228"/>
<circle cx="372.36" cy="317.27" r="2.7" fill="#f03c3c"/>
<circle cx="374.56" cy="325.48" r="2.7" fill="#d42a2a"/>
<circle cx="373.74" cy="297.28" r="2.7" fill="#d42a2a"/>
<circle cx="374.95" cy="312.79" r="2.7" fill="#992228"/>
<circle cx="368.67" cy="290.45" r="2.7" fill="#d42a2a"/>
<circle cx="368.5" cy="333.03" r="2.7" fill="#d42a2a"/>
<circle cx="369.33" cy="297.82" r="2.7" fill="#f03c3c"/>
<circle cx="365.38" cy="332.62" r="2.7" fill="#f03c3c"/>
<circle cx="373.55" cy="321.62" r="2.7" fill="#d42a2a"/>
<circle cx="367.88" cy="321.58" r="2.7" fill="#f03c3c"/>
<circle cx="373.1" cy="335.45" r="2.7" fill="#d42a2a"/>
<circle cx="367.97" cy="324.97" r="2.7" fill="#992228"/>
<circle cx="374.31" cy="299.46" r="2.7" fill="#d42a2a"/>
<circle cx="372.94" cy="291.15" r="2.7" fill="#f03c3c"/>
<circle cx="374.35" cy="297.37" r="2.7" fill="#992228"/>
<circle cx="366.74" cy="328.85" r="2.7" fill="#992228"/>
<circle cx="365.76" cy="315.5" r="2.7" fill="#992228"/>
<circle cx="375.46" cy="334.77" r="2.7" fill="#d42a2a"/>
<circle cx="373.69" cy="323.19" r="2.7" fill="#d42a2a"/>
<circle cx="369.14" cy="320.04" r="2.7" fill="#f03c3c"/>
<circle cx="368.77" cy="282.92" r="2.7" fill="#f03c3c"/>
<circle cx="365.52" cy="330.28" r="2.7" fill="#992228"/>
<circle cx="365.97" cy="281.17" r="2.7" fill="#f03c3c"/>
<circle cx="370.23" cy="288.71" r="2.7" fill="#f03c3c"/>
<circle cx="370.39" cy="295.36" r="2.7" fill="#f03c3c"/>
<circle cx="241.4" cy="288.4" r="2.7" fill="#d42a2a"/>
<circle cx="245.5" cy="294.8" r="2.7" fill="#992228"/>
<circle cx="249.8" cy="302.7" r="2.7" fill="#f03c3c"/>
<circle cx="247.5" cy="298.5" r="2.7" fill="#d42a2a"/>
<circle cx="60.1" cy="398" r="2.7" fill="#62b4f2"/>
<circle cx="84.5" cy="293.5" r="2.7" fill="#f03c3c"/>
<circle cx="86.5" cy="299" r="2.7" fill="#992228"/>
<circle cx="82.6" cy="305.6" r="2.7" fill="#f03c3c"/>
<circle cx="86" cy="303.5" r="2.7" fill="#992228"/>
<circle cx="85.5" cy="308.5" r="2.7" fill="#d42a2a"/>
<circle cx="83" cy="314" r="2.7" fill="#992228"/>
<circle cx="87" cy="315.5" r="2.7" fill="#d42a2a"/>
<circle cx="90" cy="314.8" r="2.7" fill="#d42a2a"/>
<circle cx="84.5" cy="317.5" r="2.7" fill="#d42a2a"/>
<circle cx="88.5" cy="318.5" r="2.7" fill="#f03c3c"/>
<circle cx="91.5" cy="318" r="2.7" fill="#d42a2a"/>
<circle cx="82.5" cy="320.5" r="2.7" fill="#d42a2a"/>
<circle cx="86" cy="321" r="2.7" fill="#f03c3c"/>
<circle cx="89.5" cy="321.5" r="2.7" fill="#d42a2a"/>
<circle cx="84" cy="324" r="2.7" fill="#d42a2a"/>
<circle cx="88" cy="324.5" r="2.7" fill="#d42a2a"/>
<circle cx="86.5" cy="327.5" r="2.7" fill="#f03c3c"/>
<circle cx="89.5" cy="328" r="2.7" fill="#d42a2a"/>
<circle cx="84" cy="331" r="2.7" fill="#d42a2a"/>
<circle cx="88" cy="332" r="2.7" fill="#d42a2a"/>
<circle cx="90.5" cy="333.5" r="2.7" fill="#f03c3c"/>
<circle cx="80.5" cy="316" r="2.7" fill="#d42a2a"/>
<circle cx="93.5" cy="318" r="2.7" fill="#f03c3c"/>
<circle cx="92.5" cy="309" r="2.7" fill="#992228"/>
<circle cx="81" cy="311" r="2.7" fill="#992228"/>
<circle cx="93" cy="326" r="2.7" fill="#d42a2a"/>
<circle cx="80.5" cy="329" r="2.7" fill="#d42a2a"/>
<circle cx="92.5" cy="333" r="2.7" fill="#f03c3c"/>
<circle cx="90.5" cy="305.5" r="2.7" fill="#d42a2a"/>
<circle cx="88.5" cy="337.5" r="2.7" fill="#d42a2a"/>
<circle cx="84.9" cy="403.6" r="2.7" fill="#336a9a"/>
<circle cx="91" cy="406.8" r="2.7" fill="#336a9a"/>
<circle cx="99" cy="304.2" r="2.7" fill="#992228"/>
<circle cx="106.4" cy="304.2" r="2.7" fill="#f03c3c"/>
<circle cx="102.4" cy="311.6" r="2.7" fill="#f03c3c"/>
<circle cx="98.3" cy="314.8" r="2.7" fill="#992228"/>
<circle cx="104.2" cy="315.5" r="2.7" fill="#f03c3c"/>
<circle cx="97.3" cy="335.5" r="2.7" fill="#f03c3c"/>
<circle cx="99.8" cy="391.5" r="2.7" fill="#336a9a"/>
<circle cx="138.9" cy="306.4" r="2.7" fill="#f03c3c"/>
<circle cx="145" cy="303.4" r="2.7" fill="#f03c3c"/>
<circle cx="137" cy="311.9" r="2.7" fill="#992228"/>
<circle cx="133.4" cy="315.1" r="2.7" fill="#992228"/>
<circle cx="132.6" cy="325.8" r="2.7" fill="#d42a2a"/>
<circle cx="139.2" cy="327.2" r="2.7" fill="#d42a2a"/>
<circle cx="132.6" cy="390" r="2.7" fill="#62b4f2"/>
<circle cx="135.6" cy="396.3" r="2.7" fill="#336a9a"/>
<circle cx="144.9" cy="303" r="2.7" fill="#f03c3c"/>
<circle cx="146.5" cy="331.2" r="2.7" fill="#d42a2a"/>
<circle cx="154.5" cy="327.7" r="2.7" fill="#992228"/>
<circle cx="155.3" cy="332.8" r="2.7" fill="#992228"/>
<circle cx="146.4" cy="334.3" r="2.7" fill="#f03c3c"/>
<circle cx="151.6" cy="392.9" r="2.7" fill="#62b4f2"/>
<circle cx="161.1" cy="393.8" r="2.7" fill="#336a9a"/>
<circle cx="168" cy="397.7" r="2.7" fill="#336a9a"/>
<circle cx="170.3" cy="390.9" r="2.7" fill="#336a9a"/>
<circle cx="177.5" cy="326.6" r="2.7" fill="#d42a2a"/>
<circle cx="185.9" cy="323.9" r="2.7" fill="#f03c3c"/>
<circle cx="194.3" cy="302.9" r="2.7" fill="#d42a2a"/>
<circle cx="200.4" cy="320.5" r="2.7" fill="#f03c3c"/>
<circle cx="194.3" cy="334.3" r="2.7" fill="#992228"/>
<circle cx="196.6" cy="405.4" r="2.7" fill="#62b4f2"/>
<circle cx="218.7" cy="329.2" r="2.7" fill="#d42a2a"/>
<circle cx="227.9" cy="289.5" r="2.7" fill="#d42a2a"/>
<circle cx="231" cy="293.5" r="2.7" fill="#f03c3c"/>
<circle cx="230.2" cy="298.7" r="2.7" fill="#992228"/>
<circle cx="232.5" cy="309.8" r="2.7" fill="#d42a2a"/>
<circle cx="229.4" cy="317.9" r="2.7" fill="#992228"/>
<circle cx="228.7" cy="331.2" r="2.7" fill="#992228"/>
<circle cx="228.7" cy="406.6" r="2.7" fill="#336a9a"/>
<circle cx="261" cy="327.2" r="2.7" fill="#d42a2a"/>
<circle cx="258.5" cy="406.3" r="2.7" fill="#4a92d2"/>
<circle cx="262.7" cy="436.2" r="2.7" fill="#336a9a"/>
<circle cx="297.2" cy="293.7" r="2.7" fill="#992228"/>
<circle cx="287.8" cy="320.9" r="2.7" fill="#992228"/>
<circle cx="288.9" cy="328" r="2.7" fill="#d42a2a"/>
<circle cx="305.2" cy="313.3" r="2.7" fill="#d42a2a"/>
<circle cx="305.2" cy="320.6" r="2.7" fill="#d42a2a"/>
<circle cx="305.2" cy="332" r="2.7" fill="#992228"/>
<circle cx="319.4" cy="326.4" r="2.7" fill="#d42a2a"/>
<circle cx="323.7" cy="326.4" r="2.7" fill="#d42a2a"/>
<circle cx="322.3" cy="399.4" r="2.7" fill="#336a9a"/>
<circle cx="319" cy="406.8" r="2.7" fill="#336a9a"/>
<circle cx="327.4" cy="402.8" r="2.7" fill="#4a92d2"/>
<circle cx="327.4" cy="409" r="2.7" fill="#62b4f2"/>
<circle cx="325.5" cy="404" r="2.7" fill="#4a92d2"/>
<circle cx="329.5" cy="406" r="2.7" fill="#4a92d2"/>
<circle cx="321" cy="403" r="2.7" fill="#4a92d2"/>
<circle cx="324" cy="408" r="2.7" fill="#336a9a"/>
<circle cx="327.4" cy="422.9" r="2.7" fill="#62b4f2"/>
<circle cx="328.3" cy="426.3" r="2.7" fill="#336a9a"/>
<circle cx="333.5" cy="288.7" r="2.7" fill="#992228"/>
<circle cx="336.8" cy="292.7" r="2.7" fill="#992228"/>
<circle cx="335.7" cy="302.1" r="2.7" fill="#d42a2a"/>
<circle cx="339.5" cy="307.7" r="2.7" fill="#992228"/>
<circle cx="338.6" cy="311.5" r="2.7" fill="#f03c3c"/>
<circle cx="343.1" cy="315.1" r="2.7" fill="#f03c3c"/>
<circle cx="334.2" cy="317.8" r="2.7" fill="#d42a2a"/>
<circle cx="337.5" cy="320.5" r="2.7" fill="#d42a2a"/>
<circle cx="340.5" cy="321.5" r="2.7" fill="#d42a2a"/>
<circle cx="335" cy="324" r="2.7" fill="#f03c3c"/>
<circle cx="339" cy="325.5" r="2.7" fill="#992228"/>
<circle cx="342.5" cy="327" r="2.7" fill="#d42a2a"/>
<circle cx="336.5" cy="329" r="2.7" fill="#d42a2a"/>
<circle cx="340" cy="331" r="2.7" fill="#f03c3c"/>
<circle cx="334.5" cy="332.5" r="2.7" fill="#d42a2a"/>
<circle cx="333.5" cy="393.4" r="2.7" fill="#62b4f2"/>
<circle cx="343.6" cy="408.4" r="2.7" fill="#62b4f2"/>
<circle cx="368.6" cy="258.5" r="2.7" fill="#f03c3c"/>
<circle cx="376" cy="256.3" r="2.7" fill="#f03c3c"/>
<circle cx="374.4" cy="274.8" r="2.7" fill="#992228"/>
<circle cx="370" cy="390.5" r="2.7" fill="#62b4f2"/>
<circle cx="381.1" cy="403.9" r="2.7" fill="#62b4f2"/>
<circle cx="382" cy="331.6" r="2.7" fill="#992228"/>
<circle cx="403.5" cy="294.3" r="2.7" fill="#f03c3c"/>
<circle cx="402.2" cy="295.4" r="2.7" fill="#992228"/>
<circle cx="406.2" cy="301.7" r="2.7" fill="#d42a2a"/>
<circle cx="397.9" cy="305.5" r="2.7" fill="#992228"/>
<circle cx="399.9" cy="313.3" r="2.7" fill="#d42a2a"/>
<circle cx="398.4" cy="324" r="2.7" fill="#f03c3c"/>
<circle cx="398.4" cy="332.3" r="2.7" fill="#d42a2a"/>
<circle cx="405.5" cy="330" r="2.7" fill="#f03c3c"/>
<circle cx="421.8" cy="317.6" r="2.7" fill="#f03c3c"/>
<circle cx="417.9" cy="331.2" r="2.7" fill="#f03c3c"/>
<circle cx="422.3" cy="329" r="2.7" fill="#992228"/>
<circle cx="435" cy="334.2" r="2.7" fill="#992228"/>
</g>
<line x1="56.3" y1="353.1" x2="75" y2="353.1" stroke="#000" stroke-width="1.5" />
<line x1="78.2" y1="353.1" x2="442.4" y2="353.1" stroke="#000" stroke-width="1.5" />
<line x1="56.3" y1="335.5" x2="442.4" y2="335.5" stroke="#000" stroke-width="1.2" stroke-dasharray="4.2,3" />
<line x1="56.3" y1="388.3" x2="442.4" y2="388.3" stroke="#000" stroke-width="1.2" stroke-dasharray="4.2,3" />
<rect x="359.7" y="250.2" width="21.9" height="84.8" fill="none" stroke="#111" stroke-width="1.25" stroke-dasharray="3.4,2.4"/>
<circle cx="150" cy="249.8" r="2.9" fill="#f03c3c" fill-opacity="0.85"/>
<text x="157.6" y="252.1" font-size="6.6" style="stroke-width:0.1px">GR4_res</text>
<circle cx="150" cy="258.9" r="2.9" fill="#62b4f2" fill-opacity="0.85"/>
<text x="157.6" y="261.2" font-size="6.6" style="stroke-width:0.1px">GR4_sens</text>
<circle cx="196.2" cy="249.8" r="2.9" fill="#8e8e8e" fill-opacity="0.85"/>
<text x="203.8" y="252.1" font-size="6.6" style="stroke-width:0.1px">No_Hit</text>
<circle cx="196.2" cy="258.9" r="2.9" fill="#d42a2a" fill-opacity="0.85"/>
<text x="203.8" y="261.2" font-size="6.6" style="stroke-width:0.1px">PFR3_res</text>
<circle cx="240.9" cy="249.8" r="2.9" fill="#4a92d2" fill-opacity="0.85"/>
<text x="248.5" y="252.1" font-size="6.6" style="stroke-width:0.1px">PFR3_sens</text>
<circle cx="240.9" cy="258.9" r="2.9" fill="#992228" fill-opacity="0.85"/>
<text x="248.5" y="261.2" font-size="6.6" style="stroke-width:0.1px">WZR12_res</text>
<circle cx="290.4" cy="249.8" r="2.9" fill="#336a9a" fill-opacity="0.85"/>
<text x="298" y="252.1" font-size="6.6" style="stroke-width:0.1px">WZR12_sens</text>
<text x="69.1" y="454.8" font-size="7.6" text-anchor="end" font-weight="bold" transform="rotate(-45 69.1 454.8)">Empty</text>
<text x="91.1" y="454.8" font-size="7.6" text-anchor="end" font-weight="bold" transform="rotate(-45 91.1 454.8)">Angiogenesis</text>
<text x="106.83" y="454.8" font-size="7.6" text-anchor="end" font-weight="bold" transform="rotate(-45 106.83 454.8)">Apoptosis</text>
<text x="122.56" y="454.8" font-size="7.6" text-anchor="end" font-weight="bold" transform="rotate(-45 122.56 454.8)">Autophagy</text>
<text x="138.29" y="454.8" font-size="7.6" text-anchor="end" font-weight="bold" transform="rotate(-45 138.29 454.8)">Cell Cycle</text>
<text x="154.02" y="454.8" font-size="7.6" text-anchor="end" font-weight="bold" transform="rotate(-45 154.02 454.8)">Cytoskeletal Signaling</text>
<text x="169.75" y="454.8" font-size="7.6" text-anchor="end" font-weight="bold" transform="rotate(-45 169.75 454.8)">DNA Damage</text>
<text x="185.48" y="454.8" font-size="7.6" text-anchor="end" font-weight="bold" transform="rotate(-45 185.48 454.8)">Endocrinology &amp; Hormones</text>
<text x="201.21" y="454.8" font-size="7.6" text-anchor="end" font-weight="bold" transform="rotate(-45 201.21 454.8)">Epigenetics</text>
<text x="216.94" y="454.8" font-size="7.6" text-anchor="end" font-weight="bold" transform="rotate(-45 216.94 454.8)">GPCR &amp; G Protein</text>
<text x="232.67" y="454.8" font-size="7.6" text-anchor="end" font-weight="bold" transform="rotate(-45 232.67 454.8)">JAK/STAT</text>
<text x="248.4" y="454.8" font-size="7.6" text-anchor="end" font-weight="bold" transform="rotate(-45 248.4 454.8)">MAPK</text>
<text x="264.13" y="454.8" font-size="7.6" text-anchor="end" font-weight="bold" transform="rotate(-45 264.13 454.8)">Metabolism</text>
<text x="279.86" y="454.8" font-size="7.6" text-anchor="end" font-weight="bold" transform="rotate(-45 279.86 454.8)">Microbiology</text>
<text x="295.59" y="454.8" font-size="7.6" text-anchor="end" font-weight="bold" transform="rotate(-45 295.59 454.8)">Neuronal Signaling</text>
<text x="311.32" y="454.8" font-size="7.6" text-anchor="end" font-weight="bold" transform="rotate(-45 311.32 454.8)">NF−κB</text>
<text x="327.05" y="454.8" font-size="7.6" text-anchor="end" font-weight="bold" transform="rotate(-45 327.05 454.8)">Others</text>
<text x="342.78" y="454.8" font-size="7.6" text-anchor="end" font-weight="bold" transform="rotate(-45 342.78 454.8)">PI3K/Akt/mTOR</text>
<text x="358.51" y="454.8" font-size="7.6" text-anchor="end" font-weight="bold" transform="rotate(-45 358.51 454.8)">Proteases</text>
<text x="374.24" y="454.8" font-size="7.6" text-anchor="end" font-weight="bold" transform="rotate(-45 374.24 454.8)">Protein Tyrosine Kinase</text>
<text x="389.97" y="454.8" font-size="7.6" text-anchor="end" font-weight="bold" transform="rotate(-45 389.97 454.8)">Stem Cells &amp; Wnt</text>
<text x="405.7" y="454.8" font-size="7.6" text-anchor="end" font-weight="bold" transform="rotate(-45 405.7 454.8)">TGF−beta/Smad</text>
<text x="421.43" y="454.8" font-size="7.6" text-anchor="end" font-weight="bold" transform="rotate(-45 421.43 454.8)">Transmembrane Transporters</text>
<text x="437.16" y="454.8" font-size="7.6" text-anchor="end" font-weight="bold" transform="rotate(-45 437.16 454.8)">Ubiquitin</text>
<text x="463.6" y="245.6" font-size="14" font-weight="bold">d</text>
<line x1="560.7" y1="290.6" x2="560.7" y2="434.1" stroke="#000" stroke-width="1.3" />
<line x1="560.1" y1="433.5" x2="608.1" y2="433.5" stroke="#000" stroke-width="1.3" />
<line x1="560.7" y1="322.3" x2="608.1" y2="322.3" stroke="#000" stroke-width="1.3" />
<text x="555" y="324.9" font-size="7.4" text-anchor="end">0.0</text>
<text x="555" y="362.6" font-size="7.4" text-anchor="end">−0.3</text>
<text x="555" y="400.3" font-size="7.4" text-anchor="end">−0.6</text>
<line x1="583.6" y1="433.5" x2="583.6" y2="435.8" stroke="#000" stroke-width="0.9" />
<text x="582.3" y="446" font-size="7.6" text-anchor="middle">MCB−613</text>
<circle cx="583.3" cy="360" r="3.7" fill="#4a92d2" stroke="#000" stroke-width="1" />
<circle cx="591.8" cy="422.3" r="3.7" fill="#62b4f2" stroke="#000" stroke-width="1" />
<circle cx="593.9" cy="427.1" r="3.7" fill="#336a9a" stroke="#000" stroke-width="1" />
<circle cx="614.7" cy="354.1" r="3.7" fill="#62b4f2" stroke="#000" stroke-width="1" />
<text x="621.8" y="356.7" font-size="7.4">GR4</text>
<circle cx="614.7" cy="364.7" r="3.7" fill="#4a92d2" stroke="#000" stroke-width="1" />
<text x="621.8" y="367.3" font-size="7.4">PFR3</text>
<circle cx="614.7" cy="375.3" r="3.7" fill="#336a9a" stroke="#000" stroke-width="1" />
<text x="621.8" y="377.9" font-size="7.4">WZR12</text>
<text x="521" y="359.4" font-size="9.4" text-anchor="middle" transform="rotate(-90 521 359.4)">Differential viability</text>
<text x="533.3" y="359" font-size="9.4" text-anchor="middle" transform="rotate(-90 533.3 359)">(Resistant-Parental)</text>
<text x="0" y="554.2" font-size="14" font-weight="bold">e</text>
<text x="123.8" y="569.8" font-size="10" text-anchor="middle">MCB-613</text>
<line x1="43.7" y1="583.6" x2="43.7" y2="690.7" stroke="#000" stroke-width="1.9" />
<line x1="42.8" y1="689.8" x2="204.4" y2="689.8" stroke="#000" stroke-width="1.9" />
<line x1="39.8" y1="689.8" x2="43.7" y2="689.8" stroke="#000" stroke-width="1.3" />
<text x="38.8" y="692.6" font-size="8.2" text-anchor="end">0.0</text>
<line x1="39.8" y1="668.66" x2="43.7" y2="668.66" stroke="#000" stroke-width="1.3" />
<text x="38.8" y="671.46" font-size="8.2" text-anchor="end">0.2</text>
<line x1="39.8" y1="647.52" x2="43.7" y2="647.52" stroke="#000" stroke-width="1.3" />
<text x="38.8" y="650.32" font-size="8.2" text-anchor="end">0.4</text>
<line x1="39.8" y1="626.38" x2="43.7" y2="626.38" stroke="#000" stroke-width="1.3" />
<text x="38.8" y="629.18" font-size="8.2" text-anchor="end">0.6</text>
<line x1="39.8" y1="605.24" x2="43.7" y2="605.24" stroke="#000" stroke-width="1.3" />
<text x="38.8" y="608.04" font-size="8.2" text-anchor="end">0.8</text>
<line x1="39.8" y1="584.1" x2="43.7" y2="584.1" stroke="#000" stroke-width="1.3" />
<text x="38.8" y="586.9" font-size="8.2" text-anchor="end">1.0</text>
<text x="21.8" y="636.7" font-size="8.8" text-anchor="middle" transform="rotate(-90 21.8 636.7)">Relative Luminescence</text>
<rect x="57.4" y="617.92" width="22.4" height="71.88" fill="#d3d3d3" stroke="#000" stroke-width="1.8" />
<line x1="68.6" y1="689.8" x2="68.6" y2="694.6" stroke="#000" stroke-width="1.6" />
<text x="72.2" y="700.5" font-size="8.3" text-anchor="end" transform="rotate(-45 72.2 700.5)">PC9</text>
<rect x="94.2" y="645.93" width="22.4" height="43.87" fill="#fde0e2" stroke="#f0363e" stroke-width="1.8" />
<line x1="105.4" y1="689.8" x2="105.4" y2="694.6" stroke="#000" stroke-width="1.6" />
<text x="109" y="700.5" font-size="8.3" text-anchor="end" transform="rotate(-45 109 700.5)">PFR3</text>
<rect x="131.2" y="668.66" width="22.4" height="21.14" fill="#fde0e2" stroke="#f0363e" stroke-width="1.8" />
<line x1="142.4" y1="689.8" x2="142.4" y2="694.6" stroke="#000" stroke-width="1.6" />
<text x="146" y="700.5" font-size="8.3" text-anchor="end" transform="rotate(-45 146 700.5)">GR4</text>
<rect x="168" y="680.82" width="22.4" height="8.98" fill="#fde0e2" stroke="#f0363e" stroke-width="1.8" />
<line x1="179.2" y1="689.8" x2="179.2" y2="694.6" stroke="#000" stroke-width="1.6" />
<text x="182.8" y="700.5" font-size="8.3" text-anchor="end" transform="rotate(-45 182.8 700.5)">WZR12</text>
<line x1="68.6" y1="610.6" x2="68.6" y2="625" stroke="#000" stroke-width="1.6" />
<line x1="62.2" y1="610.6" x2="75" y2="610.6" stroke="#000" stroke-width="1.6" />
<line x1="62.2" y1="625" x2="75" y2="625" stroke="#000" stroke-width="1.6" />
<circle cx="64.6" cy="613.8" r="2.2" fill="#fff" stroke="#000" stroke-width="1.5" />
<circle cx="72.6" cy="613.8" r="2.2" fill="#fff" stroke="#000" stroke-width="1.5" />
<circle cx="68.6" cy="626.2" r="2.2" fill="#fff" stroke="#000" stroke-width="1.5" />
<line x1="105.4" y1="642.9" x2="105.4" y2="648.5" stroke="#f0363e" stroke-width="1.5" />
<line x1="100.6" y1="642.9" x2="110.2" y2="642.9" stroke="#f0363e" stroke-width="1.5" />
<line x1="100.6" y1="648.5" x2="110.2" y2="648.5" stroke="#f0363e" stroke-width="1.5" />
<circle cx="95.1" cy="646.4" r="2.1" fill="#fff" stroke="#f0363e" stroke-width="1.5" />
<circle cx="105.6" cy="642.7" r="2.1" fill="#fff" stroke="#f0363e" stroke-width="1.5" />
<circle cx="115.7" cy="646.4" r="2.1" fill="#fff" stroke="#f0363e" stroke-width="1.5" />
<line x1="142.3" y1="663.6" x2="142.3" y2="673.5" stroke="#f0363e" stroke-width="1.5" />
<line x1="137.5" y1="663.6" x2="147.1" y2="663.6" stroke="#f0363e" stroke-width="1.5" />
<line x1="137.5" y1="673.5" x2="147.1" y2="673.5" stroke="#f0363e" stroke-width="1.5" />
<circle cx="142.3" cy="663.1" r="2.1" fill="#fff" stroke="#f0363e" stroke-width="1.5" />
<circle cx="138.3" cy="673" r="2.1" fill="#fff" stroke="#f0363e" stroke-width="1.5" />
<circle cx="146.8" cy="669.8" r="2.1" fill="#fff" stroke="#f0363e" stroke-width="1.5" />
<circle cx="168.7" cy="681" r="2.1" fill="#fff" stroke="#f0363e" stroke-width="1.5" />
<circle cx="179.2" cy="680.5" r="2.1" fill="#fff" stroke="#f0363e" stroke-width="1.5" />
<circle cx="189.5" cy="681" r="2.1" fill="#fff" stroke="#f0363e" stroke-width="1.5" />
<line x1="168.7" y1="680.8" x2="189.5" y2="680.8" stroke="#f0363e" stroke-width="1.5" />
<polyline points="68.6,586 161.2,586 161.2,653.2" stroke="#333" stroke-width="1.5" fill="none" />
<line x1="142.3" y1="653.2" x2="179.2" y2="653.2" stroke="#333" stroke-width="1.5" />
<text x="110" y="582.6" font-size="6.9" text-anchor="middle" style="stroke-width:0.1px">p &lt; .0001</text>
<line x1="68.6" y1="602.1" x2="105.6" y2="602.1" stroke="#333" stroke-width="1.5" />
<text x="86.6" y="598.8" font-size="6.9" text-anchor="middle" style="stroke-width:0.1px">p = .0002</text>
<text x="226.5" y="553.5" font-size="14" font-weight="bold">f</text>
<text x="358.8" y="570.1" font-size="9.8" text-anchor="middle">PC9</text>
<line x1="281" y1="583" x2="281" y2="688.2" stroke="#000" stroke-width="1.9" />
<line x1="280.1" y1="687.4" x2="436.8" y2="687.4" stroke="#000" stroke-width="1.9" />
<line x1="277.3" y1="687.4" x2="281" y2="687.4" stroke="#000" stroke-width="1.3" />
<text x="275.8" y="690.1" font-size="7.9" text-anchor="end">0.0</text>
<line x1="277.3" y1="666.54" x2="281" y2="666.54" stroke="#000" stroke-width="1.3" />
<text x="275.8" y="669.24" font-size="7.9" text-anchor="end">0.2</text>
<line x1="277.3" y1="645.68" x2="281" y2="645.68" stroke="#000" stroke-width="1.3" />
<text x="275.8" y="648.38" font-size="7.9" text-anchor="end">0.4</text>
<line x1="277.3" y1="624.82" x2="281" y2="624.82" stroke="#000" stroke-width="1.3" />
<text x="275.8" y="627.52" font-size="7.9" text-anchor="end">0.6</text>
<line x1="277.3" y1="603.96" x2="281" y2="603.96" stroke="#000" stroke-width="1.3" />
<text x="275.8" y="606.66" font-size="7.9" text-anchor="end">0.8</text>
<line x1="277.3" y1="583.1" x2="281" y2="583.1" stroke="#000" stroke-width="1.3" />
<text x="275.8" y="585.8" font-size="7.9" text-anchor="end">1.0</text>
<text x="255.4" y="635.2" font-size="9.9" text-anchor="middle" transform="rotate(-90 255.4 635.2)">Relative Luminescence</text>
<rect x="287.2" y="630.56" width="12" height="56.84" fill="#d3d3d3" stroke="#000" stroke-width="1.7" />
<line x1="293.2" y1="687.4" x2="293.2" y2="692" stroke="#000" stroke-width="1.5" />
<text x="296.6" y="698.2" font-size="7.7" text-anchor="end" transform="rotate(-45 296.6 698.2)">Parental</text>
<rect x="305.9" y="658.2" width="12" height="29.2" fill="#fde0e2" stroke="#f0363e" stroke-width="1.7" />
<line x1="311.9" y1="687.4" x2="311.9" y2="692" stroke="#000" stroke-width="1.5" />
<text x="315.3" y="698.2" font-size="7.7" text-anchor="end" transform="rotate(-45 315.3 698.2)">Gef-C9</text>
<rect x="324.6" y="672.8" width="12" height="14.6" fill="#fde0e2" stroke="#f0363e" stroke-width="1.7" />
<line x1="330.6" y1="687.4" x2="330.6" y2="692" stroke="#000" stroke-width="1.5" />
<text x="334" y="698.2" font-size="7.7" text-anchor="end" transform="rotate(-45 334 698.2)">Gef-C1</text>
<rect x="343.3" y="670.71" width="12" height="16.69" fill="#fde0e2" stroke="#f0363e" stroke-width="1.7" />
<line x1="349.3" y1="687.4" x2="349.3" y2="692" stroke="#000" stroke-width="1.5" />
<text x="352.7" y="698.2" font-size="7.7" text-anchor="end" transform="rotate(-45 352.7 698.2)">Gef-C2</text>
<line x1="368" y1="687.4" x2="368" y2="692" stroke="#000" stroke-width="1.5" />
<text x="371.4" y="698.2" font-size="7.7" text-anchor="end" transform="rotate(-45 371.4 698.2)">Gef-C5</text>
<line x1="386.7" y1="687.4" x2="386.7" y2="692" stroke="#000" stroke-width="1.5" />
<text x="390.1" y="698.2" font-size="7.7" text-anchor="end" transform="rotate(-45 390.1 698.2)">Gef-C7</text>
<rect x="399.4" y="677.49" width="12" height="9.91" fill="#fde0e2" stroke="#f0363e" stroke-width="1.7" />
<line x1="405.4" y1="687.4" x2="405.4" y2="692" stroke="#000" stroke-width="1.5" />
<text x="408.8" y="698.2" font-size="7.7" text-anchor="end" transform="rotate(-45 408.8 698.2)">Gef-C12</text>
<rect x="418.1" y="684.79" width="12" height="2.61" fill="#fde0e2" stroke="#f0363e" stroke-width="1.7" />
<line x1="424.1" y1="687.4" x2="424.1" y2="692" stroke="#000" stroke-width="1.5" />
<text x="427.5" y="698.2" font-size="7.7" text-anchor="end" transform="rotate(-45 427.5 698.2)">Gef-Pool</text>
<line x1="293.2" y1="609.8" x2="293.2" y2="648.4" stroke="#000" stroke-width="1.6" />
<line x1="289.6" y1="609.8" x2="296.8" y2="609.8" stroke="#000" stroke-width="1.6" />
<line x1="289.6" y1="648.4" x2="296.8" y2="648.4" stroke="#000" stroke-width="1.6" />
<circle cx="293.2" cy="608.9" r="2.1" fill="#fff" stroke="#000" stroke-width="1.5" />
<circle cx="293.2" cy="637.4" r="2.1" fill="#fff" stroke="#000" stroke-width="1.5" />
<circle cx="293.2" cy="644.2" r="2.1" fill="#fff" stroke="#000" stroke-width="1.5" />
<circle cx="307.4" cy="654.8" r="2.1" fill="#fff" stroke="#f0363e" stroke-width="1.4" />
<circle cx="315.5" cy="658" r="2.1" fill="#fff" stroke="#f0363e" stroke-width="1.4" />
<circle cx="312" cy="662.3" r="2.1" fill="#fff" stroke="#f0363e" stroke-width="1.4" />
<line x1="330.6" y1="666.6" x2="330.6" y2="676" stroke="#f0363e" stroke-width="1.4" />
<line x1="327.2" y1="666.6" x2="334" y2="666.6" stroke="#f0363e" stroke-width="1.4" />
<circle cx="330.7" cy="666.4" r="2.1" fill="#fff" stroke="#f0363e" stroke-width="1.4" />
<circle cx="325.9" cy="674" r="2.1" fill="#fff" stroke="#f0363e" stroke-width="1.4" />
<circle cx="335" cy="674" r="2.1" fill="#fff" stroke="#f0363e" stroke-width="1.4" />
<circle cx="345.1" cy="668.3" r="2.1" fill="#fff" stroke="#f0363e" stroke-width="1.4" />
<circle cx="353.5" cy="670.5" r="2.1" fill="#fff" stroke="#f0363e" stroke-width="1.4" />
<circle cx="349.3" cy="675.8" r="2.1" fill="#fff" stroke="#f0363e" stroke-width="1.4" />
<circle cx="364.1" cy="685.9" r="2.1" fill="#fff" stroke="#f0363e" stroke-width="1.4" />
<circle cx="368.3" cy="685.5" r="2.1" fill="#fff" stroke="#f0363e" stroke-width="1.4" />
<circle cx="372.3" cy="685.9" r="2.1" fill="#fff" stroke="#f0363e" stroke-width="1.4" />
<circle cx="382.4" cy="686" r="2.1" fill="#fff" stroke="#f0363e" stroke-width="1.4" />
<circle cx="386.7" cy="685.5" r="2.1" fill="#fff" stroke="#f0363e" stroke-width="1.4" />
<circle cx="390.8" cy="686" r="2.1" fill="#fff" stroke="#f0363e" stroke-width="1.4" />
<line x1="405.5" y1="667.1" x2="405.5" y2="686" stroke="#f0363e" stroke-width="1.4" />
<line x1="402.1" y1="667.1" x2="408.9" y2="667.1" stroke="#f0363e" stroke-width="1.4" />
<line x1="402.1" y1="686" x2="408.9" y2="686" stroke="#f0363e" stroke-width="1.4" />
<circle cx="405.5" cy="667.1" r="2.1" fill="#fff" stroke="#f0363e" stroke-width="1.4" />
<circle cx="400.8" cy="683.4" r="2.1" fill="#fff" stroke="#f0363e" stroke-width="1.4" />
<circle cx="410.2" cy="680.9" r="2.1" fill="#fff" stroke="#f0363e" stroke-width="1.4" />
<circle cx="424" cy="679.5" r="2.1" fill="#fff" stroke="#f0363e" stroke-width="1.4" />
<circle cx="419.8" cy="685.9" r="2.1" fill="#fff" stroke="#f0363e" stroke-width="1.4" />
<circle cx="428.7" cy="685.1" r="2.1" fill="#fff" stroke="#f0363e" stroke-width="1.4" />
<polyline points="293.2,586.7 376,586.7 376,601.9" stroke="#333" stroke-width="1.5" fill="none" />
<line x1="330.5" y1="601.9" x2="424.3" y2="601.9" stroke="#333" stroke-width="1.5" />
<line x1="293.2" y1="601.9" x2="311.5" y2="601.9" stroke="#333" stroke-width="1.5" />
<text x="334.3" y="583.4" font-size="6.9" text-anchor="middle" style="stroke-width:0.1px">p &lt; .0001</text>
<text x="305.6" y="598.8" font-size="6.9" text-anchor="middle" style="stroke-width:0.1px">p = .0038</text>
<text x="463.3" y="553.5" font-size="14" font-weight="bold">g</text>
<text x="603.2" y="573.1" font-size="10" text-anchor="middle">HCC827</text>
<line x1="525.2" y1="586" x2="525.2" y2="687.5" stroke="#000" stroke-width="1.9" />
<line x1="524.3" y1="686.6" x2="681.9" y2="686.6" stroke="#000" stroke-width="1.9" />
<line x1="521.4" y1="686.6" x2="525.2" y2="686.6" stroke="#000" stroke-width="1.3" />
<text x="520.2" y="689.4" font-size="8.2" text-anchor="end">0.0</text>
<line x1="521.4" y1="666.5" x2="525.2" y2="666.5" stroke="#000" stroke-width="1.3" />
<text x="520.2" y="669.3" font-size="8.2" text-anchor="end">0.2</text>
<line x1="521.4" y1="646.4" x2="525.2" y2="646.4" stroke="#000" stroke-width="1.3" />
<text x="520.2" y="649.2" font-size="8.2" text-anchor="end">0.4</text>
<line x1="521.4" y1="626.3" x2="525.2" y2="626.3" stroke="#000" stroke-width="1.3" />
<text x="520.2" y="629.1" font-size="8.2" text-anchor="end">0.6</text>
<line x1="521.4" y1="606.2" x2="525.2" y2="606.2" stroke="#000" stroke-width="1.3" />
<text x="520.2" y="609" font-size="8.2" text-anchor="end">0.8</text>
<line x1="521.4" y1="586.1" x2="525.2" y2="586.1" stroke="#000" stroke-width="1.3" />
<text x="520.2" y="588.9" font-size="8.2" text-anchor="end">1.0</text>
<text x="498.8" y="636.5" font-size="9.7" text-anchor="middle" transform="rotate(-90 498.8 636.5)">Relative Luminescence</text>
<rect x="531" y="625.8" width="10.6" height="60.8" fill="#d3d3d3" stroke="#000" stroke-width="1.7" />
<line x1="536.3" y1="686.6" x2="536.3" y2="691" stroke="#000" stroke-width="1.5" />
<text x="539.6" y="697.4" font-size="7.7" text-anchor="end" transform="rotate(-45 539.6 697.4)">DMSO</text>
<line x1="552.95" y1="686.6" x2="552.95" y2="691" stroke="#000" stroke-width="1.5" />
<text x="556.25" y="697.4" font-size="7.7" text-anchor="end" transform="rotate(-45 556.25 697.4)">Gef-C1</text>
<rect x="564.3" y="677.05" width="10.6" height="9.55" fill="#fde0e2" stroke="#f0363e" stroke-width="1.7" />
<line x1="569.6" y1="686.6" x2="569.6" y2="691" stroke="#000" stroke-width="1.5" />
<text x="572.9" y="697.4" font-size="7.7" text-anchor="end" transform="rotate(-45 572.9 697.4)">Gef-C3</text>
<line x1="586.25" y1="686.6" x2="586.25" y2="691" stroke="#000" stroke-width="1.5" />
<text x="589.55" y="697.4" font-size="7.7" text-anchor="end" transform="rotate(-45 589.55 697.4)">Gef-C4</text>
<line x1="602.9" y1="686.6" x2="602.9" y2="691" stroke="#000" stroke-width="1.5" />
<text x="606.2" y="697.4" font-size="7.7" text-anchor="end" transform="rotate(-45 606.2 697.4)">Gef-C5</text>
<rect x="614.25" y="683.08" width="10.6" height="3.52" fill="#fde0e2" stroke="#f0363e" stroke-width="1.7" />
<line x1="619.55" y1="686.6" x2="619.55" y2="691" stroke="#000" stroke-width="1.5" />
<text x="622.85" y="697.4" font-size="7.7" text-anchor="end" transform="rotate(-45 622.85 697.4)">Gef-C7</text>
<line x1="636.2" y1="686.6" x2="636.2" y2="691" stroke="#000" stroke-width="1.5" />
<text x="639.5" y="697.4" font-size="7.7" text-anchor="end" transform="rotate(-45 639.5 697.4)">Gef-C9</text>
<line x1="652.85" y1="686.6" x2="652.85" y2="691" stroke="#000" stroke-width="1.5" />
<text x="656.15" y="697.4" font-size="7.7" text-anchor="end" transform="rotate(-45 656.15 697.4)">Gef-C10</text>
<line x1="669.5" y1="686.6" x2="669.5" y2="691" stroke="#000" stroke-width="1.5" />
<text x="672.8" y="697.4" font-size="7.7" text-anchor="end" transform="rotate(-45 672.8 697.4)">Gef-Pool</text>
<circle cx="532.6" cy="625.7" r="2.1" fill="#fff" stroke="#000" stroke-width="1.4" />
<circle cx="536.1" cy="621.7" r="2.1" fill="#fff" stroke="#000" stroke-width="1.4" />
<circle cx="539.9" cy="623.4" r="2.1" fill="#fff" stroke="#000" stroke-width="1.4" />
<circle cx="549.05" cy="686" r="2" fill="#fff" stroke="#f0363e" stroke-width="1.4" />
<circle cx="552.95" cy="686" r="2" fill="#fff" stroke="#f0363e" stroke-width="1.4" />
<circle cx="556.85" cy="686" r="2" fill="#fff" stroke="#f0363e" stroke-width="1.4" />
<circle cx="582.35" cy="686" r="2" fill="#fff" stroke="#f0363e" stroke-width="1.4" />
<circle cx="586.25" cy="686" r="2" fill="#fff" stroke="#f0363e" stroke-width="1.4" />
<circle cx="590.15" cy="686" r="2" fill="#fff" stroke="#f0363e" stroke-width="1.4" />
<circle cx="599" cy="686" r="2" fill="#fff" stroke="#f0363e" stroke-width="1.4" />
<circle cx="602.9" cy="686" r="2" fill="#fff" stroke="#f0363e" stroke-width="1.4" />
<circle cx="606.8" cy="686" r="2" fill="#fff" stroke="#f0363e" stroke-width="1.4" />
<circle cx="632.3" cy="686" r="2" fill="#fff" stroke="#f0363e" stroke-width="1.4" />
<circle cx="636.2" cy="686" r="2" fill="#fff" stroke="#f0363e" stroke-width="1.4" />
<circle cx="640.1" cy="686" r="2" fill="#fff" stroke="#f0363e" stroke-width="1.4" />
<circle cx="648.95" cy="686" r="2" fill="#fff" stroke="#f0363e" stroke-width="1.4" />
<circle cx="652.85" cy="686" r="2" fill="#fff" stroke="#f0363e" stroke-width="1.4" />
<circle cx="656.75" cy="686" r="2" fill="#fff" stroke="#f0363e" stroke-width="1.4" />
<circle cx="665.6" cy="686" r="2" fill="#fff" stroke="#f0363e" stroke-width="1.4" />
<circle cx="669.5" cy="686" r="2" fill="#fff" stroke="#f0363e" stroke-width="1.4" />
<circle cx="673.4" cy="686" r="2" fill="#fff" stroke="#f0363e" stroke-width="1.4" />
<circle cx="569.7" cy="671.3" r="2" fill="#fff" stroke="#f0363e" stroke-width="1.4" />
<circle cx="565.8" cy="677.2" r="2" fill="#fff" stroke="#f0363e" stroke-width="1.4" />
<circle cx="573.7" cy="676.5" r="2" fill="#fff" stroke="#f0363e" stroke-width="1.4" />
<circle cx="616.2" cy="679.4" r="2" fill="#fff" stroke="#f0363e" stroke-width="1.4" />
<circle cx="619.9" cy="681.2" r="2" fill="#fff" stroke="#f0363e" stroke-width="1.4" />
<circle cx="623" cy="683.1" r="2" fill="#fff" stroke="#f0363e" stroke-width="1.4" />
<line x1="533.2" y1="611.1" x2="668.8" y2="611.1" stroke="#333" stroke-width="1.5" />
<text x="603" y="606.1" font-size="6.9" text-anchor="middle" style="stroke-width:0.1px">p &lt; .0001</text>
<text x="-0.8" y="746.8" font-size="14" font-weight="bold">h</text>
<text x="120.9" y="759.4" font-size="10" text-anchor="middle">MGH134</text>
<line x1="43.1" y1="772.3" x2="43.1" y2="878" stroke="#000" stroke-width="1.8" />
<line x1="42.2" y1="877.2" x2="199.4" y2="877.2" stroke="#000" stroke-width="1.8" />
<line x1="39.5" y1="877.2" x2="43.1" y2="877.2" stroke="#000" stroke-width="1.3" />
<text x="38.5" y="880.1" font-size="8.4" text-anchor="end">0.0</text>
<line x1="39.5" y1="833.6" x2="43.1" y2="833.6" stroke="#000" stroke-width="1.3" />
<text x="38.5" y="836.5" font-size="8.4" text-anchor="end">0.5</text>
<line x1="39.5" y1="790" x2="43.1" y2="790" stroke="#000" stroke-width="1.3" />
<text x="38.5" y="792.9" font-size="8.4" text-anchor="end">1.0</text>
<line x1="41" y1="855.4" x2="43.1" y2="855.4" stroke="#000" stroke-width="1.1" />
<line x1="41" y1="811.8" x2="43.1" y2="811.8" stroke="#000" stroke-width="1.1" />
<line x1="43.1" y1="877.2" x2="43.1" y2="881" stroke="#000" stroke-width="1.3" />
<text x="43.1" y="890.2" font-size="8.4" text-anchor="middle">0.0</text>
<line x1="82.15" y1="877.2" x2="82.15" y2="881" stroke="#000" stroke-width="1.3" />
<text x="82.15" y="890.2" font-size="8.4" text-anchor="middle">0.5</text>
<line x1="121.2" y1="877.2" x2="121.2" y2="881" stroke="#000" stroke-width="1.3" />
<text x="121.2" y="890.2" font-size="8.4" text-anchor="middle">1.0</text>
<line x1="160.25" y1="877.2" x2="160.25" y2="881" stroke="#000" stroke-width="1.3" />
<text x="160.25" y="890.2" font-size="8.4" text-anchor="middle">1.5</text>
<line x1="199.3" y1="877.2" x2="199.3" y2="881" stroke="#000" stroke-width="1.3" />
<text x="199.3" y="890.2" font-size="8.4" text-anchor="middle">2.0</text>
<text x="120.9" y="902.6" font-size="8.4" text-anchor="middle">[MCB-613]</text>
<text x="120.9" y="913.4" font-size="8.4" text-anchor="middle">(µM)</text>
<text x="21.4" y="825" font-size="8.4" text-anchor="middle" transform="rotate(-90 21.4 825)">Relative Luminescence</text>
<polyline points="43.1,793.49 62.62,803.95 82.15,809.18 101.67,817.9 121.2,832.73 140.72,850.17 160.25,854.53 179.77,855.84 199.3,856.27" stroke="#f47c7c" stroke-width="2" fill="none" />
<polyline points="43.1,786.51 62.62,803.95 82.15,818.78 101.67,847.55 121.2,855.84 140.72,855.84 160.25,853.22 179.77,855.4 199.3,865.86" stroke="#f03036" stroke-width="2" fill="none" />
<polyline points="43.1,790 62.62,790 82.15,791.74 101.67,795.23 121.2,802.21 140.72,821.83 160.25,836.22 179.77,846.24 199.3,850.08" stroke="#000" stroke-width="2.1" fill="none" />
<line x1="101.67" y1="792.62" x2="101.67" y2="797.85" stroke="#000" stroke-width="1.4" />
<line x1="99.08" y1="792.62" x2="104.27" y2="792.62" stroke="#000" stroke-width="1.4" />
<line x1="99.08" y1="797.85" x2="104.27" y2="797.85" stroke="#000" stroke-width="1.4" />
<line x1="121.2" y1="800.46" x2="121.2" y2="803.95" stroke="#000" stroke-width="1.4" />
<line x1="118.6" y1="800.46" x2="123.8" y2="800.46" stroke="#000" stroke-width="1.4" />
<line x1="118.6" y1="803.95" x2="123.8" y2="803.95" stroke="#000" stroke-width="1.4" />
<line x1="140.72" y1="815.9" x2="140.72" y2="827.76" stroke="#000" stroke-width="1.4" />
<line x1="138.12" y1="815.9" x2="143.32" y2="815.9" stroke="#000" stroke-width="1.4" />
<line x1="138.12" y1="827.76" x2="143.32" y2="827.76" stroke="#000" stroke-width="1.4" />
<line x1="160.25" y1="834.47" x2="160.25" y2="837.96" stroke="#000" stroke-width="1.4" />
<line x1="157.65" y1="834.47" x2="162.85" y2="834.47" stroke="#000" stroke-width="1.4" />
<line x1="157.65" y1="837.96" x2="162.85" y2="837.96" stroke="#000" stroke-width="1.4" />
<line x1="199.3" y1="848.34" x2="199.3" y2="851.82" stroke="#000" stroke-width="1.4" />
<line x1="196.7" y1="848.34" x2="201.9" y2="848.34" stroke="#000" stroke-width="1.4" />
<line x1="196.7" y1="851.82" x2="201.9" y2="851.82" stroke="#000" stroke-width="1.4" />
<line x1="43.1" y1="783.9" x2="43.1" y2="789.13" stroke="#f03036" stroke-width="1.4" />
<line x1="40.7" y1="783.9" x2="45.5" y2="783.9" stroke="#f03036" stroke-width="1.4" />
<line x1="40.7" y1="789.13" x2="45.5" y2="789.13" stroke="#f03036" stroke-width="1.4" />
<line x1="62.62" y1="801.34" x2="62.62" y2="806.57" stroke="#f09090" stroke-width="1.4" />
<line x1="60.23" y1="801.34" x2="65.03" y2="801.34" stroke="#f09090" stroke-width="1.4" />
<line x1="60.23" y1="806.57" x2="65.03" y2="806.57" stroke="#f09090" stroke-width="1.4" />
<line x1="82.15" y1="807.44" x2="82.15" y2="811.8" stroke="#f09090" stroke-width="1.4" />
<line x1="79.75" y1="807.44" x2="84.55" y2="807.44" stroke="#f09090" stroke-width="1.4" />
<line x1="79.75" y1="811.8" x2="84.55" y2="811.8" stroke="#f09090" stroke-width="1.4" />
<line x1="82.15" y1="816.16" x2="82.15" y2="821.39" stroke="#f03036" stroke-width="1.4" />
<line x1="79.75" y1="816.16" x2="84.55" y2="816.16" stroke="#f03036" stroke-width="1.4" />
<line x1="79.75" y1="821.39" x2="84.55" y2="821.39" stroke="#f03036" stroke-width="1.4" />
<rect x="40.75" y="791.14" width="4.7" height="4.7" fill="#f09090" stroke="#b04048" stroke-width="1" />
<rect x="60.27" y="801.6" width="4.7" height="4.7" fill="#f09090" stroke="#b04048" stroke-width="1" />
<rect x="79.8" y="806.83" width="4.7" height="4.7" fill="#f09090" stroke="#b04048" stroke-width="1" />
<rect x="99.33" y="815.55" width="4.7" height="4.7" fill="#f09090" stroke="#b04048" stroke-width="1" />
<rect x="118.85" y="830.38" width="4.7" height="4.7" fill="#f09090" stroke="#b04048" stroke-width="1" />
<rect x="138.38" y="847.82" width="4.7" height="4.7" fill="#f09090" stroke="#b04048" stroke-width="1" />
<rect x="157.9" y="852.18" width="4.7" height="4.7" fill="#f09090" stroke="#b04048" stroke-width="1" />
<rect x="177.42" y="853.49" width="4.7" height="4.7" fill="#f09090" stroke="#b04048" stroke-width="1" />
<rect x="196.95" y="853.92" width="4.7" height="4.7" fill="#f09090" stroke="#b04048" stroke-width="1" />
<path d="M40.7 788.67L45.5 788.67L43.1 784.35Z" fill="#f8a0a0" stroke="#c01018" stroke-width="1" />
<path d="M60.23 806.11L65.03 806.11L62.62 801.79Z" fill="#f8a0a0" stroke="#c01018" stroke-width="1" />
<path d="M79.75 820.94L84.55 820.94L82.15 816.62Z" fill="#f8a0a0" stroke="#c01018" stroke-width="1" />
<path d="M99.27 849.71L104.08 849.71L101.67 845.39Z" fill="#f8a0a0" stroke="#c01018" stroke-width="1" />
<path d="M118.8 858L123.6 858L121.2 853.68Z" fill="#f8a0a0" stroke="#c01018" stroke-width="1" />
<path d="M138.32 858L143.12 858L140.72 853.68Z" fill="#f8a0a0" stroke="#c01018" stroke-width="1" />
<path d="M157.85 855.38L162.65 855.38L160.25 851.06Z" fill="#f8a0a0" stroke="#c01018" stroke-width="1" />
<path d="M177.37 857.56L182.17 857.56L179.77 853.24Z" fill="#f8a0a0" stroke="#c01018" stroke-width="1" />
<path d="M196.9 868.02L201.7 868.02L199.3 863.7Z" fill="#f8a0a0" stroke="#c01018" stroke-width="1" />
<circle cx="43.1" cy="790" r="2.4" fill="#000" />
<circle cx="62.62" cy="790" r="2.4" fill="#000" />
<circle cx="82.15" cy="791.74" r="2.4" fill="#000" />
<circle cx="101.67" cy="795.23" r="2.4" fill="#000" />
<circle cx="121.2" cy="802.21" r="2.4" fill="#000" />
<circle cx="140.72" cy="821.83" r="2.4" fill="#000" />
<circle cx="160.25" cy="836.22" r="2.4" fill="#000" />
<circle cx="179.77" cy="846.24" r="2.4" fill="#000" />
<circle cx="199.3" cy="850.08" r="2.4" fill="#000" />
<line x1="43.9" y1="847.5" x2="56.3" y2="847.5" stroke="#000" stroke-width="2" />
<circle cx="50.1" cy="847.5" r="2.4" fill="#000" />
<line x1="43.9" y1="859.2" x2="56.3" y2="859.2" stroke="#f47c7c" stroke-width="2" />
<rect x="47.5" y="856.6" width="5.2" height="5.2" fill="#f09090" stroke="#b04048" stroke-width="1" />
<line x1="43.9" y1="870.4" x2="56.3" y2="870.4" stroke="#f03036" stroke-width="2" />
<path d="M47.5 872.74L52.7 872.74L50.1 868.06Z" fill="#f8a0a0" stroke="#c01018" stroke-width="1" />
<text x="57.8" y="850.4" font-size="8.6">MGH134</text>
<text x="57.8" y="862.1" font-size="8.6">MGH134 OR1</text>
<text x="57.8" y="873.3" font-size="8.6">MGH134 OR2</text>
<text x="226.8" y="747.8" font-size="14" font-weight="bold">i</text>
<text x="355.5" y="756.9" font-size="10.3" text-anchor="middle">Flank Xenograft</text>
<line x1="275" y1="769.8" x2="275" y2="878.3" stroke="#000" stroke-width="1.8" />
<line x1="274.1" y1="877.4" x2="435.8" y2="877.4" stroke="#000" stroke-width="1.8" />
<line x1="271.3" y1="877.4" x2="275" y2="877.4" stroke="#000" stroke-width="1.3" />
<text x="270.4" y="880.3" font-size="8.4" text-anchor="end">0.0</text>
<line x1="271.3" y1="832.75" x2="275" y2="832.75" stroke="#000" stroke-width="1.3" />
<text x="270.4" y="835.65" font-size="8.4" text-anchor="end">0.5</text>
<line x1="271.3" y1="788.1" x2="275" y2="788.1" stroke="#000" stroke-width="1.3" />
<text x="270.4" y="791" font-size="8.4" text-anchor="end">1.0</text>
<line x1="272.8" y1="855.07" x2="275" y2="855.07" stroke="#000" stroke-width="1.1" />
<line x1="272.8" y1="810.42" x2="275" y2="810.42" stroke="#000" stroke-width="1.1" />
<line x1="275" y1="877.4" x2="275" y2="881.2" stroke="#000" stroke-width="1.3" />
<text x="275" y="890.3" font-size="8.4" text-anchor="middle">0.0</text>
<line x1="315.15" y1="877.4" x2="315.15" y2="881.2" stroke="#000" stroke-width="1.3" />
<text x="315.15" y="890.3" font-size="8.4" text-anchor="middle">0.5</text>
<line x1="355.3" y1="877.4" x2="355.3" y2="881.2" stroke="#000" stroke-width="1.3" />
<text x="355.3" y="890.3" font-size="8.4" text-anchor="middle">1.0</text>
<line x1="395.45" y1="877.4" x2="395.45" y2="881.2" stroke="#000" stroke-width="1.3" />
<text x="395.45" y="890.3" font-size="8.4" text-anchor="middle">1.5</text>
<line x1="435.6" y1="877.4" x2="435.6" y2="881.2" stroke="#000" stroke-width="1.3" />
<text x="435.6" y="890.3" font-size="8.4" text-anchor="middle">2.0</text>
<text x="354.9" y="902.5" font-size="8.8" text-anchor="middle">Week</text>
<text transform="rotate(-90 254 828.5)" x="254" y="828.5" font-size="8.7" text-anchor="middle">Tumor Volume (cm<tspan font-size="5.6" dy="-3">3</tspan><tspan dy="3">)</tspan></text>
<polyline points="275,871.15 355.3,867.58 435.6,851.95" stroke="#f01c24" stroke-width="1.5" fill="none" stroke-dasharray="3.6,2.4" />
<polyline points="275,870.26 355.3,860.43 435.6,815.78" stroke="#000" stroke-width="1.5" fill="none" stroke-dasharray="3.6,2.4" />
<polyline points="275,870.26 355.3,847.93 435.6,805.07" stroke="#f01c24" stroke-width="2" fill="none" />
<polyline points="275,870.26 355.3,848.38 435.6,794.35" stroke="#000" stroke-width="2.2" fill="none" />
<line x1="355.3" y1="844.36" x2="355.3" y2="852.4" stroke="#f01c24" stroke-width="1.3" />
<line x1="352.8" y1="844.36" x2="357.8" y2="844.36" stroke="#f01c24" stroke-width="1.3" />
<line x1="352.8" y1="852.4" x2="357.8" y2="852.4" stroke="#f01c24" stroke-width="1.3" />
<line x1="355.3" y1="845.25" x2="355.3" y2="851.5" stroke="#000" stroke-width="1.3" />
<line x1="352.8" y1="845.25" x2="357.8" y2="845.25" stroke="#000" stroke-width="1.3" />
<line x1="352.8" y1="851.5" x2="357.8" y2="851.5" stroke="#000" stroke-width="1.3" />
<line x1="435.6" y1="787.21" x2="435.6" y2="801.5" stroke="#000" stroke-width="1.3" />
<line x1="433.1" y1="787.21" x2="438.1" y2="787.21" stroke="#000" stroke-width="1.3" />
<line x1="433.1" y1="801.5" x2="438.1" y2="801.5" stroke="#000" stroke-width="1.3" />
<line x1="435.6" y1="809.53" x2="435.6" y2="822.03" stroke="#000" stroke-width="1.3" />
<line x1="433.1" y1="809.53" x2="438.1" y2="809.53" stroke="#000" stroke-width="1.3" />
<line x1="433.1" y1="822.03" x2="438.1" y2="822.03" stroke="#000" stroke-width="1.3" />
<line x1="435.6" y1="848.82" x2="435.6" y2="854.63" stroke="#f01c24" stroke-width="1.3" />
<line x1="433.1" y1="848.82" x2="438.1" y2="848.82" stroke="#f01c24" stroke-width="1.3" />
<line x1="433.1" y1="854.63" x2="438.1" y2="854.63" stroke="#f01c24" stroke-width="1.3" />
<line x1="355.3" y1="858.65" x2="355.3" y2="862.22" stroke="#000" stroke-width="1.3" />
<line x1="352.8" y1="858.65" x2="357.8" y2="858.65" stroke="#000" stroke-width="1.3" />
<line x1="352.8" y1="862.22" x2="357.8" y2="862.22" stroke="#000" stroke-width="1.3" />
<path d="M272.5 868.9L277.5 868.9L275 873.4Z" fill="#f01c24" />
<path d="M352.8 865.33L357.8 865.33L355.3 869.83Z" fill="#f01c24" />
<path d="M433.1 849.7L438.1 849.7L435.6 854.2Z" fill="#f01c24" />
<path d="M272.5 872.51L277.5 872.51L275 868.01Z" fill="#f01c24" />
<path d="M352.8 850.18L357.8 850.18L355.3 845.68Z" fill="#f01c24" />
<path d="M433.1 807.32L438.1 807.32L435.6 802.82Z" fill="#f01c24" />
<rect x="272.7" y="867.96" width="4.6" height="4.6" fill="#000" />
<rect x="353" y="858.13" width="4.6" height="4.6" fill="#000" />
<rect x="433.3" y="813.48" width="4.6" height="4.6" fill="#000" />
<circle cx="275" cy="870.26" r="2.4" fill="#000" />
<circle cx="355.3" cy="848.38" r="2.4" fill="#000" />
<circle cx="435.6" cy="794.35" r="2.4" fill="#000" />
<line x1="283" y1="779.3" x2="295.3" y2="779.3" stroke="#000" stroke-width="2" />
<circle cx="289.2" cy="779.3" r="2.4" fill="#000" />
<line x1="283" y1="794" x2="295.3" y2="794" stroke="#000" stroke-width="1.5" stroke-dasharray="3,2" />
<rect x="286.9" y="791.7" width="4.6" height="4.6" fill="#000" />
<line x1="283" y1="808.4" x2="295.3" y2="808.4" stroke="#f01c24" stroke-width="2" />
<path d="M286.7 810.65L291.7 810.65L289.2 806.15Z" fill="#f01c24" />
<line x1="283" y1="822.4" x2="295.3" y2="822.4" stroke="#f01c24" stroke-width="1.5" stroke-dasharray="3,2" />
<path d="M286.7 820.15L291.7 820.15L289.2 824.65Z" fill="#f01c24" />
<text x="301.4" y="782.3" font-size="8.7">PC9 (Vehicle)</text>
<text x="301.4" y="797" font-size="8.7">PC9 (MCB-613)</text>
<text x="301.4" y="811.4" font-size="8.7">GR4 (Vehicle)</text>
<text x="301.4" y="825.4" font-size="8.7">GR4 (MCB-613)</text>
<line x1="440.9" y1="815.5" x2="440.9" y2="851.3" stroke="#333" stroke-width="1.2" />
<text x="444.9" y="832.2" font-size="6.9" text-anchor="middle" style="stroke-width:0.1px" transform="rotate(90 444.9 832.2)">p = .0110</text>
<polyline points="441.4,805.8 454.7,805.8 454.7,851.5 448,851.5" stroke="#333" stroke-width="1.2" fill="none" />
<text x="458.9" y="827.3" font-size="6.9" text-anchor="middle" style="stroke-width:0.1px" transform="rotate(90 458.9 827.3)">p = .0008</text>
<text x="465.6" y="746.8" font-size="14" font-weight="bold">j</text>
<text x="605.5" y="761.5" font-size="9.9" text-anchor="middle">PC9 Heterogenous Population</text>
<line x1="520.5" y1="775.5" x2="520.5" y2="879" stroke="#000" stroke-width="2.2" />
<line x1="519.4" y1="877.8" x2="685" y2="877.8" stroke="#000" stroke-width="2.2" />
<line x1="517.3" y1="877.8" x2="520.5" y2="877.8" stroke="#000" stroke-width="1.7" />
<text x="516.2" y="881.2" font-size="9.3" text-anchor="end">0</text>
<line x1="517.3" y1="857.45" x2="520.5" y2="857.45" stroke="#000" stroke-width="1.7" />
<text x="513.1" y="861.35" font-size="9.4" text-anchor="end">1×10</text>
<text x="513.1" y="858.65" font-size="7">9</text>
<line x1="517.3" y1="837.1" x2="520.5" y2="837.1" stroke="#000" stroke-width="1.7" />
<text x="513.1" y="841" font-size="9.4" text-anchor="end">2×10</text>
<text x="513.1" y="838.3" font-size="7">9</text>
<line x1="517.3" y1="816.75" x2="520.5" y2="816.75" stroke="#000" stroke-width="1.7" />
<text x="513.1" y="820.65" font-size="9.4" text-anchor="end">3×10</text>
<text x="513.1" y="817.95" font-size="7">9</text>
<line x1="517.3" y1="796.4" x2="520.5" y2="796.4" stroke="#000" stroke-width="1.7" />
<text x="513.1" y="800.3" font-size="9.4" text-anchor="end">4×10</text>
<text x="513.1" y="797.6" font-size="7">9</text>
<line x1="517.3" y1="776.05" x2="520.5" y2="776.05" stroke="#000" stroke-width="1.7" />
<text x="513.1" y="779.95" font-size="9.4" text-anchor="end">5×10</text>
<text x="513.1" y="777.25" font-size="7">9</text>
<line x1="520.8" y1="877.8" x2="520.8" y2="882" stroke="#000" stroke-width="1.8" />
<text x="520.8" y="891.5" font-size="9.6" text-anchor="middle">0</text>
<line x1="567.68" y1="877.8" x2="567.68" y2="882" stroke="#000" stroke-width="1.8" />
<text x="567.68" y="891.5" font-size="9.6" text-anchor="middle">20</text>
<line x1="614.56" y1="877.8" x2="614.56" y2="882" stroke="#000" stroke-width="1.8" />
<text x="614.56" y="891.5" font-size="9.6" text-anchor="middle">40</text>
<line x1="661.44" y1="877.8" x2="661.44" y2="882" stroke="#000" stroke-width="1.8" />
<text x="661.44" y="891.5" font-size="9.6" text-anchor="middle">60</text>
<text x="603.9" y="904.6" font-size="9" text-anchor="middle">Days</text>
<text x="485.4" y="815.6" font-size="9.5" text-anchor="middle" transform="rotate(-90 485.4 815.6)">Cell Number (Estimated)</text>
<g clip-path="url(#clipj)">
<polyline points="548.93,877.8 555.96,869.66 561.12,775.03" stroke="#a2a2a2" stroke-width="2.6" fill="none" stroke-dasharray="4.5,1.8" />
<polyline points="548.93,877.8 555.96,867.62 566.04,775.03" stroke="#a2a2a2" stroke-width="2.6" fill="none" stroke-dasharray="4.5,1.8" />
<polyline points="548.93,877.8 555.96,871.69 568.15,806.57" stroke="#a2a2a2" stroke-width="2.6" fill="none" stroke-dasharray="4.5,1.8" />
</g>
<polyline points="520.8,877.8 537.21,877.8 545.41,876.78 555.96,846.26" stroke="#000" stroke-width="2.2" fill="none" />
<polyline points="545.41,876.78 555.96,868.64 567.68,816.75" stroke="#000" stroke-width="2.2" fill="none" />
<polyline points="545.41,876.78 555.96,869.66 567.68,859.48" stroke="#000" stroke-width="2.2" fill="none" />
<rect x="518.9" y="875.9" width="3.8" height="3.8" fill="#000" />
<rect x="535.31" y="875.9" width="3.8" height="3.8" fill="#000" />
<rect x="543.51" y="875.29" width="3.8" height="3.8" fill="#000" />
<rect x="554.06" y="844.36" width="3.8" height="3.8" fill="#000" />
<rect x="554.06" y="866.74" width="3.8" height="3.8" fill="#000" />
<rect x="565.78" y="814.85" width="3.8" height="3.8" fill="#000" />
<rect x="565.78" y="857.58" width="3.8" height="3.8" fill="#000" />
<line x1="547.76" y1="877.6" x2="676.8" y2="877.6" stroke="#ee1c24" stroke-width="2.4" />
<path d="M553.2 874.83L557.8 874.83L555.5 878.97Z" fill="#ee1c24" />
<path d="M565 874.83L569.6 874.83L567.3 878.97Z" fill="#ee1c24" />
<path d="M576.2 874.83L580.8 874.83L578.5 878.97Z" fill="#ee1c24" />
<path d="M588.9 874.83L593.5 874.83L591.2 878.97Z" fill="#ee1c24" />
<path d="M600.2 874.83L604.8 874.83L602.5 878.97Z" fill="#ee1c24" />
<path d="M607.9 874.83L612.5 874.83L610.2 878.97Z" fill="#ee1c24" />
<path d="M624 874.83L628.6 874.83L626.3 878.97Z" fill="#ee1c24" />
<path d="M638 874.83L642.6 874.83L640.3 878.97Z" fill="#ee1c24" />
<path d="M649.5 874.83L654.1 874.83L651.8 878.97Z" fill="#ee1c24" />
<path d="M661 874.83L665.6 874.83L663.3 878.97Z" fill="#ee1c24" />
<path d="M672.5 874.83L677.1 874.83L674.8 878.97Z" fill="#ee1c24" />
<line x1="595.6" y1="781.5" x2="607.8" y2="781.5" stroke="#000" stroke-width="2.2" />
<rect x="599.9" y="779.7" width="3.6" height="3.6" fill="#000" />
<line x1="595.6" y1="793.4" x2="607.8" y2="793.4" stroke="#a2a2a2" stroke-width="2.4" />
<path d="M599.9 791.78L603.5 791.78L601.7 795.02Z" fill="#a2a2a2" />
<line x1="595.6" y1="804.7" x2="607.8" y2="804.7" stroke="#ee1c24" stroke-width="2" />
<path d="M599.9 803.08L603.5 803.08L601.7 806.32Z" fill="#ee1c24" />
<text x="613.3" y="784.3" font-size="8.1">MCB-613 (3.5 µM)</text>
<text x="613.3" y="796.2" font-size="8.1">Gefitinib (1 µM)</text>
<text x="613.3" y="807.5" font-size="8.1">Combination</text>
<text x="624.8" y="841.2" font-size="8.1" text-anchor="middle">drug</text>
<text x="624.6" y="851.3" font-size="8.1" text-anchor="middle">removed</text>
<line x1="624.8" y1="854.5" x2="624.8" y2="869.5" stroke="#000" stroke-width="1.6" />
<path d="M621.3 868.5 L628.3 868.5 L624.8 875.3 Z" fill="#000" />
</g></svg></body></html>
